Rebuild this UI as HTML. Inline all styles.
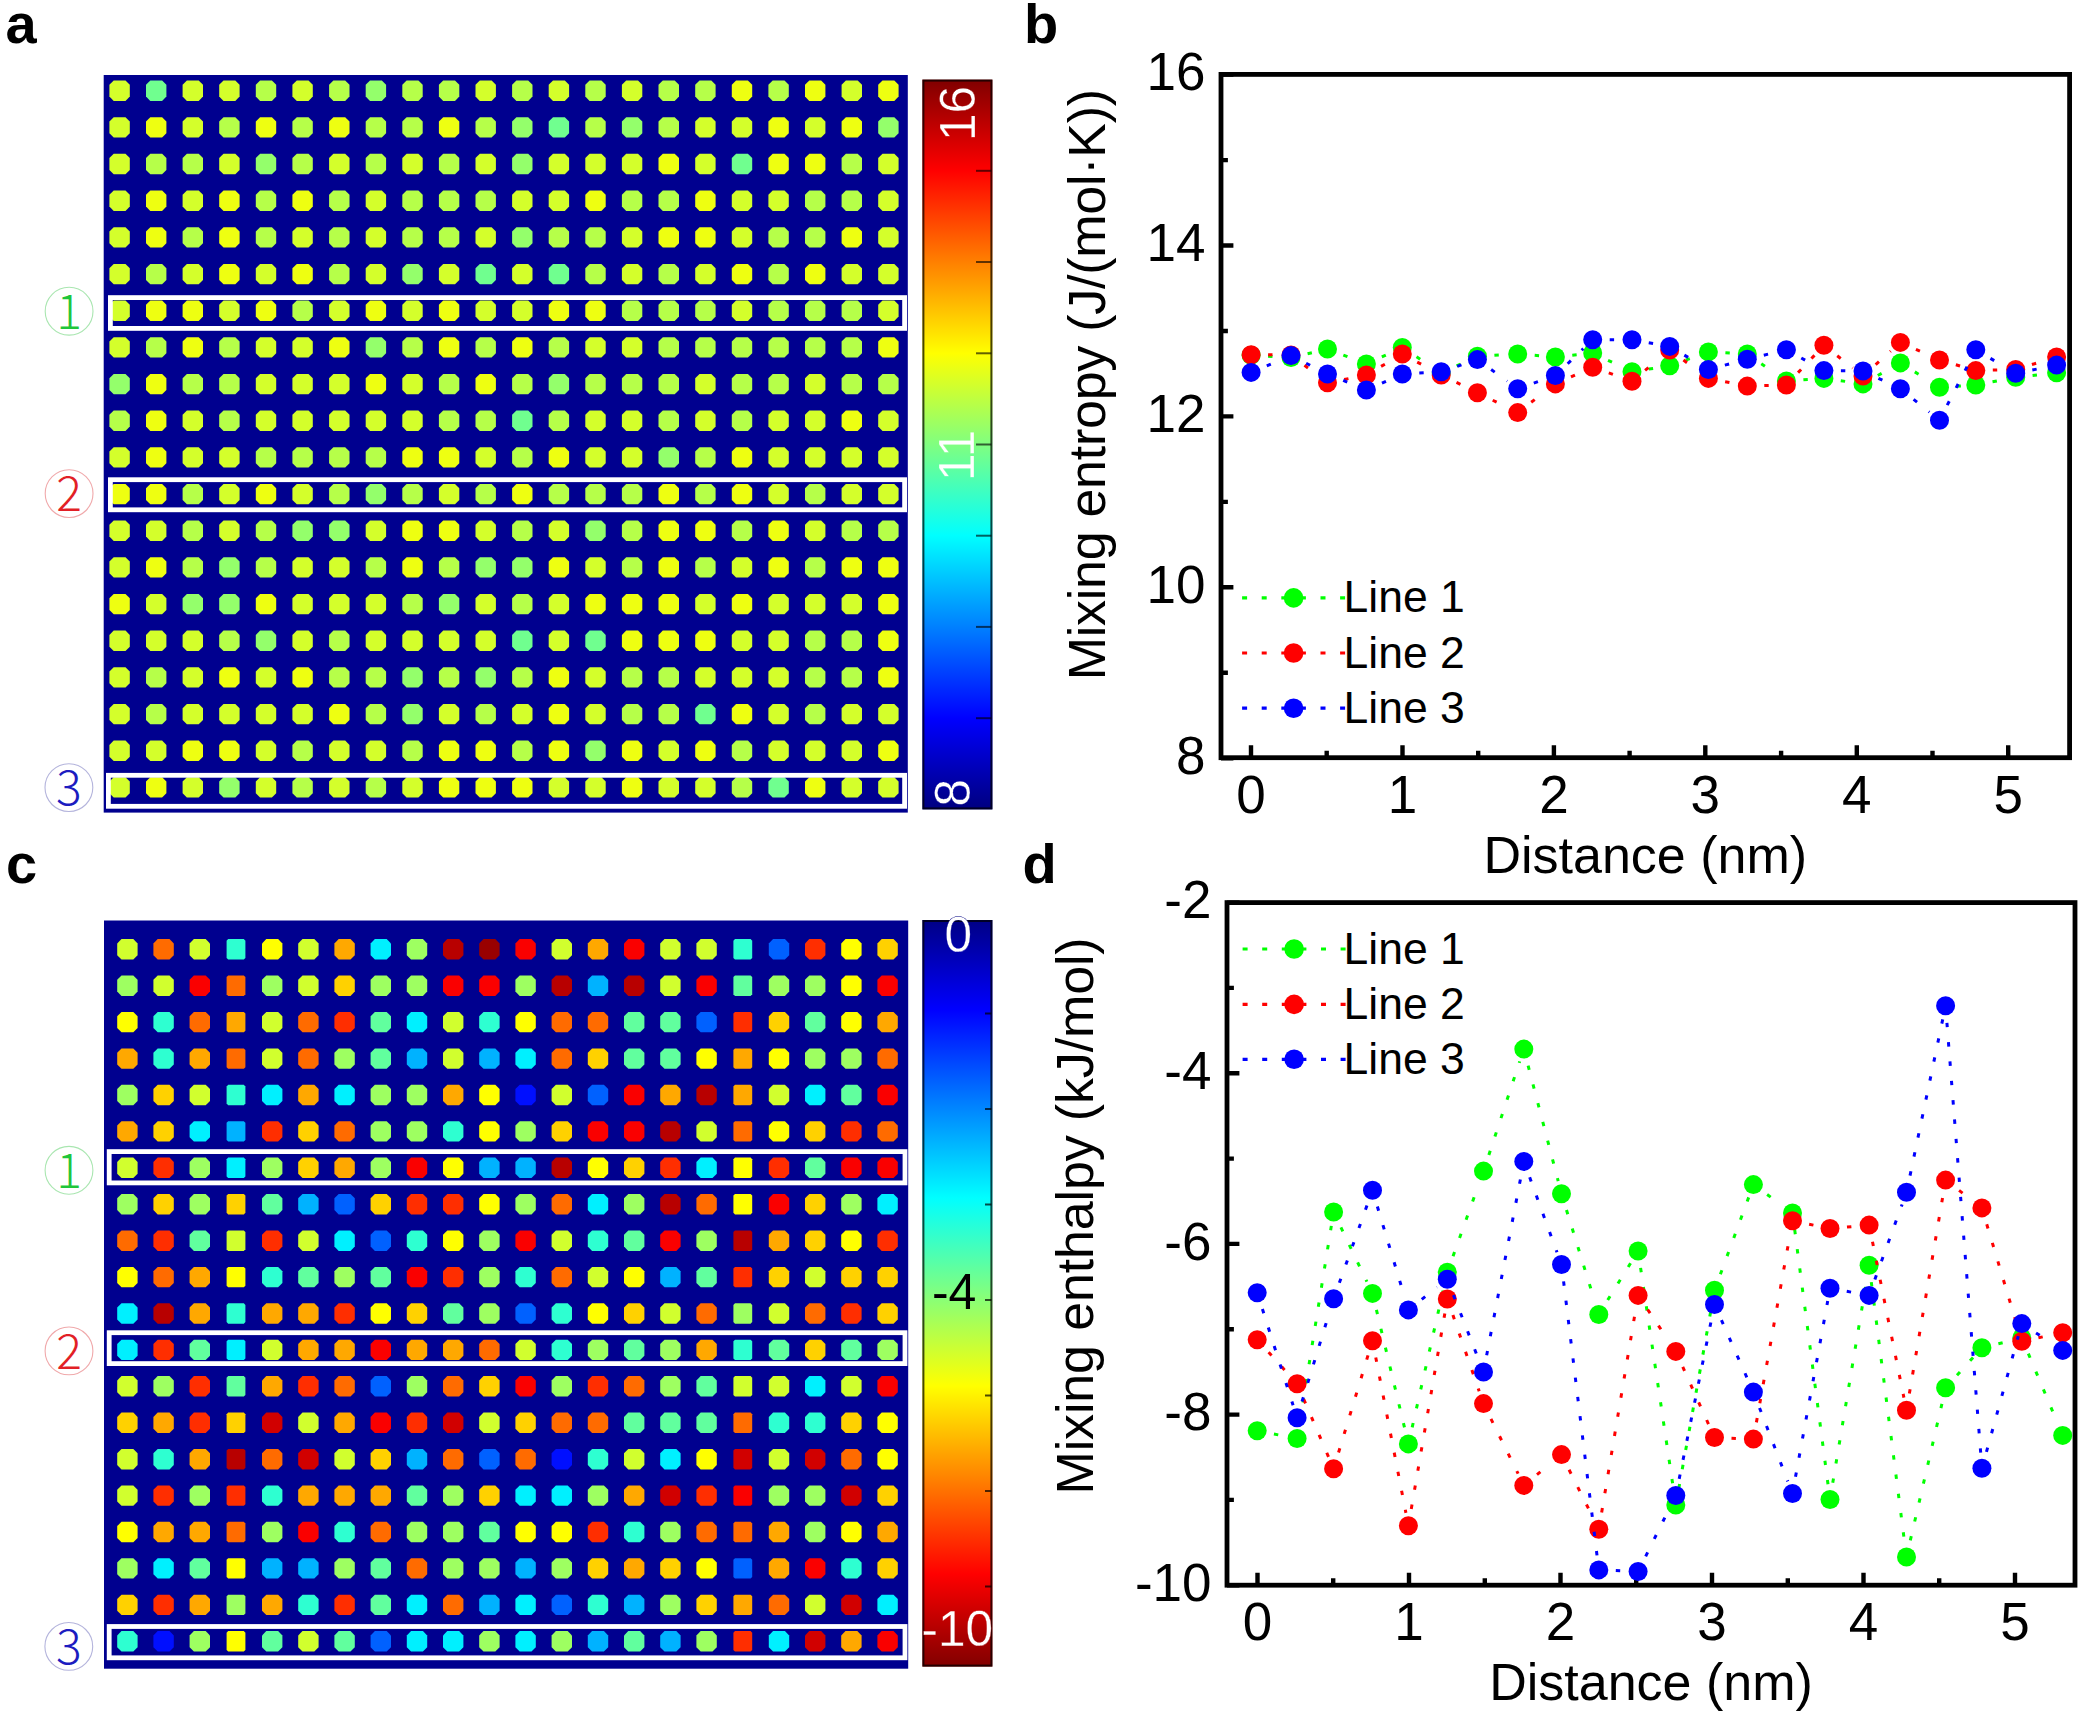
<!DOCTYPE html>
<html lang="en"><head><meta charset="utf-8"><title>Mixing entropy and enthalpy maps</title>
<style>html,body{margin:0;padding:0;background:#fff}body{width:2084px;height:1716px;overflow:hidden}svg{display:block}</style>
</head><body>
<svg width="2084" height="1716" viewBox="0 0 2084 1716">
<rect width="2084" height="1716" fill="#fff"/>
<text x="5.5" y="43.3" font-family="'Liberation Sans',sans-serif" font-size="56" font-weight="700" fill="#000">a</text>
<text x="1024.0" y="42.8" font-family="'Liberation Sans',sans-serif" font-size="56" font-weight="700" fill="#000">b</text>
<text x="6.0" y="883.2" font-family="'Liberation Sans',sans-serif" font-size="56" font-weight="700" fill="#000">c</text>
<text x="1022.5" y="882.6" font-family="'Liberation Sans',sans-serif" font-size="56" font-weight="700" fill="#000">d</text>
<rect x="103.7" y="75.0" width="804.1" height="737.6" fill="#00008f"/>
<g fill="#d4ff2b">
<polygon points="113.7,80.5 125.5,80.5 129.8,84.8 129.8,96.6 125.5,100.9 113.7,100.9 109.4,96.6 109.4,84.8"/>
<polygon points="186.9,80.5 198.7,80.5 203.0,84.8 203.0,96.6 198.7,100.9 186.9,100.9 182.6,96.6 182.6,84.8"/>
<polygon points="223.5,80.5 235.3,80.5 239.6,84.8 239.6,96.6 235.3,100.9 223.5,100.9 219.2,96.6 219.2,84.8"/>
<polygon points="296.8,80.5 308.5,80.5 312.8,84.8 312.8,96.6 308.5,100.9 296.8,100.9 292.4,96.6 292.4,84.8"/>
<polygon points="479.8,80.5 491.6,80.5 495.9,84.8 495.9,96.6 491.6,100.9 479.8,100.9 475.5,96.6 475.5,84.8"/>
<polygon points="553.0,80.5 564.8,80.5 569.1,84.8 569.1,96.6 564.8,100.9 553.0,100.9 548.7,96.6 548.7,84.8"/>
<polygon points="626.2,80.5 638.0,80.5 642.3,84.8 642.3,96.6 638.0,100.9 626.2,100.9 621.9,96.6 621.9,84.8"/>
<polygon points="845.9,80.5 857.7,80.5 862.0,84.8 862.0,96.6 857.7,100.9 845.9,100.9 841.6,96.6 841.6,84.8"/>
<polygon points="113.7,117.2 125.5,117.2 129.8,121.5 129.8,133.3 125.5,137.6 113.7,137.6 109.4,133.3 109.4,121.5"/>
<polygon points="186.9,117.2 198.7,117.2 203.0,121.5 203.0,133.3 198.7,137.6 186.9,137.6 182.6,133.3 182.6,121.5"/>
<polygon points="699.5,117.2 711.3,117.2 715.6,121.5 715.6,133.3 711.3,137.6 699.5,137.6 695.2,133.3 695.2,121.5"/>
<polygon points="736.1,117.2 747.9,117.2 752.2,121.5 752.2,133.3 747.9,137.6 736.1,137.6 731.8,133.3 731.8,121.5"/>
<polygon points="809.3,117.2 821.1,117.2 825.4,121.5 825.4,133.3 821.1,137.6 809.3,137.6 805.0,133.3 805.0,121.5"/>
<polygon points="113.7,153.8 125.5,153.8 129.8,158.1 129.8,169.9 125.5,174.2 113.7,174.2 109.4,169.9 109.4,158.1"/>
<polygon points="223.5,153.8 235.3,153.8 239.6,158.1 239.6,169.9 235.3,174.2 223.5,174.2 219.2,169.9 219.2,158.1"/>
<polygon points="333.4,153.8 345.2,153.8 349.5,158.1 349.5,169.9 345.2,174.2 333.4,174.2 329.1,169.9 329.1,158.1"/>
<polygon points="406.6,153.8 418.4,153.8 422.7,158.1 422.7,169.9 418.4,174.2 406.6,174.2 402.3,169.9 402.3,158.1"/>
<polygon points="479.8,153.8 491.6,153.8 495.9,158.1 495.9,169.9 491.6,174.2 479.8,174.2 475.5,169.9 475.5,158.1"/>
<polygon points="553.0,153.8 564.8,153.8 569.1,158.1 569.1,169.9 564.8,174.2 553.0,174.2 548.7,169.9 548.7,158.1"/>
<polygon points="589.6,153.8 601.4,153.8 605.7,158.1 605.7,169.9 601.4,174.2 589.6,174.2 585.3,169.9 585.3,158.1"/>
<polygon points="626.2,153.8 638.0,153.8 642.3,158.1 642.3,169.9 638.0,174.2 626.2,174.2 621.9,169.9 621.9,158.1"/>
<polygon points="699.5,153.8 711.3,153.8 715.6,158.1 715.6,169.9 711.3,174.2 699.5,174.2 695.2,169.9 695.2,158.1"/>
<polygon points="882.5,153.8 894.3,153.8 898.6,158.1 898.6,169.9 894.3,174.2 882.5,174.2 878.2,169.9 878.2,158.1"/>
<polygon points="113.7,190.5 125.5,190.5 129.8,194.8 129.8,206.6 125.5,210.9 113.7,210.9 109.4,206.6 109.4,194.8"/>
<polygon points="186.9,190.5 198.7,190.5 203.0,194.8 203.0,206.6 198.7,210.9 186.9,210.9 182.6,206.6 182.6,194.8"/>
<polygon points="370.0,190.5 381.8,190.5 386.1,194.8 386.1,206.6 381.8,210.9 370.0,210.9 365.7,206.6 365.7,194.8"/>
<polygon points="516.4,190.5 528.2,190.5 532.5,194.8 532.5,206.6 528.2,210.9 516.4,210.9 512.1,206.6 512.1,194.8"/>
<polygon points="553.0,190.5 564.8,190.5 569.1,194.8 569.1,206.6 564.8,210.9 553.0,210.9 548.7,206.6 548.7,194.8"/>
<polygon points="736.1,190.5 747.9,190.5 752.2,194.8 752.2,206.6 747.9,210.9 736.1,210.9 731.8,206.6 731.8,194.8"/>
<polygon points="772.7,190.5 784.5,190.5 788.8,194.8 788.8,206.6 784.5,210.9 772.7,210.9 768.4,206.6 768.4,194.8"/>
<polygon points="882.5,190.5 894.3,190.5 898.6,194.8 898.6,206.6 894.3,210.9 882.5,210.9 878.2,206.6 878.2,194.8"/>
<polygon points="113.7,227.2 125.5,227.2 129.8,231.5 129.8,243.3 125.5,247.6 113.7,247.6 109.4,243.3 109.4,231.5"/>
<polygon points="296.8,227.2 308.5,227.2 312.8,231.5 312.8,243.3 308.5,247.6 296.8,247.6 292.4,243.3 292.4,231.5"/>
<polygon points="370.0,227.2 381.8,227.2 386.1,231.5 386.1,243.3 381.8,247.6 370.0,247.6 365.7,243.3 365.7,231.5"/>
<polygon points="479.8,227.2 491.6,227.2 495.9,231.5 495.9,243.3 491.6,247.6 479.8,247.6 475.5,243.3 475.5,231.5"/>
<polygon points="626.2,227.2 638.0,227.2 642.3,231.5 642.3,243.3 638.0,247.6 626.2,247.6 621.9,243.3 621.9,231.5"/>
<polygon points="736.1,227.2 747.9,227.2 752.2,231.5 752.2,243.3 747.9,247.6 736.1,247.6 731.8,243.3 731.8,231.5"/>
<polygon points="882.5,227.2 894.3,227.2 898.6,231.5 898.6,243.3 894.3,247.6 882.5,247.6 878.2,243.3 878.2,231.5"/>
<polygon points="113.7,263.9 125.5,263.9 129.8,268.2 129.8,279.9 125.5,284.2 113.7,284.2 109.4,279.9 109.4,268.2"/>
<polygon points="186.9,263.9 198.7,263.9 203.0,268.2 203.0,279.9 198.7,284.2 186.9,284.2 182.6,279.9 182.6,268.2"/>
<polygon points="260.1,263.9 271.9,263.9 276.2,268.2 276.2,279.9 271.9,284.2 260.1,284.2 255.8,279.9 255.8,268.2"/>
<polygon points="370.0,263.9 381.8,263.9 386.1,268.2 386.1,279.9 381.8,284.2 370.0,284.2 365.7,279.9 365.7,268.2"/>
<polygon points="443.2,263.9 455.0,263.9 459.3,268.2 459.3,279.9 455.0,284.2 443.2,284.2 438.9,279.9 438.9,268.2"/>
<polygon points="516.4,263.9 528.2,263.9 532.5,268.2 532.5,279.9 528.2,284.2 516.4,284.2 512.1,279.9 512.1,268.2"/>
<polygon points="626.2,263.9 638.0,263.9 642.3,268.2 642.3,279.9 638.0,284.2 626.2,284.2 621.9,279.9 621.9,268.2"/>
<polygon points="699.5,263.9 711.3,263.9 715.6,268.2 715.6,279.9 711.3,284.2 699.5,284.2 695.2,279.9 695.2,268.2"/>
<polygon points="845.9,263.9 857.7,263.9 862.0,268.2 862.0,279.9 857.7,284.2 845.9,284.2 841.6,279.9 841.6,268.2"/>
<polygon points="882.5,263.9 894.3,263.9 898.6,268.2 898.6,279.9 894.3,284.2 882.5,284.2 878.2,279.9 878.2,268.2"/>
<polygon points="113.7,300.5 125.5,300.5 129.8,304.8 129.8,316.6 125.5,320.9 113.7,320.9 109.4,316.6 109.4,304.8"/>
<polygon points="223.5,300.5 235.3,300.5 239.6,304.8 239.6,316.6 235.3,320.9 223.5,320.9 219.2,316.6 219.2,304.8"/>
<polygon points="333.4,300.5 345.2,300.5 349.5,304.8 349.5,316.6 345.2,320.9 333.4,320.9 329.1,316.6 329.1,304.8"/>
<polygon points="406.6,300.5 418.4,300.5 422.7,304.8 422.7,316.6 418.4,320.9 406.6,320.9 402.3,316.6 402.3,304.8"/>
<polygon points="479.8,300.5 491.6,300.5 495.9,304.8 495.9,316.6 491.6,320.9 479.8,320.9 475.5,316.6 475.5,304.8"/>
<polygon points="516.4,300.5 528.2,300.5 532.5,304.8 532.5,316.6 528.2,320.9 516.4,320.9 512.1,316.6 512.1,304.8"/>
<polygon points="736.1,300.5 747.9,300.5 752.2,304.8 752.2,316.6 747.9,320.9 736.1,320.9 731.8,316.6 731.8,304.8"/>
<polygon points="882.5,300.5 894.3,300.5 898.6,304.8 898.6,316.6 894.3,320.9 882.5,320.9 878.2,316.6 878.2,304.8"/>
<polygon points="113.7,337.2 125.5,337.2 129.8,341.5 129.8,353.3 125.5,357.6 113.7,357.6 109.4,353.3 109.4,341.5"/>
<polygon points="260.1,337.2 271.9,337.2 276.2,341.5 276.2,353.3 271.9,357.6 260.1,357.6 255.8,353.3 255.8,341.5"/>
<polygon points="296.8,337.2 308.5,337.2 312.8,341.5 312.8,353.3 308.5,357.6 296.8,357.6 292.4,353.3 292.4,341.5"/>
<polygon points="589.6,337.2 601.4,337.2 605.7,341.5 605.7,353.3 601.4,357.6 589.6,357.6 585.3,353.3 585.3,341.5"/>
<polygon points="626.2,337.2 638.0,337.2 642.3,341.5 642.3,353.3 638.0,357.6 626.2,357.6 621.9,353.3 621.9,341.5"/>
<polygon points="260.1,373.9 271.9,373.9 276.2,378.2 276.2,390.0 271.9,394.3 260.1,394.3 255.8,390.0 255.8,378.2"/>
<polygon points="296.8,373.9 308.5,373.9 312.8,378.2 312.8,390.0 308.5,394.3 296.8,394.3 292.4,390.0 292.4,378.2"/>
<polygon points="333.4,373.9 345.2,373.9 349.5,378.2 349.5,390.0 345.2,394.3 333.4,394.3 329.1,390.0 329.1,378.2"/>
<polygon points="406.6,373.9 418.4,373.9 422.7,378.2 422.7,390.0 418.4,394.3 406.6,394.3 402.3,390.0 402.3,378.2"/>
<polygon points="699.5,373.9 711.3,373.9 715.6,378.2 715.6,390.0 711.3,394.3 699.5,394.3 695.2,390.0 695.2,378.2"/>
<polygon points="809.3,373.9 821.1,373.9 825.4,378.2 825.4,390.0 821.1,394.3 809.3,394.3 805.0,390.0 805.0,378.2"/>
<polygon points="186.9,410.5 198.7,410.5 203.0,414.8 203.0,426.6 198.7,430.9 186.9,430.9 182.6,426.6 182.6,414.8"/>
<polygon points="260.1,410.5 271.9,410.5 276.2,414.8 276.2,426.6 271.9,430.9 260.1,430.9 255.8,426.6 255.8,414.8"/>
<polygon points="296.8,410.5 308.5,410.5 312.8,414.8 312.8,426.6 308.5,430.9 296.8,430.9 292.4,426.6 292.4,414.8"/>
<polygon points="333.4,410.5 345.2,410.5 349.5,414.8 349.5,426.6 345.2,430.9 333.4,430.9 329.1,426.6 329.1,414.8"/>
<polygon points="370.0,410.5 381.8,410.5 386.1,414.8 386.1,426.6 381.8,430.9 370.0,430.9 365.7,426.6 365.7,414.8"/>
<polygon points="406.6,410.5 418.4,410.5 422.7,414.8 422.7,426.6 418.4,430.9 406.6,430.9 402.3,426.6 402.3,414.8"/>
<polygon points="589.6,410.5 601.4,410.5 605.7,414.8 605.7,426.6 601.4,430.9 589.6,430.9 585.3,426.6 585.3,414.8"/>
<polygon points="626.2,410.5 638.0,410.5 642.3,414.8 642.3,426.6 638.0,430.9 626.2,430.9 621.9,426.6 621.9,414.8"/>
<polygon points="699.5,410.5 711.3,410.5 715.6,414.8 715.6,426.6 711.3,430.9 699.5,430.9 695.2,426.6 695.2,414.8"/>
<polygon points="772.7,410.5 784.5,410.5 788.8,414.8 788.8,426.6 784.5,430.9 772.7,430.9 768.4,426.6 768.4,414.8"/>
<polygon points="809.3,410.5 821.1,410.5 825.4,414.8 825.4,426.6 821.1,430.9 809.3,430.9 805.0,426.6 805.0,414.8"/>
<polygon points="882.5,410.5 894.3,410.5 898.6,414.8 898.6,426.6 894.3,430.9 882.5,430.9 878.2,426.6 878.2,414.8"/>
<polygon points="113.7,447.2 125.5,447.2 129.8,451.5 129.8,463.3 125.5,467.6 113.7,467.6 109.4,463.3 109.4,451.5"/>
<polygon points="186.9,447.2 198.7,447.2 203.0,451.5 203.0,463.3 198.7,467.6 186.9,467.6 182.6,463.3 182.6,451.5"/>
<polygon points="223.5,447.2 235.3,447.2 239.6,451.5 239.6,463.3 235.3,467.6 223.5,467.6 219.2,463.3 219.2,451.5"/>
<polygon points="479.8,447.2 491.6,447.2 495.9,451.5 495.9,463.3 491.6,467.6 479.8,467.6 475.5,463.3 475.5,451.5"/>
<polygon points="589.6,447.2 601.4,447.2 605.7,451.5 605.7,463.3 601.4,467.6 589.6,467.6 585.3,463.3 585.3,451.5"/>
<polygon points="626.2,447.2 638.0,447.2 642.3,451.5 642.3,463.3 638.0,467.6 626.2,467.6 621.9,463.3 621.9,451.5"/>
<polygon points="772.7,447.2 784.5,447.2 788.8,451.5 788.8,463.3 784.5,467.6 772.7,467.6 768.4,463.3 768.4,451.5"/>
<polygon points="809.3,447.2 821.1,447.2 825.4,451.5 825.4,463.3 821.1,467.6 809.3,467.6 805.0,463.3 805.0,451.5"/>
<polygon points="845.9,447.2 857.7,447.2 862.0,451.5 862.0,463.3 857.7,467.6 845.9,467.6 841.6,463.3 841.6,451.5"/>
<polygon points="882.5,447.2 894.3,447.2 898.6,451.5 898.6,463.3 894.3,467.6 882.5,467.6 878.2,463.3 878.2,451.5"/>
<polygon points="223.5,483.9 235.3,483.9 239.6,488.2 239.6,500.0 235.3,504.3 223.5,504.3 219.2,500.0 219.2,488.2"/>
<polygon points="296.8,483.9 308.5,483.9 312.8,488.2 312.8,500.0 308.5,504.3 296.8,504.3 292.4,500.0 292.4,488.2"/>
<polygon points="443.2,483.9 455.0,483.9 459.3,488.2 459.3,500.0 455.0,504.3 443.2,504.3 438.9,500.0 438.9,488.2"/>
<polygon points="772.7,483.9 784.5,483.9 788.8,488.2 788.8,500.0 784.5,504.3 772.7,504.3 768.4,500.0 768.4,488.2"/>
<polygon points="845.9,483.9 857.7,483.9 862.0,488.2 862.0,500.0 857.7,504.3 845.9,504.3 841.6,500.0 841.6,488.2"/>
<polygon points="882.5,483.9 894.3,483.9 898.6,488.2 898.6,500.0 894.3,504.3 882.5,504.3 878.2,500.0 878.2,488.2"/>
<polygon points="113.7,520.5 125.5,520.5 129.8,524.8 129.8,536.6 125.5,540.9 113.7,540.9 109.4,536.6 109.4,524.8"/>
<polygon points="150.3,520.5 162.1,520.5 166.4,524.8 166.4,536.6 162.1,540.9 150.3,540.9 146.0,536.6 146.0,524.8"/>
<polygon points="223.5,520.5 235.3,520.5 239.6,524.8 239.6,536.6 235.3,540.9 223.5,540.9 219.2,536.6 219.2,524.8"/>
<polygon points="370.0,520.5 381.8,520.5 386.1,524.8 386.1,536.6 381.8,540.9 370.0,540.9 365.7,536.6 365.7,524.8"/>
<polygon points="479.8,520.5 491.6,520.5 495.9,524.8 495.9,536.6 491.6,540.9 479.8,540.9 475.5,536.6 475.5,524.8"/>
<polygon points="553.0,520.5 564.8,520.5 569.1,524.8 569.1,536.6 564.8,540.9 553.0,540.9 548.7,536.6 548.7,524.8"/>
<polygon points="809.3,520.5 821.1,520.5 825.4,524.8 825.4,536.6 821.1,540.9 809.3,540.9 805.0,536.6 805.0,524.8"/>
<polygon points="113.7,557.2 125.5,557.2 129.8,561.5 129.8,573.3 125.5,577.6 113.7,577.6 109.4,573.3 109.4,561.5"/>
<polygon points="296.8,557.2 308.5,557.2 312.8,561.5 312.8,573.3 308.5,577.6 296.8,577.6 292.4,573.3 292.4,561.5"/>
<polygon points="333.4,557.2 345.2,557.2 349.5,561.5 349.5,573.3 345.2,577.6 333.4,577.6 329.1,573.3 329.1,561.5"/>
<polygon points="589.6,557.2 601.4,557.2 605.7,561.5 605.7,573.3 601.4,577.6 589.6,577.6 585.3,573.3 585.3,561.5"/>
<polygon points="736.1,557.2 747.9,557.2 752.2,561.5 752.2,573.3 747.9,577.6 736.1,577.6 731.8,573.3 731.8,561.5"/>
<polygon points="150.3,593.9 162.1,593.9 166.4,598.2 166.4,610.0 162.1,614.3 150.3,614.3 146.0,610.0 146.0,598.2"/>
<polygon points="296.8,593.9 308.5,593.9 312.8,598.2 312.8,610.0 308.5,614.3 296.8,614.3 292.4,610.0 292.4,598.2"/>
<polygon points="333.4,593.9 345.2,593.9 349.5,598.2 349.5,610.0 345.2,614.3 333.4,614.3 329.1,610.0 329.1,598.2"/>
<polygon points="370.0,593.9 381.8,593.9 386.1,598.2 386.1,610.0 381.8,614.3 370.0,614.3 365.7,610.0 365.7,598.2"/>
<polygon points="479.8,593.9 491.6,593.9 495.9,598.2 495.9,610.0 491.6,614.3 479.8,614.3 475.5,610.0 475.5,598.2"/>
<polygon points="553.0,593.9 564.8,593.9 569.1,598.2 569.1,610.0 564.8,614.3 553.0,614.3 548.7,610.0 548.7,598.2"/>
<polygon points="699.5,593.9 711.3,593.9 715.6,598.2 715.6,610.0 711.3,614.3 699.5,614.3 695.2,610.0 695.2,598.2"/>
<polygon points="772.7,593.9 784.5,593.9 788.8,598.2 788.8,610.0 784.5,614.3 772.7,614.3 768.4,610.0 768.4,598.2"/>
<polygon points="809.3,593.9 821.1,593.9 825.4,598.2 825.4,610.0 821.1,614.3 809.3,614.3 805.0,610.0 805.0,598.2"/>
<polygon points="845.9,593.9 857.7,593.9 862.0,598.2 862.0,610.0 857.7,614.3 845.9,614.3 841.6,610.0 841.6,598.2"/>
<polygon points="113.7,630.6 125.5,630.6 129.8,634.9 129.8,646.7 125.5,651.0 113.7,651.0 109.4,646.7 109.4,634.9"/>
<polygon points="150.3,630.6 162.1,630.6 166.4,634.9 166.4,646.7 162.1,651.0 150.3,651.0 146.0,646.7 146.0,634.9"/>
<polygon points="186.9,630.6 198.7,630.6 203.0,634.9 203.0,646.7 198.7,651.0 186.9,651.0 182.6,646.7 182.6,634.9"/>
<polygon points="296.8,630.6 308.5,630.6 312.8,634.9 312.8,646.7 308.5,651.0 296.8,651.0 292.4,646.7 292.4,634.9"/>
<polygon points="370.0,630.6 381.8,630.6 386.1,634.9 386.1,646.7 381.8,651.0 370.0,651.0 365.7,646.7 365.7,634.9"/>
<polygon points="406.6,630.6 418.4,630.6 422.7,634.9 422.7,646.7 418.4,651.0 406.6,651.0 402.3,646.7 402.3,634.9"/>
<polygon points="443.2,630.6 455.0,630.6 459.3,634.9 459.3,646.7 455.0,651.0 443.2,651.0 438.9,646.7 438.9,634.9"/>
<polygon points="479.8,630.6 491.6,630.6 495.9,634.9 495.9,646.7 491.6,651.0 479.8,651.0 475.5,646.7 475.5,634.9"/>
<polygon points="553.0,630.6 564.8,630.6 569.1,634.9 569.1,646.7 564.8,651.0 553.0,651.0 548.7,646.7 548.7,634.9"/>
<polygon points="736.1,630.6 747.9,630.6 752.2,634.9 752.2,646.7 747.9,651.0 736.1,651.0 731.8,646.7 731.8,634.9"/>
<polygon points="772.7,630.6 784.5,630.6 788.8,634.9 788.8,646.7 784.5,651.0 772.7,651.0 768.4,646.7 768.4,634.9"/>
<polygon points="113.7,667.2 125.5,667.2 129.8,671.5 129.8,683.3 125.5,687.6 113.7,687.6 109.4,683.3 109.4,671.5"/>
<polygon points="186.9,667.2 198.7,667.2 203.0,671.5 203.0,683.3 198.7,687.6 186.9,687.6 182.6,683.3 182.6,671.5"/>
<polygon points="260.1,667.2 271.9,667.2 276.2,671.5 276.2,683.3 271.9,687.6 260.1,687.6 255.8,683.3 255.8,671.5"/>
<polygon points="589.6,667.2 601.4,667.2 605.7,671.5 605.7,683.3 601.4,687.6 589.6,687.6 585.3,683.3 585.3,671.5"/>
<polygon points="699.5,667.2 711.3,667.2 715.6,671.5 715.6,683.3 711.3,687.6 699.5,687.6 695.2,683.3 695.2,671.5"/>
<polygon points="736.1,667.2 747.9,667.2 752.2,671.5 752.2,683.3 747.9,687.6 736.1,687.6 731.8,683.3 731.8,671.5"/>
<polygon points="772.7,667.2 784.5,667.2 788.8,671.5 788.8,683.3 784.5,687.6 772.7,687.6 768.4,683.3 768.4,671.5"/>
<polygon points="113.7,703.9 125.5,703.9 129.8,708.2 129.8,720.0 125.5,724.3 113.7,724.3 109.4,720.0 109.4,708.2"/>
<polygon points="186.9,703.9 198.7,703.9 203.0,708.2 203.0,720.0 198.7,724.3 186.9,724.3 182.6,720.0 182.6,708.2"/>
<polygon points="223.5,703.9 235.3,703.9 239.6,708.2 239.6,720.0 235.3,724.3 223.5,724.3 219.2,720.0 219.2,708.2"/>
<polygon points="260.1,703.9 271.9,703.9 276.2,708.2 276.2,720.0 271.9,724.3 260.1,724.3 255.8,720.0 255.8,708.2"/>
<polygon points="296.8,703.9 308.5,703.9 312.8,708.2 312.8,720.0 308.5,724.3 296.8,724.3 292.4,720.0 292.4,708.2"/>
<polygon points="443.2,703.9 455.0,703.9 459.3,708.2 459.3,720.0 455.0,724.3 443.2,724.3 438.9,720.0 438.9,708.2"/>
<polygon points="516.4,703.9 528.2,703.9 532.5,708.2 532.5,720.0 528.2,724.3 516.4,724.3 512.1,720.0 512.1,708.2"/>
<polygon points="589.6,703.9 601.4,703.9 605.7,708.2 605.7,720.0 601.4,724.3 589.6,724.3 585.3,720.0 585.3,708.2"/>
<polygon points="772.7,703.9 784.5,703.9 788.8,708.2 788.8,720.0 784.5,724.3 772.7,724.3 768.4,720.0 768.4,708.2"/>
<polygon points="845.9,703.9 857.7,703.9 862.0,708.2 862.0,720.0 857.7,724.3 845.9,724.3 841.6,720.0 841.6,708.2"/>
<polygon points="882.5,703.9 894.3,703.9 898.6,708.2 898.6,720.0 894.3,724.3 882.5,724.3 878.2,720.0 878.2,708.2"/>
<polygon points="113.7,740.6 125.5,740.6 129.8,744.9 129.8,756.7 125.5,761.0 113.7,761.0 109.4,756.7 109.4,744.9"/>
<polygon points="150.3,740.6 162.1,740.6 166.4,744.9 166.4,756.7 162.1,761.0 150.3,761.0 146.0,756.7 146.0,744.9"/>
<polygon points="260.1,740.6 271.9,740.6 276.2,744.9 276.2,756.7 271.9,761.0 260.1,761.0 255.8,756.7 255.8,744.9"/>
<polygon points="333.4,740.6 345.2,740.6 349.5,744.9 349.5,756.7 345.2,761.0 333.4,761.0 329.1,756.7 329.1,744.9"/>
<polygon points="370.0,740.6 381.8,740.6 386.1,744.9 386.1,756.7 381.8,761.0 370.0,761.0 365.7,756.7 365.7,744.9"/>
<polygon points="662.8,740.6 674.7,740.6 679.0,744.9 679.0,756.7 674.7,761.0 662.8,761.0 658.5,756.7 658.5,744.9"/>
<polygon points="772.7,740.6 784.5,740.6 788.8,744.9 788.8,756.7 784.5,761.0 772.7,761.0 768.4,756.7 768.4,744.9"/>
<polygon points="809.3,740.6 821.1,740.6 825.4,744.9 825.4,756.7 821.1,761.0 809.3,761.0 805.0,756.7 805.0,744.9"/>
<polygon points="845.9,740.6 857.7,740.6 862.0,744.9 862.0,756.7 857.7,761.0 845.9,761.0 841.6,756.7 841.6,744.9"/>
<polygon points="113.7,777.2 125.5,777.2 129.8,781.5 129.8,793.3 125.5,797.6 113.7,797.6 109.4,793.3 109.4,781.5"/>
<polygon points="186.9,777.2 198.7,777.2 203.0,781.5 203.0,793.3 198.7,797.6 186.9,797.6 182.6,793.3 182.6,781.5"/>
<polygon points="260.1,777.2 271.9,777.2 276.2,781.5 276.2,793.3 271.9,797.6 260.1,797.6 255.8,793.3 255.8,781.5"/>
<polygon points="333.4,777.2 345.2,777.2 349.5,781.5 349.5,793.3 345.2,797.6 333.4,797.6 329.1,793.3 329.1,781.5"/>
<polygon points="406.6,777.2 418.4,777.2 422.7,781.5 422.7,793.3 418.4,797.6 406.6,797.6 402.3,793.3 402.3,781.5"/>
<polygon points="553.0,777.2 564.8,777.2 569.1,781.5 569.1,793.3 564.8,797.6 553.0,797.6 548.7,793.3 548.7,781.5"/>
<polygon points="589.6,777.2 601.4,777.2 605.7,781.5 605.7,793.3 601.4,797.6 589.6,797.6 585.3,793.3 585.3,781.5"/>
<polygon points="662.8,777.2 674.7,777.2 679.0,781.5 679.0,793.3 674.7,797.6 662.8,797.6 658.5,793.3 658.5,781.5"/>
<polygon points="699.5,777.2 711.3,777.2 715.6,781.5 715.6,793.3 711.3,797.6 699.5,797.6 695.2,793.3 695.2,781.5"/>
<polygon points="845.9,777.2 857.7,777.2 862.0,781.5 862.0,793.3 857.7,797.6 845.9,797.6 841.6,793.3 841.6,781.5"/>
<polygon points="882.5,777.2 894.3,777.2 898.6,781.5 898.6,793.3 894.3,797.6 882.5,797.6 878.2,793.3 878.2,781.5"/>
</g>
<g fill="#70ff8f">
<polygon points="150.3,80.5 162.1,80.5 166.4,84.8 166.4,96.6 162.1,100.9 150.3,100.9 146.0,96.6 146.0,84.8"/>
<polygon points="553.0,117.2 564.8,117.2 569.1,121.5 569.1,133.3 564.8,137.6 553.0,137.6 548.7,133.3 548.7,121.5"/>
<polygon points="736.1,153.8 747.9,153.8 752.2,158.1 752.2,169.9 747.9,174.2 736.1,174.2 731.8,169.9 731.8,158.1"/>
<polygon points="479.8,263.9 491.6,263.9 495.9,268.2 495.9,279.9 491.6,284.2 479.8,284.2 475.5,279.9 475.5,268.2"/>
<polygon points="553.0,263.9 564.8,263.9 569.1,268.2 569.1,279.9 564.8,284.2 553.0,284.2 548.7,279.9 548.7,268.2"/>
<polygon points="516.4,410.5 528.2,410.5 532.5,414.8 532.5,426.6 528.2,430.9 516.4,430.9 512.1,426.6 512.1,414.8"/>
<polygon points="516.4,630.6 528.2,630.6 532.5,634.9 532.5,646.7 528.2,651.0 516.4,651.0 512.1,646.7 512.1,634.9"/>
<polygon points="589.6,630.6 601.4,630.6 605.7,634.9 605.7,646.7 601.4,651.0 589.6,651.0 585.3,646.7 585.3,634.9"/>
<polygon points="699.5,703.9 711.3,703.9 715.6,708.2 715.6,720.0 711.3,724.3 699.5,724.3 695.2,720.0 695.2,708.2"/>
<polygon points="772.7,777.2 784.5,777.2 788.8,781.5 788.8,793.3 784.5,797.6 772.7,797.6 768.4,793.3 768.4,781.5"/>
</g>
<g fill="#b6ff49">
<polygon points="260.1,80.5 271.9,80.5 276.2,84.8 276.2,96.6 271.9,100.9 260.1,100.9 255.8,96.6 255.8,84.8"/>
<polygon points="333.4,80.5 345.2,80.5 349.5,84.8 349.5,96.6 345.2,100.9 333.4,100.9 329.1,96.6 329.1,84.8"/>
<polygon points="406.6,80.5 418.4,80.5 422.7,84.8 422.7,96.6 418.4,100.9 406.6,100.9 402.3,96.6 402.3,84.8"/>
<polygon points="443.2,80.5 455.0,80.5 459.3,84.8 459.3,96.6 455.0,100.9 443.2,100.9 438.9,96.6 438.9,84.8"/>
<polygon points="516.4,80.5 528.2,80.5 532.5,84.8 532.5,96.6 528.2,100.9 516.4,100.9 512.1,96.6 512.1,84.8"/>
<polygon points="589.6,80.5 601.4,80.5 605.7,84.8 605.7,96.6 601.4,100.9 589.6,100.9 585.3,96.6 585.3,84.8"/>
<polygon points="662.8,80.5 674.7,80.5 679.0,84.8 679.0,96.6 674.7,100.9 662.8,100.9 658.5,96.6 658.5,84.8"/>
<polygon points="699.5,80.5 711.3,80.5 715.6,84.8 715.6,96.6 711.3,100.9 699.5,100.9 695.2,96.6 695.2,84.8"/>
<polygon points="772.7,80.5 784.5,80.5 788.8,84.8 788.8,96.6 784.5,100.9 772.7,100.9 768.4,96.6 768.4,84.8"/>
<polygon points="223.5,117.2 235.3,117.2 239.6,121.5 239.6,133.3 235.3,137.6 223.5,137.6 219.2,133.3 219.2,121.5"/>
<polygon points="296.8,117.2 308.5,117.2 312.8,121.5 312.8,133.3 308.5,137.6 296.8,137.6 292.4,133.3 292.4,121.5"/>
<polygon points="370.0,117.2 381.8,117.2 386.1,121.5 386.1,133.3 381.8,137.6 370.0,137.6 365.7,133.3 365.7,121.5"/>
<polygon points="406.6,117.2 418.4,117.2 422.7,121.5 422.7,133.3 418.4,137.6 406.6,137.6 402.3,133.3 402.3,121.5"/>
<polygon points="479.8,117.2 491.6,117.2 495.9,121.5 495.9,133.3 491.6,137.6 479.8,137.6 475.5,133.3 475.5,121.5"/>
<polygon points="589.6,117.2 601.4,117.2 605.7,121.5 605.7,133.3 601.4,137.6 589.6,137.6 585.3,133.3 585.3,121.5"/>
<polygon points="662.8,117.2 674.7,117.2 679.0,121.5 679.0,133.3 674.7,137.6 662.8,137.6 658.5,133.3 658.5,121.5"/>
<polygon points="150.3,153.8 162.1,153.8 166.4,158.1 166.4,169.9 162.1,174.2 150.3,174.2 146.0,169.9 146.0,158.1"/>
<polygon points="186.9,153.8 198.7,153.8 203.0,158.1 203.0,169.9 198.7,174.2 186.9,174.2 182.6,169.9 182.6,158.1"/>
<polygon points="296.8,153.8 308.5,153.8 312.8,158.1 312.8,169.9 308.5,174.2 296.8,174.2 292.4,169.9 292.4,158.1"/>
<polygon points="370.0,153.8 381.8,153.8 386.1,158.1 386.1,169.9 381.8,174.2 370.0,174.2 365.7,169.9 365.7,158.1"/>
<polygon points="443.2,153.8 455.0,153.8 459.3,158.1 459.3,169.9 455.0,174.2 443.2,174.2 438.9,169.9 438.9,158.1"/>
<polygon points="845.9,153.8 857.7,153.8 862.0,158.1 862.0,169.9 857.7,174.2 845.9,174.2 841.6,169.9 841.6,158.1"/>
<polygon points="260.1,190.5 271.9,190.5 276.2,194.8 276.2,206.6 271.9,210.9 260.1,210.9 255.8,206.6 255.8,194.8"/>
<polygon points="333.4,190.5 345.2,190.5 349.5,194.8 349.5,206.6 345.2,210.9 333.4,210.9 329.1,206.6 329.1,194.8"/>
<polygon points="406.6,190.5 418.4,190.5 422.7,194.8 422.7,206.6 418.4,210.9 406.6,210.9 402.3,206.6 402.3,194.8"/>
<polygon points="443.2,190.5 455.0,190.5 459.3,194.8 459.3,206.6 455.0,210.9 443.2,210.9 438.9,206.6 438.9,194.8"/>
<polygon points="479.8,190.5 491.6,190.5 495.9,194.8 495.9,206.6 491.6,210.9 479.8,210.9 475.5,206.6 475.5,194.8"/>
<polygon points="626.2,190.5 638.0,190.5 642.3,194.8 642.3,206.6 638.0,210.9 626.2,210.9 621.9,206.6 621.9,194.8"/>
<polygon points="662.8,190.5 674.7,190.5 679.0,194.8 679.0,206.6 674.7,210.9 662.8,210.9 658.5,206.6 658.5,194.8"/>
<polygon points="809.3,190.5 821.1,190.5 825.4,194.8 825.4,206.6 821.1,210.9 809.3,210.9 805.0,206.6 805.0,194.8"/>
<polygon points="845.9,190.5 857.7,190.5 862.0,194.8 862.0,206.6 857.7,210.9 845.9,210.9 841.6,206.6 841.6,194.8"/>
<polygon points="186.9,227.2 198.7,227.2 203.0,231.5 203.0,243.3 198.7,247.6 186.9,247.6 182.6,243.3 182.6,231.5"/>
<polygon points="260.1,227.2 271.9,227.2 276.2,231.5 276.2,243.3 271.9,247.6 260.1,247.6 255.8,243.3 255.8,231.5"/>
<polygon points="333.4,227.2 345.2,227.2 349.5,231.5 349.5,243.3 345.2,247.6 333.4,247.6 329.1,243.3 329.1,231.5"/>
<polygon points="406.6,227.2 418.4,227.2 422.7,231.5 422.7,243.3 418.4,247.6 406.6,247.6 402.3,243.3 402.3,231.5"/>
<polygon points="443.2,227.2 455.0,227.2 459.3,231.5 459.3,243.3 455.0,247.6 443.2,247.6 438.9,243.3 438.9,231.5"/>
<polygon points="553.0,227.2 564.8,227.2 569.1,231.5 569.1,243.3 564.8,247.6 553.0,247.6 548.7,243.3 548.7,231.5"/>
<polygon points="589.6,227.2 601.4,227.2 605.7,231.5 605.7,243.3 601.4,247.6 589.6,247.6 585.3,243.3 585.3,231.5"/>
<polygon points="772.7,227.2 784.5,227.2 788.8,231.5 788.8,243.3 784.5,247.6 772.7,247.6 768.4,243.3 768.4,231.5"/>
<polygon points="809.3,227.2 821.1,227.2 825.4,231.5 825.4,243.3 821.1,247.6 809.3,247.6 805.0,243.3 805.0,231.5"/>
<polygon points="150.3,263.9 162.1,263.9 166.4,268.2 166.4,279.9 162.1,284.2 150.3,284.2 146.0,279.9 146.0,268.2"/>
<polygon points="333.4,263.9 345.2,263.9 349.5,268.2 349.5,279.9 345.2,284.2 333.4,284.2 329.1,279.9 329.1,268.2"/>
<polygon points="589.6,263.9 601.4,263.9 605.7,268.2 605.7,279.9 601.4,284.2 589.6,284.2 585.3,279.9 585.3,268.2"/>
<polygon points="662.8,263.9 674.7,263.9 679.0,268.2 679.0,279.9 674.7,284.2 662.8,284.2 658.5,279.9 658.5,268.2"/>
<polygon points="772.7,263.9 784.5,263.9 788.8,268.2 788.8,279.9 784.5,284.2 772.7,284.2 768.4,279.9 768.4,268.2"/>
<polygon points="296.8,300.5 308.5,300.5 312.8,304.8 312.8,316.6 308.5,320.9 296.8,320.9 292.4,316.6 292.4,304.8"/>
<polygon points="626.2,300.5 638.0,300.5 642.3,304.8 642.3,316.6 638.0,320.9 626.2,320.9 621.9,316.6 621.9,304.8"/>
<polygon points="662.8,300.5 674.7,300.5 679.0,304.8 679.0,316.6 674.7,320.9 662.8,320.9 658.5,316.6 658.5,304.8"/>
<polygon points="699.5,300.5 711.3,300.5 715.6,304.8 715.6,316.6 711.3,320.9 699.5,320.9 695.2,316.6 695.2,304.8"/>
<polygon points="772.7,300.5 784.5,300.5 788.8,304.8 788.8,316.6 784.5,320.9 772.7,320.9 768.4,316.6 768.4,304.8"/>
<polygon points="809.3,300.5 821.1,300.5 825.4,304.8 825.4,316.6 821.1,320.9 809.3,320.9 805.0,316.6 805.0,304.8"/>
<polygon points="845.9,300.5 857.7,300.5 862.0,304.8 862.0,316.6 857.7,320.9 845.9,320.9 841.6,316.6 841.6,304.8"/>
<polygon points="150.3,337.2 162.1,337.2 166.4,341.5 166.4,353.3 162.1,357.6 150.3,357.6 146.0,353.3 146.0,341.5"/>
<polygon points="223.5,337.2 235.3,337.2 239.6,341.5 239.6,353.3 235.3,357.6 223.5,357.6 219.2,353.3 219.2,341.5"/>
<polygon points="406.6,337.2 418.4,337.2 422.7,341.5 422.7,353.3 418.4,357.6 406.6,357.6 402.3,353.3 402.3,341.5"/>
<polygon points="479.8,337.2 491.6,337.2 495.9,341.5 495.9,353.3 491.6,357.6 479.8,357.6 475.5,353.3 475.5,341.5"/>
<polygon points="553.0,337.2 564.8,337.2 569.1,341.5 569.1,353.3 564.8,357.6 553.0,357.6 548.7,353.3 548.7,341.5"/>
<polygon points="662.8,337.2 674.7,337.2 679.0,341.5 679.0,353.3 674.7,357.6 662.8,357.6 658.5,353.3 658.5,341.5"/>
<polygon points="699.5,337.2 711.3,337.2 715.6,341.5 715.6,353.3 711.3,357.6 699.5,357.6 695.2,353.3 695.2,341.5"/>
<polygon points="736.1,337.2 747.9,337.2 752.2,341.5 752.2,353.3 747.9,357.6 736.1,357.6 731.8,353.3 731.8,341.5"/>
<polygon points="772.7,337.2 784.5,337.2 788.8,341.5 788.8,353.3 784.5,357.6 772.7,357.6 768.4,353.3 768.4,341.5"/>
<polygon points="809.3,337.2 821.1,337.2 825.4,341.5 825.4,353.3 821.1,357.6 809.3,357.6 805.0,353.3 805.0,341.5"/>
<polygon points="845.9,337.2 857.7,337.2 862.0,341.5 862.0,353.3 857.7,357.6 845.9,357.6 841.6,353.3 841.6,341.5"/>
<polygon points="186.9,373.9 198.7,373.9 203.0,378.2 203.0,390.0 198.7,394.3 186.9,394.3 182.6,390.0 182.6,378.2"/>
<polygon points="223.5,373.9 235.3,373.9 239.6,378.2 239.6,390.0 235.3,394.3 223.5,394.3 219.2,390.0 219.2,378.2"/>
<polygon points="443.2,373.9 455.0,373.9 459.3,378.2 459.3,390.0 455.0,394.3 443.2,394.3 438.9,390.0 438.9,378.2"/>
<polygon points="516.4,373.9 528.2,373.9 532.5,378.2 532.5,390.0 528.2,394.3 516.4,394.3 512.1,390.0 512.1,378.2"/>
<polygon points="589.6,373.9 601.4,373.9 605.7,378.2 605.7,390.0 601.4,394.3 589.6,394.3 585.3,390.0 585.3,378.2"/>
<polygon points="626.2,373.9 638.0,373.9 642.3,378.2 642.3,390.0 638.0,394.3 626.2,394.3 621.9,390.0 621.9,378.2"/>
<polygon points="662.8,373.9 674.7,373.9 679.0,378.2 679.0,390.0 674.7,394.3 662.8,394.3 658.5,390.0 658.5,378.2"/>
<polygon points="736.1,373.9 747.9,373.9 752.2,378.2 752.2,390.0 747.9,394.3 736.1,394.3 731.8,390.0 731.8,378.2"/>
<polygon points="772.7,373.9 784.5,373.9 788.8,378.2 788.8,390.0 784.5,394.3 772.7,394.3 768.4,390.0 768.4,378.2"/>
<polygon points="845.9,373.9 857.7,373.9 862.0,378.2 862.0,390.0 857.7,394.3 845.9,394.3 841.6,390.0 841.6,378.2"/>
<polygon points="882.5,373.9 894.3,373.9 898.6,378.2 898.6,390.0 894.3,394.3 882.5,394.3 878.2,390.0 878.2,378.2"/>
<polygon points="113.7,410.5 125.5,410.5 129.8,414.8 129.8,426.6 125.5,430.9 113.7,430.9 109.4,426.6 109.4,414.8"/>
<polygon points="223.5,410.5 235.3,410.5 239.6,414.8 239.6,426.6 235.3,430.9 223.5,430.9 219.2,426.6 219.2,414.8"/>
<polygon points="443.2,410.5 455.0,410.5 459.3,414.8 459.3,426.6 455.0,430.9 443.2,430.9 438.9,426.6 438.9,414.8"/>
<polygon points="479.8,410.5 491.6,410.5 495.9,414.8 495.9,426.6 491.6,430.9 479.8,430.9 475.5,426.6 475.5,414.8"/>
<polygon points="553.0,410.5 564.8,410.5 569.1,414.8 569.1,426.6 564.8,430.9 553.0,430.9 548.7,426.6 548.7,414.8"/>
<polygon points="662.8,410.5 674.7,410.5 679.0,414.8 679.0,426.6 674.7,430.9 662.8,430.9 658.5,426.6 658.5,414.8"/>
<polygon points="736.1,410.5 747.9,410.5 752.2,414.8 752.2,426.6 747.9,430.9 736.1,430.9 731.8,426.6 731.8,414.8"/>
<polygon points="260.1,447.2 271.9,447.2 276.2,451.5 276.2,463.3 271.9,467.6 260.1,467.6 255.8,463.3 255.8,451.5"/>
<polygon points="296.8,447.2 308.5,447.2 312.8,451.5 312.8,463.3 308.5,467.6 296.8,467.6 292.4,463.3 292.4,451.5"/>
<polygon points="333.4,447.2 345.2,447.2 349.5,451.5 349.5,463.3 345.2,467.6 333.4,467.6 329.1,463.3 329.1,451.5"/>
<polygon points="370.0,447.2 381.8,447.2 386.1,451.5 386.1,463.3 381.8,467.6 370.0,467.6 365.7,463.3 365.7,451.5"/>
<polygon points="516.4,447.2 528.2,447.2 532.5,451.5 532.5,463.3 528.2,467.6 516.4,467.6 512.1,463.3 512.1,451.5"/>
<polygon points="699.5,447.2 711.3,447.2 715.6,451.5 715.6,463.3 711.3,467.6 699.5,467.6 695.2,463.3 695.2,451.5"/>
<polygon points="186.9,483.9 198.7,483.9 203.0,488.2 203.0,500.0 198.7,504.3 186.9,504.3 182.6,500.0 182.6,488.2"/>
<polygon points="333.4,483.9 345.2,483.9 349.5,488.2 349.5,500.0 345.2,504.3 333.4,504.3 329.1,500.0 329.1,488.2"/>
<polygon points="406.6,483.9 418.4,483.9 422.7,488.2 422.7,500.0 418.4,504.3 406.6,504.3 402.3,500.0 402.3,488.2"/>
<polygon points="479.8,483.9 491.6,483.9 495.9,488.2 495.9,500.0 491.6,504.3 479.8,504.3 475.5,500.0 475.5,488.2"/>
<polygon points="553.0,483.9 564.8,483.9 569.1,488.2 569.1,500.0 564.8,504.3 553.0,504.3 548.7,500.0 548.7,488.2"/>
<polygon points="589.6,483.9 601.4,483.9 605.7,488.2 605.7,500.0 601.4,504.3 589.6,504.3 585.3,500.0 585.3,488.2"/>
<polygon points="626.2,483.9 638.0,483.9 642.3,488.2 642.3,500.0 638.0,504.3 626.2,504.3 621.9,500.0 621.9,488.2"/>
<polygon points="699.5,483.9 711.3,483.9 715.6,488.2 715.6,500.0 711.3,504.3 699.5,504.3 695.2,500.0 695.2,488.2"/>
<polygon points="809.3,483.9 821.1,483.9 825.4,488.2 825.4,500.0 821.1,504.3 809.3,504.3 805.0,500.0 805.0,488.2"/>
<polygon points="186.9,520.5 198.7,520.5 203.0,524.8 203.0,536.6 198.7,540.9 186.9,540.9 182.6,536.6 182.6,524.8"/>
<polygon points="260.1,520.5 271.9,520.5 276.2,524.8 276.2,536.6 271.9,540.9 260.1,540.9 255.8,536.6 255.8,524.8"/>
<polygon points="516.4,520.5 528.2,520.5 532.5,524.8 532.5,536.6 528.2,540.9 516.4,540.9 512.1,536.6 512.1,524.8"/>
<polygon points="626.2,520.5 638.0,520.5 642.3,524.8 642.3,536.6 638.0,540.9 626.2,540.9 621.9,536.6 621.9,524.8"/>
<polygon points="736.1,520.5 747.9,520.5 752.2,524.8 752.2,536.6 747.9,540.9 736.1,540.9 731.8,536.6 731.8,524.8"/>
<polygon points="845.9,520.5 857.7,520.5 862.0,524.8 862.0,536.6 857.7,540.9 845.9,540.9 841.6,536.6 841.6,524.8"/>
<polygon points="882.5,520.5 894.3,520.5 898.6,524.8 898.6,536.6 894.3,540.9 882.5,540.9 878.2,536.6 878.2,524.8"/>
<polygon points="186.9,557.2 198.7,557.2 203.0,561.5 203.0,573.3 198.7,577.6 186.9,577.6 182.6,573.3 182.6,561.5"/>
<polygon points="260.1,557.2 271.9,557.2 276.2,561.5 276.2,573.3 271.9,577.6 260.1,577.6 255.8,573.3 255.8,561.5"/>
<polygon points="370.0,557.2 381.8,557.2 386.1,561.5 386.1,573.3 381.8,577.6 370.0,577.6 365.7,573.3 365.7,561.5"/>
<polygon points="443.2,557.2 455.0,557.2 459.3,561.5 459.3,573.3 455.0,577.6 443.2,577.6 438.9,573.3 438.9,561.5"/>
<polygon points="626.2,557.2 638.0,557.2 642.3,561.5 642.3,573.3 638.0,577.6 626.2,577.6 621.9,573.3 621.9,561.5"/>
<polygon points="699.5,557.2 711.3,557.2 715.6,561.5 715.6,573.3 711.3,577.6 699.5,577.6 695.2,573.3 695.2,561.5"/>
<polygon points="809.3,557.2 821.1,557.2 825.4,561.5 825.4,573.3 821.1,577.6 809.3,577.6 805.0,573.3 805.0,561.5"/>
<polygon points="406.6,593.9 418.4,593.9 422.7,598.2 422.7,610.0 418.4,614.3 406.6,614.3 402.3,610.0 402.3,598.2"/>
<polygon points="516.4,593.9 528.2,593.9 532.5,598.2 532.5,610.0 528.2,614.3 516.4,614.3 512.1,610.0 512.1,598.2"/>
<polygon points="223.5,630.6 235.3,630.6 239.6,634.9 239.6,646.7 235.3,651.0 223.5,651.0 219.2,646.7 219.2,634.9"/>
<polygon points="333.4,630.6 345.2,630.6 349.5,634.9 349.5,646.7 345.2,651.0 333.4,651.0 329.1,646.7 329.1,634.9"/>
<polygon points="809.3,630.6 821.1,630.6 825.4,634.9 825.4,646.7 821.1,651.0 809.3,651.0 805.0,646.7 805.0,634.9"/>
<polygon points="845.9,630.6 857.7,630.6 862.0,634.9 862.0,646.7 857.7,651.0 845.9,651.0 841.6,646.7 841.6,634.9"/>
<polygon points="150.3,667.2 162.1,667.2 166.4,671.5 166.4,683.3 162.1,687.6 150.3,687.6 146.0,683.3 146.0,671.5"/>
<polygon points="333.4,667.2 345.2,667.2 349.5,671.5 349.5,683.3 345.2,687.6 333.4,687.6 329.1,683.3 329.1,671.5"/>
<polygon points="370.0,667.2 381.8,667.2 386.1,671.5 386.1,683.3 381.8,687.6 370.0,687.6 365.7,683.3 365.7,671.5"/>
<polygon points="443.2,667.2 455.0,667.2 459.3,671.5 459.3,683.3 455.0,687.6 443.2,687.6 438.9,683.3 438.9,671.5"/>
<polygon points="516.4,667.2 528.2,667.2 532.5,671.5 532.5,683.3 528.2,687.6 516.4,687.6 512.1,683.3 512.1,671.5"/>
<polygon points="626.2,667.2 638.0,667.2 642.3,671.5 642.3,683.3 638.0,687.6 626.2,687.6 621.9,683.3 621.9,671.5"/>
<polygon points="662.8,667.2 674.7,667.2 679.0,671.5 679.0,683.3 674.7,687.6 662.8,687.6 658.5,683.3 658.5,671.5"/>
<polygon points="809.3,667.2 821.1,667.2 825.4,671.5 825.4,683.3 821.1,687.6 809.3,687.6 805.0,683.3 805.0,671.5"/>
<polygon points="845.9,667.2 857.7,667.2 862.0,671.5 862.0,683.3 857.7,687.6 845.9,687.6 841.6,683.3 841.6,671.5"/>
<polygon points="150.3,703.9 162.1,703.9 166.4,708.2 166.4,720.0 162.1,724.3 150.3,724.3 146.0,720.0 146.0,708.2"/>
<polygon points="370.0,703.9 381.8,703.9 386.1,708.2 386.1,720.0 381.8,724.3 370.0,724.3 365.7,720.0 365.7,708.2"/>
<polygon points="479.8,703.9 491.6,703.9 495.9,708.2 495.9,720.0 491.6,724.3 479.8,724.3 475.5,720.0 475.5,708.2"/>
<polygon points="626.2,703.9 638.0,703.9 642.3,708.2 642.3,720.0 638.0,724.3 626.2,724.3 621.9,720.0 621.9,708.2"/>
<polygon points="662.8,703.9 674.7,703.9 679.0,708.2 679.0,720.0 674.7,724.3 662.8,724.3 658.5,720.0 658.5,708.2"/>
<polygon points="809.3,703.9 821.1,703.9 825.4,708.2 825.4,720.0 821.1,724.3 809.3,724.3 805.0,720.0 805.0,708.2"/>
<polygon points="296.8,740.6 308.5,740.6 312.8,744.9 312.8,756.7 308.5,761.0 296.8,761.0 292.4,756.7 292.4,744.9"/>
<polygon points="406.6,740.6 418.4,740.6 422.7,744.9 422.7,756.7 418.4,761.0 406.6,761.0 402.3,756.7 402.3,744.9"/>
<polygon points="516.4,740.6 528.2,740.6 532.5,744.9 532.5,756.7 528.2,761.0 516.4,761.0 512.1,756.7 512.1,744.9"/>
<polygon points="736.1,740.6 747.9,740.6 752.2,744.9 752.2,756.7 747.9,761.0 736.1,761.0 731.8,756.7 731.8,744.9"/>
<polygon points="296.8,777.2 308.5,777.2 312.8,781.5 312.8,793.3 308.5,797.6 296.8,797.6 292.4,793.3 292.4,781.5"/>
<polygon points="370.0,777.2 381.8,777.2 386.1,781.5 386.1,793.3 381.8,797.6 370.0,797.6 365.7,793.3 365.7,781.5"/>
<polygon points="736.1,777.2 747.9,777.2 752.2,781.5 752.2,793.3 747.9,797.6 736.1,797.6 731.8,793.3 731.8,781.5"/>
</g>
<g fill="#94ff6b">
<polygon points="370.0,80.5 381.8,80.5 386.1,84.8 386.1,96.6 381.8,100.9 370.0,100.9 365.7,96.6 365.7,84.8"/>
<polygon points="516.4,117.2 528.2,117.2 532.5,121.5 532.5,133.3 528.2,137.6 516.4,137.6 512.1,133.3 512.1,121.5"/>
<polygon points="626.2,117.2 638.0,117.2 642.3,121.5 642.3,133.3 638.0,137.6 626.2,137.6 621.9,133.3 621.9,121.5"/>
<polygon points="882.5,117.2 894.3,117.2 898.6,121.5 898.6,133.3 894.3,137.6 882.5,137.6 878.2,133.3 878.2,121.5"/>
<polygon points="260.1,153.8 271.9,153.8 276.2,158.1 276.2,169.9 271.9,174.2 260.1,174.2 255.8,169.9 255.8,158.1"/>
<polygon points="516.4,153.8 528.2,153.8 532.5,158.1 532.5,169.9 528.2,174.2 516.4,174.2 512.1,169.9 512.1,158.1"/>
<polygon points="516.4,227.2 528.2,227.2 532.5,231.5 532.5,243.3 528.2,247.6 516.4,247.6 512.1,243.3 512.1,231.5"/>
<polygon points="406.6,263.9 418.4,263.9 422.7,268.2 422.7,279.9 418.4,284.2 406.6,284.2 402.3,279.9 402.3,268.2"/>
<polygon points="370.0,337.2 381.8,337.2 386.1,341.5 386.1,353.3 381.8,357.6 370.0,357.6 365.7,353.3 365.7,341.5"/>
<polygon points="113.7,373.9 125.5,373.9 129.8,378.2 129.8,390.0 125.5,394.3 113.7,394.3 109.4,390.0 109.4,378.2"/>
<polygon points="553.0,373.9 564.8,373.9 569.1,378.2 569.1,390.0 564.8,394.3 553.0,394.3 548.7,390.0 548.7,378.2"/>
<polygon points="662.8,447.2 674.7,447.2 679.0,451.5 679.0,463.3 674.7,467.6 662.8,467.6 658.5,463.3 658.5,451.5"/>
<polygon points="370.0,483.9 381.8,483.9 386.1,488.2 386.1,500.0 381.8,504.3 370.0,504.3 365.7,500.0 365.7,488.2"/>
<polygon points="296.8,520.5 308.5,520.5 312.8,524.8 312.8,536.6 308.5,540.9 296.8,540.9 292.4,536.6 292.4,524.8"/>
<polygon points="333.4,520.5 345.2,520.5 349.5,524.8 349.5,536.6 345.2,540.9 333.4,540.9 329.1,536.6 329.1,524.8"/>
<polygon points="589.6,520.5 601.4,520.5 605.7,524.8 605.7,536.6 601.4,540.9 589.6,540.9 585.3,536.6 585.3,524.8"/>
<polygon points="223.5,557.2 235.3,557.2 239.6,561.5 239.6,573.3 235.3,577.6 223.5,577.6 219.2,573.3 219.2,561.5"/>
<polygon points="479.8,557.2 491.6,557.2 495.9,561.5 495.9,573.3 491.6,577.6 479.8,577.6 475.5,573.3 475.5,561.5"/>
<polygon points="516.4,557.2 528.2,557.2 532.5,561.5 532.5,573.3 528.2,577.6 516.4,577.6 512.1,573.3 512.1,561.5"/>
<polygon points="186.9,593.9 198.7,593.9 203.0,598.2 203.0,610.0 198.7,614.3 186.9,614.3 182.6,610.0 182.6,598.2"/>
<polygon points="223.5,593.9 235.3,593.9 239.6,598.2 239.6,610.0 235.3,614.3 223.5,614.3 219.2,610.0 219.2,598.2"/>
<polygon points="443.2,593.9 455.0,593.9 459.3,598.2 459.3,610.0 455.0,614.3 443.2,614.3 438.9,610.0 438.9,598.2"/>
<polygon points="260.1,630.6 271.9,630.6 276.2,634.9 276.2,646.7 271.9,651.0 260.1,651.0 255.8,646.7 255.8,634.9"/>
<polygon points="406.6,667.2 418.4,667.2 422.7,671.5 422.7,683.3 418.4,687.6 406.6,687.6 402.3,683.3 402.3,671.5"/>
<polygon points="479.8,667.2 491.6,667.2 495.9,671.5 495.9,683.3 491.6,687.6 479.8,687.6 475.5,683.3 475.5,671.5"/>
<polygon points="406.6,703.9 418.4,703.9 422.7,708.2 422.7,720.0 418.4,724.3 406.6,724.3 402.3,720.0 402.3,708.2"/>
<polygon points="589.6,740.6 601.4,740.6 605.7,744.9 605.7,756.7 601.4,761.0 589.6,761.0 585.3,756.7 585.3,744.9"/>
<polygon points="223.5,777.2 235.3,777.2 239.6,781.5 239.6,793.3 235.3,797.6 223.5,797.6 219.2,793.3 219.2,781.5"/>
</g>
<g fill="#eeff11">
<polygon points="736.1,80.5 747.9,80.5 752.2,84.8 752.2,96.6 747.9,100.9 736.1,100.9 731.8,96.6 731.8,84.8"/>
<polygon points="809.3,80.5 821.1,80.5 825.4,84.8 825.4,96.6 821.1,100.9 809.3,100.9 805.0,96.6 805.0,84.8"/>
<polygon points="882.5,80.5 894.3,80.5 898.6,84.8 898.6,96.6 894.3,100.9 882.5,100.9 878.2,96.6 878.2,84.8"/>
<polygon points="150.3,117.2 162.1,117.2 166.4,121.5 166.4,133.3 162.1,137.6 150.3,137.6 146.0,133.3 146.0,121.5"/>
<polygon points="260.1,117.2 271.9,117.2 276.2,121.5 276.2,133.3 271.9,137.6 260.1,137.6 255.8,133.3 255.8,121.5"/>
<polygon points="333.4,117.2 345.2,117.2 349.5,121.5 349.5,133.3 345.2,137.6 333.4,137.6 329.1,133.3 329.1,121.5"/>
<polygon points="443.2,117.2 455.0,117.2 459.3,121.5 459.3,133.3 455.0,137.6 443.2,137.6 438.9,133.3 438.9,121.5"/>
<polygon points="772.7,117.2 784.5,117.2 788.8,121.5 788.8,133.3 784.5,137.6 772.7,137.6 768.4,133.3 768.4,121.5"/>
<polygon points="845.9,117.2 857.7,117.2 862.0,121.5 862.0,133.3 857.7,137.6 845.9,137.6 841.6,133.3 841.6,121.5"/>
<polygon points="662.8,153.8 674.7,153.8 679.0,158.1 679.0,169.9 674.7,174.2 662.8,174.2 658.5,169.9 658.5,158.1"/>
<polygon points="772.7,153.8 784.5,153.8 788.8,158.1 788.8,169.9 784.5,174.2 772.7,174.2 768.4,169.9 768.4,158.1"/>
<polygon points="809.3,153.8 821.1,153.8 825.4,158.1 825.4,169.9 821.1,174.2 809.3,174.2 805.0,169.9 805.0,158.1"/>
<polygon points="150.3,190.5 162.1,190.5 166.4,194.8 166.4,206.6 162.1,210.9 150.3,210.9 146.0,206.6 146.0,194.8"/>
<polygon points="223.5,190.5 235.3,190.5 239.6,194.8 239.6,206.6 235.3,210.9 223.5,210.9 219.2,206.6 219.2,194.8"/>
<polygon points="296.8,190.5 308.5,190.5 312.8,194.8 312.8,206.6 308.5,210.9 296.8,210.9 292.4,206.6 292.4,194.8"/>
<polygon points="589.6,190.5 601.4,190.5 605.7,194.8 605.7,206.6 601.4,210.9 589.6,210.9 585.3,206.6 585.3,194.8"/>
<polygon points="699.5,190.5 711.3,190.5 715.6,194.8 715.6,206.6 711.3,210.9 699.5,210.9 695.2,206.6 695.2,194.8"/>
<polygon points="150.3,227.2 162.1,227.2 166.4,231.5 166.4,243.3 162.1,247.6 150.3,247.6 146.0,243.3 146.0,231.5"/>
<polygon points="223.5,227.2 235.3,227.2 239.6,231.5 239.6,243.3 235.3,247.6 223.5,247.6 219.2,243.3 219.2,231.5"/>
<polygon points="662.8,227.2 674.7,227.2 679.0,231.5 679.0,243.3 674.7,247.6 662.8,247.6 658.5,243.3 658.5,231.5"/>
<polygon points="699.5,227.2 711.3,227.2 715.6,231.5 715.6,243.3 711.3,247.6 699.5,247.6 695.2,243.3 695.2,231.5"/>
<polygon points="845.9,227.2 857.7,227.2 862.0,231.5 862.0,243.3 857.7,247.6 845.9,247.6 841.6,243.3 841.6,231.5"/>
<polygon points="223.5,263.9 235.3,263.9 239.6,268.2 239.6,279.9 235.3,284.2 223.5,284.2 219.2,279.9 219.2,268.2"/>
<polygon points="296.8,263.9 308.5,263.9 312.8,268.2 312.8,279.9 308.5,284.2 296.8,284.2 292.4,279.9 292.4,268.2"/>
<polygon points="736.1,263.9 747.9,263.9 752.2,268.2 752.2,279.9 747.9,284.2 736.1,284.2 731.8,279.9 731.8,268.2"/>
<polygon points="809.3,263.9 821.1,263.9 825.4,268.2 825.4,279.9 821.1,284.2 809.3,284.2 805.0,279.9 805.0,268.2"/>
<polygon points="150.3,300.5 162.1,300.5 166.4,304.8 166.4,316.6 162.1,320.9 150.3,320.9 146.0,316.6 146.0,304.8"/>
<polygon points="186.9,300.5 198.7,300.5 203.0,304.8 203.0,316.6 198.7,320.9 186.9,320.9 182.6,316.6 182.6,304.8"/>
<polygon points="260.1,300.5 271.9,300.5 276.2,304.8 276.2,316.6 271.9,320.9 260.1,320.9 255.8,316.6 255.8,304.8"/>
<polygon points="370.0,300.5 381.8,300.5 386.1,304.8 386.1,316.6 381.8,320.9 370.0,320.9 365.7,316.6 365.7,304.8"/>
<polygon points="443.2,300.5 455.0,300.5 459.3,304.8 459.3,316.6 455.0,320.9 443.2,320.9 438.9,316.6 438.9,304.8"/>
<polygon points="553.0,300.5 564.8,300.5 569.1,304.8 569.1,316.6 564.8,320.9 553.0,320.9 548.7,316.6 548.7,304.8"/>
<polygon points="589.6,300.5 601.4,300.5 605.7,304.8 605.7,316.6 601.4,320.9 589.6,320.9 585.3,316.6 585.3,304.8"/>
<polygon points="186.9,337.2 198.7,337.2 203.0,341.5 203.0,353.3 198.7,357.6 186.9,357.6 182.6,353.3 182.6,341.5"/>
<polygon points="333.4,337.2 345.2,337.2 349.5,341.5 349.5,353.3 345.2,357.6 333.4,357.6 329.1,353.3 329.1,341.5"/>
<polygon points="443.2,337.2 455.0,337.2 459.3,341.5 459.3,353.3 455.0,357.6 443.2,357.6 438.9,353.3 438.9,341.5"/>
<polygon points="516.4,337.2 528.2,337.2 532.5,341.5 532.5,353.3 528.2,357.6 516.4,357.6 512.1,353.3 512.1,341.5"/>
<polygon points="882.5,337.2 894.3,337.2 898.6,341.5 898.6,353.3 894.3,357.6 882.5,357.6 878.2,353.3 878.2,341.5"/>
<polygon points="150.3,373.9 162.1,373.9 166.4,378.2 166.4,390.0 162.1,394.3 150.3,394.3 146.0,390.0 146.0,378.2"/>
<polygon points="370.0,373.9 381.8,373.9 386.1,378.2 386.1,390.0 381.8,394.3 370.0,394.3 365.7,390.0 365.7,378.2"/>
<polygon points="479.8,373.9 491.6,373.9 495.9,378.2 495.9,390.0 491.6,394.3 479.8,394.3 475.5,390.0 475.5,378.2"/>
<polygon points="150.3,410.5 162.1,410.5 166.4,414.8 166.4,426.6 162.1,430.9 150.3,430.9 146.0,426.6 146.0,414.8"/>
<polygon points="845.9,410.5 857.7,410.5 862.0,414.8 862.0,426.6 857.7,430.9 845.9,430.9 841.6,426.6 841.6,414.8"/>
<polygon points="150.3,447.2 162.1,447.2 166.4,451.5 166.4,463.3 162.1,467.6 150.3,467.6 146.0,463.3 146.0,451.5"/>
<polygon points="406.6,447.2 418.4,447.2 422.7,451.5 422.7,463.3 418.4,467.6 406.6,467.6 402.3,463.3 402.3,451.5"/>
<polygon points="443.2,447.2 455.0,447.2 459.3,451.5 459.3,463.3 455.0,467.6 443.2,467.6 438.9,463.3 438.9,451.5"/>
<polygon points="553.0,447.2 564.8,447.2 569.1,451.5 569.1,463.3 564.8,467.6 553.0,467.6 548.7,463.3 548.7,451.5"/>
<polygon points="736.1,447.2 747.9,447.2 752.2,451.5 752.2,463.3 747.9,467.6 736.1,467.6 731.8,463.3 731.8,451.5"/>
<polygon points="113.7,483.9 125.5,483.9 129.8,488.2 129.8,500.0 125.5,504.3 113.7,504.3 109.4,500.0 109.4,488.2"/>
<polygon points="150.3,483.9 162.1,483.9 166.4,488.2 166.4,500.0 162.1,504.3 150.3,504.3 146.0,500.0 146.0,488.2"/>
<polygon points="260.1,483.9 271.9,483.9 276.2,488.2 276.2,500.0 271.9,504.3 260.1,504.3 255.8,500.0 255.8,488.2"/>
<polygon points="516.4,483.9 528.2,483.9 532.5,488.2 532.5,500.0 528.2,504.3 516.4,504.3 512.1,500.0 512.1,488.2"/>
<polygon points="662.8,483.9 674.7,483.9 679.0,488.2 679.0,500.0 674.7,504.3 662.8,504.3 658.5,500.0 658.5,488.2"/>
<polygon points="736.1,483.9 747.9,483.9 752.2,488.2 752.2,500.0 747.9,504.3 736.1,504.3 731.8,500.0 731.8,488.2"/>
<polygon points="406.6,520.5 418.4,520.5 422.7,524.8 422.7,536.6 418.4,540.9 406.6,540.9 402.3,536.6 402.3,524.8"/>
<polygon points="443.2,520.5 455.0,520.5 459.3,524.8 459.3,536.6 455.0,540.9 443.2,540.9 438.9,536.6 438.9,524.8"/>
<polygon points="662.8,520.5 674.7,520.5 679.0,524.8 679.0,536.6 674.7,540.9 662.8,540.9 658.5,536.6 658.5,524.8"/>
<polygon points="699.5,520.5 711.3,520.5 715.6,524.8 715.6,536.6 711.3,540.9 699.5,540.9 695.2,536.6 695.2,524.8"/>
<polygon points="772.7,520.5 784.5,520.5 788.8,524.8 788.8,536.6 784.5,540.9 772.7,540.9 768.4,536.6 768.4,524.8"/>
<polygon points="150.3,557.2 162.1,557.2 166.4,561.5 166.4,573.3 162.1,577.6 150.3,577.6 146.0,573.3 146.0,561.5"/>
<polygon points="406.6,557.2 418.4,557.2 422.7,561.5 422.7,573.3 418.4,577.6 406.6,577.6 402.3,573.3 402.3,561.5"/>
<polygon points="553.0,557.2 564.8,557.2 569.1,561.5 569.1,573.3 564.8,577.6 553.0,577.6 548.7,573.3 548.7,561.5"/>
<polygon points="662.8,557.2 674.7,557.2 679.0,561.5 679.0,573.3 674.7,577.6 662.8,577.6 658.5,573.3 658.5,561.5"/>
<polygon points="772.7,557.2 784.5,557.2 788.8,561.5 788.8,573.3 784.5,577.6 772.7,577.6 768.4,573.3 768.4,561.5"/>
<polygon points="845.9,557.2 857.7,557.2 862.0,561.5 862.0,573.3 857.7,577.6 845.9,577.6 841.6,573.3 841.6,561.5"/>
<polygon points="882.5,557.2 894.3,557.2 898.6,561.5 898.6,573.3 894.3,577.6 882.5,577.6 878.2,573.3 878.2,561.5"/>
<polygon points="113.7,593.9 125.5,593.9 129.8,598.2 129.8,610.0 125.5,614.3 113.7,614.3 109.4,610.0 109.4,598.2"/>
<polygon points="260.1,593.9 271.9,593.9 276.2,598.2 276.2,610.0 271.9,614.3 260.1,614.3 255.8,610.0 255.8,598.2"/>
<polygon points="589.6,593.9 601.4,593.9 605.7,598.2 605.7,610.0 601.4,614.3 589.6,614.3 585.3,610.0 585.3,598.2"/>
<polygon points="626.2,593.9 638.0,593.9 642.3,598.2 642.3,610.0 638.0,614.3 626.2,614.3 621.9,610.0 621.9,598.2"/>
<polygon points="662.8,593.9 674.7,593.9 679.0,598.2 679.0,610.0 674.7,614.3 662.8,614.3 658.5,610.0 658.5,598.2"/>
<polygon points="736.1,593.9 747.9,593.9 752.2,598.2 752.2,610.0 747.9,614.3 736.1,614.3 731.8,610.0 731.8,598.2"/>
<polygon points="882.5,593.9 894.3,593.9 898.6,598.2 898.6,610.0 894.3,614.3 882.5,614.3 878.2,610.0 878.2,598.2"/>
<polygon points="626.2,630.6 638.0,630.6 642.3,634.9 642.3,646.7 638.0,651.0 626.2,651.0 621.9,646.7 621.9,634.9"/>
<polygon points="662.8,630.6 674.7,630.6 679.0,634.9 679.0,646.7 674.7,651.0 662.8,651.0 658.5,646.7 658.5,634.9"/>
<polygon points="699.5,630.6 711.3,630.6 715.6,634.9 715.6,646.7 711.3,651.0 699.5,651.0 695.2,646.7 695.2,634.9"/>
<polygon points="882.5,630.6 894.3,630.6 898.6,634.9 898.6,646.7 894.3,651.0 882.5,651.0 878.2,646.7 878.2,634.9"/>
<polygon points="223.5,667.2 235.3,667.2 239.6,671.5 239.6,683.3 235.3,687.6 223.5,687.6 219.2,683.3 219.2,671.5"/>
<polygon points="296.8,667.2 308.5,667.2 312.8,671.5 312.8,683.3 308.5,687.6 296.8,687.6 292.4,683.3 292.4,671.5"/>
<polygon points="553.0,667.2 564.8,667.2 569.1,671.5 569.1,683.3 564.8,687.6 553.0,687.6 548.7,683.3 548.7,671.5"/>
<polygon points="882.5,667.2 894.3,667.2 898.6,671.5 898.6,683.3 894.3,687.6 882.5,687.6 878.2,683.3 878.2,671.5"/>
<polygon points="333.4,703.9 345.2,703.9 349.5,708.2 349.5,720.0 345.2,724.3 333.4,724.3 329.1,720.0 329.1,708.2"/>
<polygon points="553.0,703.9 564.8,703.9 569.1,708.2 569.1,720.0 564.8,724.3 553.0,724.3 548.7,720.0 548.7,708.2"/>
<polygon points="736.1,703.9 747.9,703.9 752.2,708.2 752.2,720.0 747.9,724.3 736.1,724.3 731.8,720.0 731.8,708.2"/>
<polygon points="186.9,740.6 198.7,740.6 203.0,744.9 203.0,756.7 198.7,761.0 186.9,761.0 182.6,756.7 182.6,744.9"/>
<polygon points="223.5,740.6 235.3,740.6 239.6,744.9 239.6,756.7 235.3,761.0 223.5,761.0 219.2,756.7 219.2,744.9"/>
<polygon points="443.2,740.6 455.0,740.6 459.3,744.9 459.3,756.7 455.0,761.0 443.2,761.0 438.9,756.7 438.9,744.9"/>
<polygon points="479.8,740.6 491.6,740.6 495.9,744.9 495.9,756.7 491.6,761.0 479.8,761.0 475.5,756.7 475.5,744.9"/>
<polygon points="553.0,740.6 564.8,740.6 569.1,744.9 569.1,756.7 564.8,761.0 553.0,761.0 548.7,756.7 548.7,744.9"/>
<polygon points="626.2,740.6 638.0,740.6 642.3,744.9 642.3,756.7 638.0,761.0 626.2,761.0 621.9,756.7 621.9,744.9"/>
<polygon points="699.5,740.6 711.3,740.6 715.6,744.9 715.6,756.7 711.3,761.0 699.5,761.0 695.2,756.7 695.2,744.9"/>
<polygon points="882.5,740.6 894.3,740.6 898.6,744.9 898.6,756.7 894.3,761.0 882.5,761.0 878.2,756.7 878.2,744.9"/>
<polygon points="150.3,777.2 162.1,777.2 166.4,781.5 166.4,793.3 162.1,797.6 150.3,797.6 146.0,793.3 146.0,781.5"/>
<polygon points="443.2,777.2 455.0,777.2 459.3,781.5 459.3,793.3 455.0,797.6 443.2,797.6 438.9,793.3 438.9,781.5"/>
<polygon points="479.8,777.2 491.6,777.2 495.9,781.5 495.9,793.3 491.6,797.6 479.8,797.6 475.5,793.3 475.5,781.5"/>
<polygon points="516.4,777.2 528.2,777.2 532.5,781.5 532.5,793.3 528.2,797.6 516.4,797.6 512.1,793.3 512.1,781.5"/>
<polygon points="626.2,777.2 638.0,777.2 642.3,781.5 642.3,793.3 638.0,797.6 626.2,797.6 621.9,793.3 621.9,781.5"/>
<polygon points="809.3,777.2 821.1,777.2 825.4,781.5 825.4,793.3 821.1,797.6 809.3,797.6 805.0,793.3 805.0,781.5"/>
</g>
<rect x="110.4" y="297.6" width="794.2" height="30.8" fill="none" stroke="#fff" stroke-width="4.8"/>
<rect x="110.4" y="479.7" width="794.2" height="30.1" fill="none" stroke="#fff" stroke-width="4.8"/>
<rect x="108.4" y="775.3" width="796.2" height="31.0" fill="none" stroke="#fff" stroke-width="4.8"/>
<circle cx="69.1" cy="311.2" r="23.9" fill="none" stroke="#a9e6b0" stroke-width="1.1"/>
<text x="69.1" y="328.8" font-family="'Noto Sans CJK KR','Noto Sans CJK SC','Liberation Sans',sans-serif" font-size="48" font-weight="300" text-anchor="middle" fill="#1fc63a">1</text>
<circle cx="69.1" cy="493.6" r="23.9" fill="none" stroke="#f0a9ab" stroke-width="1.1"/>
<text x="69.1" y="511.2" font-family="'Noto Sans CJK KR','Noto Sans CJK SC','Liberation Sans',sans-serif" font-size="48" font-weight="300" text-anchor="middle" fill="#e21f26">2</text>
<circle cx="68.9" cy="787.6" r="23.9" fill="none" stroke="#b4b4dc" stroke-width="1.1"/>
<text x="68.9" y="805.2" font-family="'Noto Sans CJK KR','Noto Sans CJK SC','Liberation Sans',sans-serif" font-size="48" font-weight="300" text-anchor="middle" fill="#1c1cc0">3</text>
<linearGradient id="ga" gradientUnits="userSpaceOnUse" x1="0" y1="79.6" x2="0" y2="809.4"><stop offset="0.0000" stop-color="#800000"/><stop offset="0.0312" stop-color="#9f0000"/><stop offset="0.0625" stop-color="#bf0000"/><stop offset="0.0938" stop-color="#df0000"/><stop offset="0.1250" stop-color="#ff0000"/><stop offset="0.1562" stop-color="#ff2000"/><stop offset="0.1875" stop-color="#ff4000"/><stop offset="0.2188" stop-color="#ff6000"/><stop offset="0.2500" stop-color="#ff8000"/><stop offset="0.2812" stop-color="#ff9f00"/><stop offset="0.3125" stop-color="#ffbf00"/><stop offset="0.3438" stop-color="#ffdf00"/><stop offset="0.3750" stop-color="#ffff00"/><stop offset="0.4062" stop-color="#dfff20"/><stop offset="0.4375" stop-color="#bfff40"/><stop offset="0.4688" stop-color="#9fff60"/><stop offset="0.5000" stop-color="#80ff80"/><stop offset="0.5312" stop-color="#60ff9f"/><stop offset="0.5625" stop-color="#40ffbf"/><stop offset="0.5938" stop-color="#20ffdf"/><stop offset="0.6250" stop-color="#00ffff"/><stop offset="0.6562" stop-color="#00dfff"/><stop offset="0.6875" stop-color="#00bfff"/><stop offset="0.7188" stop-color="#009fff"/><stop offset="0.7500" stop-color="#0080ff"/><stop offset="0.7812" stop-color="#0060ff"/><stop offset="0.8125" stop-color="#0040ff"/><stop offset="0.8438" stop-color="#0020ff"/><stop offset="0.8750" stop-color="#0000ff"/><stop offset="0.9062" stop-color="#0000df"/><stop offset="0.9375" stop-color="#0000bf"/><stop offset="0.9688" stop-color="#00009f"/><stop offset="1.0000" stop-color="#000080"/></linearGradient>
<rect x="922.4" y="79.6" width="70.0" height="729.8" fill="url(#ga)"/>
<line x1="976" y1="170.8" x2="991.4" y2="170.8" stroke="#000" stroke-opacity="0.62" stroke-width="2"/>
<line x1="976" y1="262.0" x2="991.4" y2="262.0" stroke="#000" stroke-opacity="0.62" stroke-width="2"/>
<line x1="976" y1="353.3" x2="991.4" y2="353.3" stroke="#000" stroke-opacity="0.62" stroke-width="2"/>
<line x1="976" y1="444.5" x2="991.4" y2="444.5" stroke="#000" stroke-opacity="0.62" stroke-width="2"/>
<line x1="976" y1="535.7" x2="991.4" y2="535.7" stroke="#000" stroke-opacity="0.62" stroke-width="2"/>
<line x1="976" y1="626.9" x2="991.4" y2="626.9" stroke="#000" stroke-opacity="0.62" stroke-width="2"/>
<line x1="976" y1="718.2" x2="991.4" y2="718.2" stroke="#000" stroke-opacity="0.62" stroke-width="2"/>
<rect x="923.4" y="80.6" width="68" height="727.8" fill="none" stroke="#000" stroke-opacity="0.72" stroke-width="2"/>
<linearGradient id="ga16" href="#ga" gradientUnits="userSpaceOnUse" x1="61.4" y1="0" x2="-668.4" y2="0"/>
<text transform="translate(974.8,141.0) rotate(-90)" font-family="'Liberation Sans',sans-serif" font-size="49.5" fill="#fff" stroke="url(#ga16)" stroke-width="0.3">16</text>
<linearGradient id="ga11" href="#ga" gradientUnits="userSpaceOnUse" x1="401.4" y1="0" x2="-328.4" y2="0"/>
<text transform="translate(973.7,481.0) rotate(-90)" font-family="'Liberation Sans',sans-serif" font-size="49.5" fill="#fff" stroke="url(#ga11)" stroke-width="0.3">11</text>
<linearGradient id="ga8" href="#ga" gradientUnits="userSpaceOnUse" x1="726.9" y1="0" x2="-2.9" y2="0"/>
<text transform="translate(970.2,806.5) rotate(-90)" font-family="'Liberation Sans',sans-serif" font-size="49.5" fill="#fff" stroke="url(#ga8)" stroke-width="0.3">8</text>
<rect x="104.0" y="920.5" width="804.2" height="748.2" fill="#00008f"/>
<g fill="#d1ff2e">
<polygon points="121.5,939.1 133.3,939.1 137.6,943.4 137.6,955.2 133.3,959.5 121.5,959.5 117.2,955.2 117.2,943.4"/>
<polygon points="193.9,939.1 205.7,939.1 210.0,943.4 210.0,955.2 205.7,959.5 193.9,959.5 189.6,955.2 189.6,943.4"/>
<polygon points="302.5,939.1 314.3,939.1 318.6,943.4 318.6,955.2 314.3,959.5 302.5,959.5 298.2,955.2 298.2,943.4"/>
<polygon points="555.9,939.1 567.7,939.1 572.0,943.4 572.0,955.2 567.7,959.5 555.9,959.5 551.6,955.2 551.6,943.4"/>
<polygon points="664.5,939.1 676.3,939.1 680.6,943.4 680.6,955.2 676.3,959.5 664.5,959.5 660.2,955.2 660.2,943.4"/>
<polygon points="700.7,939.1 712.5,939.1 716.8,943.4 716.8,955.2 712.5,959.5 700.7,959.5 696.4,955.2 696.4,943.4"/>
<polygon points="157.7,975.5 169.5,975.5 173.8,979.8 173.8,991.6 169.5,995.9 157.7,995.9 153.4,991.6 153.4,979.8"/>
<polygon points="302.5,975.5 314.3,975.5 318.6,979.8 318.6,991.6 314.3,995.9 302.5,995.9 298.2,991.6 298.2,979.8"/>
<polygon points="664.5,975.5 676.3,975.5 680.6,979.8 680.6,991.6 676.3,995.9 664.5,995.9 660.2,991.6 660.2,979.8"/>
<polygon points="266.3,1011.9 278.1,1011.9 282.4,1016.2 282.4,1028.0 278.1,1032.3 266.3,1032.3 262.0,1028.0 262.0,1016.2"/>
<polygon points="447.3,1011.9 459.1,1011.9 463.4,1016.2 463.4,1028.0 459.1,1032.3 447.3,1032.3 443.0,1028.0 443.0,1016.2"/>
<polygon points="266.3,1048.4 278.1,1048.4 282.4,1052.7 282.4,1064.5 278.1,1068.8 266.3,1068.8 262.0,1064.5 262.0,1052.7"/>
<polygon points="447.3,1048.4 459.1,1048.4 463.4,1052.7 463.4,1064.5 459.1,1068.8 447.3,1068.8 443.0,1064.5 443.0,1052.7"/>
<polygon points="193.9,1084.8 205.7,1084.8 210.0,1089.1 210.0,1100.9 205.7,1105.2 193.9,1105.2 189.6,1100.9 189.6,1089.1"/>
<polygon points="555.9,1084.8 567.7,1084.8 572.0,1089.1 572.0,1100.9 567.7,1105.2 555.9,1105.2 551.6,1100.9 551.6,1089.1"/>
<polygon points="773.1,1084.8 784.9,1084.8 789.2,1089.1 789.2,1100.9 784.9,1105.2 773.1,1105.2 768.8,1100.9 768.8,1089.1"/>
<polygon points="700.7,1121.2 712.5,1121.2 716.8,1125.5 716.8,1137.3 712.5,1141.6 700.7,1141.6 696.4,1137.3 696.4,1125.5"/>
<polygon points="121.5,1157.6 133.3,1157.6 137.6,1161.9 137.6,1173.7 133.3,1178.0 121.5,1178.0 117.2,1173.7 117.2,1161.9"/>
<polygon points="228.2,1230.5 243.8,1230.5 245.4,1232.1 245.4,1249.3 243.8,1250.9 228.2,1250.9 226.6,1249.3 226.6,1232.1"/>
<polygon points="302.5,1230.5 314.3,1230.5 318.6,1234.8 318.6,1246.6 314.3,1250.9 302.5,1250.9 298.2,1246.6 298.2,1234.8"/>
<polygon points="555.9,1230.5 567.7,1230.5 572.0,1234.8 572.0,1246.6 567.7,1250.9 555.9,1250.9 551.6,1246.6 551.6,1234.8"/>
<polygon points="592.1,1266.9 603.9,1266.9 608.2,1271.2 608.2,1283.0 603.9,1287.3 592.1,1287.3 587.8,1283.0 587.8,1271.2"/>
<polygon points="809.3,1266.9 821.1,1266.9 825.4,1271.2 825.4,1283.0 821.1,1287.3 809.3,1287.3 805.0,1283.0 805.0,1271.2"/>
<polygon points="664.5,1303.3 676.3,1303.3 680.6,1307.6 680.6,1319.4 676.3,1323.7 664.5,1323.7 660.2,1319.4 660.2,1307.6"/>
<polygon points="773.1,1303.3 784.9,1303.3 789.2,1307.6 789.2,1319.4 784.9,1323.7 773.1,1323.7 768.8,1319.4 768.8,1307.6"/>
<polygon points="266.3,1339.7 278.1,1339.7 282.4,1344.0 282.4,1355.8 278.1,1360.1 266.3,1360.1 262.0,1355.8 262.0,1344.0"/>
<polygon points="519.7,1339.7 531.5,1339.7 535.8,1344.0 535.8,1355.8 531.5,1360.1 519.7,1360.1 515.4,1355.8 515.4,1344.0"/>
<polygon points="121.5,1376.1 133.3,1376.1 137.6,1380.4 137.6,1392.2 133.3,1396.5 121.5,1396.5 117.2,1392.2 117.2,1380.4"/>
<polygon points="735.0,1376.1 750.6,1376.1 752.2,1377.7 752.2,1394.9 750.6,1396.5 735.0,1396.5 733.4,1394.9 733.4,1377.7"/>
<polygon points="773.1,1376.1 784.9,1376.1 789.2,1380.4 789.2,1392.2 784.9,1396.5 773.1,1396.5 768.8,1392.2 768.8,1380.4"/>
<polygon points="845.5,1376.1 857.3,1376.1 861.6,1380.4 861.6,1392.2 857.3,1396.5 845.5,1396.5 841.2,1392.2 841.2,1380.4"/>
<polygon points="302.5,1412.6 314.3,1412.6 318.6,1416.9 318.6,1428.7 314.3,1433.0 302.5,1433.0 298.2,1428.7 298.2,1416.9"/>
<polygon points="483.5,1412.6 495.3,1412.6 499.6,1416.9 499.6,1428.7 495.3,1433.0 483.5,1433.0 479.2,1428.7 479.2,1416.9"/>
<polygon points="121.5,1449.0 133.3,1449.0 137.6,1453.3 137.6,1465.1 133.3,1469.4 121.5,1469.4 117.2,1465.1 117.2,1453.3"/>
<polygon points="338.7,1449.0 350.5,1449.0 354.8,1453.3 354.8,1465.1 350.5,1469.4 338.7,1469.4 334.4,1465.1 334.4,1453.3"/>
<polygon points="628.3,1449.0 640.1,1449.0 644.4,1453.3 644.4,1465.1 640.1,1469.4 628.3,1469.4 624.0,1465.1 624.0,1453.3"/>
<polygon points="773.1,1449.0 784.9,1449.0 789.2,1453.3 789.2,1465.1 784.9,1469.4 773.1,1469.4 768.8,1465.1 768.8,1453.3"/>
<polygon points="121.5,1485.4 133.3,1485.4 137.6,1489.7 137.6,1501.5 133.3,1505.8 121.5,1505.8 117.2,1501.5 117.2,1489.7"/>
<polygon points="809.3,1594.7 821.1,1594.7 825.4,1599.0 825.4,1610.8 821.1,1615.1 809.3,1615.1 805.0,1610.8 805.0,1599.0"/>
<polygon points="302.5,1631.1 314.3,1631.1 318.6,1635.4 318.6,1647.2 314.3,1651.5 302.5,1651.5 298.2,1647.2 298.2,1635.4"/>
</g>
<g fill="#ff6b00">
<polygon points="157.7,939.1 169.5,939.1 173.8,943.4 173.8,955.2 169.5,959.5 157.7,959.5 153.4,955.2 153.4,943.4"/>
<polygon points="228.2,975.5 243.8,975.5 245.4,977.1 245.4,994.3 243.8,995.9 228.2,995.9 226.6,994.3 226.6,977.1"/>
<polygon points="193.9,1011.9 205.7,1011.9 210.0,1016.2 210.0,1028.0 205.7,1032.3 193.9,1032.3 189.6,1028.0 189.6,1016.2"/>
<polygon points="302.5,1011.9 314.3,1011.9 318.6,1016.2 318.6,1028.0 314.3,1032.3 302.5,1032.3 298.2,1028.0 298.2,1016.2"/>
<polygon points="555.9,1011.9 567.7,1011.9 572.0,1016.2 572.0,1028.0 567.7,1032.3 555.9,1032.3 551.6,1028.0 551.6,1016.2"/>
<polygon points="592.1,1011.9 603.9,1011.9 608.2,1016.2 608.2,1028.0 603.9,1032.3 592.1,1032.3 587.8,1028.0 587.8,1016.2"/>
<polygon points="228.2,1048.4 243.8,1048.4 245.4,1050.0 245.4,1067.2 243.8,1068.8 228.2,1068.8 226.6,1067.2 226.6,1050.0"/>
<polygon points="302.5,1048.4 314.3,1048.4 318.6,1052.7 318.6,1064.5 314.3,1068.8 302.5,1068.8 298.2,1064.5 298.2,1052.7"/>
<polygon points="555.9,1048.4 567.7,1048.4 572.0,1052.7 572.0,1064.5 567.7,1068.8 555.9,1068.8 551.6,1064.5 551.6,1052.7"/>
<polygon points="881.7,1048.4 893.5,1048.4 897.8,1052.7 897.8,1064.5 893.5,1068.8 881.7,1068.8 877.4,1064.5 877.4,1052.7"/>
<polygon points="338.7,1121.2 350.5,1121.2 354.8,1125.5 354.8,1137.3 350.5,1141.6 338.7,1141.6 334.4,1137.3 334.4,1125.5"/>
<polygon points="735.0,1121.2 750.6,1121.2 752.2,1122.8 752.2,1140.0 750.6,1141.6 735.0,1141.6 733.4,1140.0 733.4,1122.8"/>
<polygon points="881.7,1121.2 893.5,1121.2 897.8,1125.5 897.8,1137.3 893.5,1141.6 881.7,1141.6 877.4,1137.3 877.4,1125.5"/>
<polygon points="555.9,1194.0 567.7,1194.0 572.0,1198.3 572.0,1210.1 567.7,1214.4 555.9,1214.4 551.6,1210.1 551.6,1198.3"/>
<polygon points="700.7,1194.0 712.5,1194.0 716.8,1198.3 716.8,1210.1 712.5,1214.4 700.7,1214.4 696.4,1210.1 696.4,1198.3"/>
<polygon points="121.5,1230.5 133.3,1230.5 137.6,1234.8 137.6,1246.6 133.3,1250.9 121.5,1250.9 117.2,1246.6 117.2,1234.8"/>
<polygon points="157.7,1266.9 169.5,1266.9 173.8,1271.2 173.8,1283.0 169.5,1287.3 157.7,1287.3 153.4,1283.0 153.4,1271.2"/>
<polygon points="555.9,1266.9 567.7,1266.9 572.0,1271.2 572.0,1283.0 567.7,1287.3 555.9,1287.3 551.6,1283.0 551.6,1271.2"/>
<polygon points="700.7,1303.3 712.5,1303.3 716.8,1307.6 716.8,1319.4 712.5,1323.7 700.7,1323.7 696.4,1319.4 696.4,1307.6"/>
<polygon points="809.3,1303.3 821.1,1303.3 825.4,1307.6 825.4,1319.4 821.1,1323.7 809.3,1323.7 805.0,1319.4 805.0,1307.6"/>
<polygon points="483.5,1339.7 495.3,1339.7 499.6,1344.0 499.6,1355.8 495.3,1360.1 483.5,1360.1 479.2,1355.8 479.2,1344.0"/>
<polygon points="338.7,1376.1 350.5,1376.1 354.8,1380.4 354.8,1392.2 350.5,1396.5 338.7,1396.5 334.4,1392.2 334.4,1380.4"/>
<polygon points="447.3,1376.1 459.1,1376.1 463.4,1380.4 463.4,1392.2 459.1,1396.5 447.3,1396.5 443.0,1392.2 443.0,1380.4"/>
<polygon points="628.3,1376.1 640.1,1376.1 644.4,1380.4 644.4,1392.2 640.1,1396.5 628.3,1396.5 624.0,1392.2 624.0,1380.4"/>
<polygon points="555.9,1412.6 567.7,1412.6 572.0,1416.9 572.0,1428.7 567.7,1433.0 555.9,1433.0 551.6,1428.7 551.6,1416.9"/>
<polygon points="592.1,1412.6 603.9,1412.6 608.2,1416.9 608.2,1428.7 603.9,1433.0 592.1,1433.0 587.8,1428.7 587.8,1416.9"/>
<polygon points="735.0,1412.6 750.6,1412.6 752.2,1414.2 752.2,1431.4 750.6,1433.0 735.0,1433.0 733.4,1431.4 733.4,1414.2"/>
<polygon points="266.3,1449.0 278.1,1449.0 282.4,1453.3 282.4,1465.1 278.1,1469.4 266.3,1469.4 262.0,1465.1 262.0,1453.3"/>
<polygon points="447.3,1449.0 459.1,1449.0 463.4,1453.3 463.4,1465.1 459.1,1469.4 447.3,1469.4 443.0,1465.1 443.0,1453.3"/>
<polygon points="519.7,1449.0 531.5,1449.0 535.8,1453.3 535.8,1465.1 531.5,1469.4 519.7,1469.4 515.4,1465.1 515.4,1453.3"/>
<polygon points="845.5,1449.0 857.3,1449.0 861.6,1453.3 861.6,1465.1 857.3,1469.4 845.5,1469.4 841.2,1465.1 841.2,1453.3"/>
<polygon points="228.2,1521.8 243.8,1521.8 245.4,1523.4 245.4,1540.6 243.8,1542.2 228.2,1542.2 226.6,1540.6 226.6,1523.4"/>
<polygon points="374.9,1521.8 386.7,1521.8 391.0,1526.1 391.0,1537.9 386.7,1542.2 374.9,1542.2 370.6,1537.9 370.6,1526.1"/>
<polygon points="700.7,1521.8 712.5,1521.8 716.8,1526.1 716.8,1537.9 712.5,1542.2 700.7,1542.2 696.4,1537.9 696.4,1526.1"/>
<polygon points="735.0,1521.8 750.6,1521.8 752.2,1523.4 752.2,1540.6 750.6,1542.2 735.0,1542.2 733.4,1540.6 733.4,1523.4"/>
<polygon points="411.1,1558.2 422.9,1558.2 427.2,1562.5 427.2,1574.3 422.9,1578.6 411.1,1578.6 406.8,1574.3 406.8,1562.5"/>
<polygon points="447.3,1594.7 459.1,1594.7 463.4,1599.0 463.4,1610.8 459.1,1615.1 447.3,1615.1 443.0,1610.8 443.0,1599.0"/>
<polygon points="773.1,1594.7 784.9,1594.7 789.2,1599.0 789.2,1610.8 784.9,1615.1 773.1,1615.1 768.8,1610.8 768.8,1599.0"/>
</g>
<g fill="#2effd1">
<polygon points="228.2,939.1 243.8,939.1 245.4,940.7 245.4,957.9 243.8,959.5 228.2,959.5 226.6,957.9 226.6,940.7"/>
<polygon points="735.0,939.1 750.6,939.1 752.2,940.7 752.2,957.9 750.6,959.5 735.0,959.5 733.4,957.9 733.4,940.7"/>
<polygon points="157.7,1011.9 169.5,1011.9 173.8,1016.2 173.8,1028.0 169.5,1032.3 157.7,1032.3 153.4,1028.0 153.4,1016.2"/>
<polygon points="483.5,1011.9 495.3,1011.9 499.6,1016.2 499.6,1028.0 495.3,1032.3 483.5,1032.3 479.2,1028.0 479.2,1016.2"/>
<polygon points="157.7,1048.4 169.5,1048.4 173.8,1052.7 173.8,1064.5 169.5,1068.8 157.7,1068.8 153.4,1064.5 153.4,1052.7"/>
<polygon points="228.2,1084.8 243.8,1084.8 245.4,1086.4 245.4,1103.6 243.8,1105.2 228.2,1105.2 226.6,1103.6 226.6,1086.4"/>
<polygon points="447.3,1121.2 459.1,1121.2 463.4,1125.5 463.4,1137.3 459.1,1141.6 447.3,1141.6 443.0,1137.3 443.0,1125.5"/>
<polygon points="411.1,1230.5 422.9,1230.5 427.2,1234.8 427.2,1246.6 422.9,1250.9 411.1,1250.9 406.8,1246.6 406.8,1234.8"/>
<polygon points="592.1,1230.5 603.9,1230.5 608.2,1234.8 608.2,1246.6 603.9,1250.9 592.1,1250.9 587.8,1246.6 587.8,1234.8"/>
<polygon points="266.3,1266.9 278.1,1266.9 282.4,1271.2 282.4,1283.0 278.1,1287.3 266.3,1287.3 262.0,1283.0 262.0,1271.2"/>
<polygon points="519.7,1266.9 531.5,1266.9 535.8,1271.2 535.8,1283.0 531.5,1287.3 519.7,1287.3 515.4,1283.0 515.4,1271.2"/>
<polygon points="228.2,1303.3 243.8,1303.3 245.4,1304.9 245.4,1322.1 243.8,1323.7 228.2,1323.7 226.6,1322.1 226.6,1304.9"/>
<polygon points="555.9,1303.3 567.7,1303.3 572.0,1307.6 572.0,1319.4 567.7,1323.7 555.9,1323.7 551.6,1319.4 551.6,1307.6"/>
<polygon points="555.9,1339.7 567.7,1339.7 572.0,1344.0 572.0,1355.8 567.7,1360.1 555.9,1360.1 551.6,1355.8 551.6,1344.0"/>
<polygon points="735.0,1339.7 750.6,1339.7 752.2,1341.3 752.2,1358.5 750.6,1360.1 735.0,1360.1 733.4,1358.5 733.4,1341.3"/>
<polygon points="773.1,1412.6 784.9,1412.6 789.2,1416.9 789.2,1428.7 784.9,1433.0 773.1,1433.0 768.8,1428.7 768.8,1416.9"/>
<polygon points="809.3,1412.6 821.1,1412.6 825.4,1416.9 825.4,1428.7 821.1,1433.0 809.3,1433.0 805.0,1428.7 805.0,1416.9"/>
<polygon points="157.7,1449.0 169.5,1449.0 173.8,1453.3 173.8,1465.1 169.5,1469.4 157.7,1469.4 153.4,1465.1 153.4,1453.3"/>
<polygon points="592.1,1449.0 603.9,1449.0 608.2,1453.3 608.2,1465.1 603.9,1469.4 592.1,1469.4 587.8,1465.1 587.8,1453.3"/>
<polygon points="266.3,1485.4 278.1,1485.4 282.4,1489.7 282.4,1501.5 278.1,1505.8 266.3,1505.8 262.0,1501.5 262.0,1489.7"/>
<polygon points="338.7,1521.8 350.5,1521.8 354.8,1526.1 354.8,1537.9 350.5,1542.2 338.7,1542.2 334.4,1537.9 334.4,1526.1"/>
<polygon points="628.3,1521.8 640.1,1521.8 644.4,1526.1 644.4,1537.9 640.1,1542.2 628.3,1542.2 624.0,1537.9 624.0,1526.1"/>
<polygon points="845.5,1558.2 857.3,1558.2 861.6,1562.5 861.6,1574.3 857.3,1578.6 845.5,1578.6 841.2,1574.3 841.2,1562.5"/>
<polygon points="302.5,1594.7 314.3,1594.7 318.6,1599.0 318.6,1610.8 314.3,1615.1 302.5,1615.1 298.2,1610.8 298.2,1599.0"/>
<polygon points="592.1,1594.7 603.9,1594.7 608.2,1599.0 608.2,1610.8 603.9,1615.1 592.1,1615.1 587.8,1610.8 587.8,1599.0"/>
<polygon points="121.5,1631.1 133.3,1631.1 137.6,1635.4 137.6,1647.2 133.3,1651.5 121.5,1651.5 117.2,1647.2 117.2,1635.4"/>
</g>
<g fill="#ffff00">
<polygon points="266.3,939.1 278.1,939.1 282.4,943.4 282.4,955.2 278.1,959.5 266.3,959.5 262.0,955.2 262.0,943.4"/>
<polygon points="845.5,939.1 857.3,939.1 861.6,943.4 861.6,955.2 857.3,959.5 845.5,959.5 841.2,955.2 841.2,943.4"/>
<polygon points="845.5,975.5 857.3,975.5 861.6,979.8 861.6,991.6 857.3,995.9 845.5,995.9 841.2,991.6 841.2,979.8"/>
<polygon points="121.5,1011.9 133.3,1011.9 137.6,1016.2 137.6,1028.0 133.3,1032.3 121.5,1032.3 117.2,1028.0 117.2,1016.2"/>
<polygon points="519.7,1011.9 531.5,1011.9 535.8,1016.2 535.8,1028.0 531.5,1032.3 519.7,1032.3 515.4,1028.0 515.4,1016.2"/>
<polygon points="845.5,1011.9 857.3,1011.9 861.6,1016.2 861.6,1028.0 857.3,1032.3 845.5,1032.3 841.2,1028.0 841.2,1016.2"/>
<polygon points="700.7,1048.4 712.5,1048.4 716.8,1052.7 716.8,1064.5 712.5,1068.8 700.7,1068.8 696.4,1064.5 696.4,1052.7"/>
<polygon points="773.1,1048.4 784.9,1048.4 789.2,1052.7 789.2,1064.5 784.9,1068.8 773.1,1068.8 768.8,1064.5 768.8,1052.7"/>
<polygon points="483.5,1084.8 495.3,1084.8 499.6,1089.1 499.6,1100.9 495.3,1105.2 483.5,1105.2 479.2,1100.9 479.2,1089.1"/>
<polygon points="483.5,1121.2 495.3,1121.2 499.6,1125.5 499.6,1137.3 495.3,1141.6 483.5,1141.6 479.2,1137.3 479.2,1125.5"/>
<polygon points="773.1,1121.2 784.9,1121.2 789.2,1125.5 789.2,1137.3 784.9,1141.6 773.1,1141.6 768.8,1137.3 768.8,1125.5"/>
<polygon points="447.3,1157.6 459.1,1157.6 463.4,1161.9 463.4,1173.7 459.1,1178.0 447.3,1178.0 443.0,1173.7 443.0,1161.9"/>
<polygon points="592.1,1157.6 603.9,1157.6 608.2,1161.9 608.2,1173.7 603.9,1178.0 592.1,1178.0 587.8,1173.7 587.8,1161.9"/>
<polygon points="735.0,1157.6 750.6,1157.6 752.2,1159.2 752.2,1176.4 750.6,1178.0 735.0,1178.0 733.4,1176.4 733.4,1159.2"/>
<polygon points="483.5,1194.0 495.3,1194.0 499.6,1198.3 499.6,1210.1 495.3,1214.4 483.5,1214.4 479.2,1210.1 479.2,1198.3"/>
<polygon points="735.0,1194.0 750.6,1194.0 752.2,1195.6 752.2,1212.8 750.6,1214.4 735.0,1214.4 733.4,1212.8 733.4,1195.6"/>
<polygon points="447.3,1230.5 459.1,1230.5 463.4,1234.8 463.4,1246.6 459.1,1250.9 447.3,1250.9 443.0,1246.6 443.0,1234.8"/>
<polygon points="845.5,1230.5 857.3,1230.5 861.6,1234.8 861.6,1246.6 857.3,1250.9 845.5,1250.9 841.2,1246.6 841.2,1234.8"/>
<polygon points="121.5,1266.9 133.3,1266.9 137.6,1271.2 137.6,1283.0 133.3,1287.3 121.5,1287.3 117.2,1283.0 117.2,1271.2"/>
<polygon points="228.2,1266.9 243.8,1266.9 245.4,1268.5 245.4,1285.7 243.8,1287.3 228.2,1287.3 226.6,1285.7 226.6,1268.5"/>
<polygon points="628.3,1266.9 640.1,1266.9 644.4,1271.2 644.4,1283.0 640.1,1287.3 628.3,1287.3 624.0,1283.0 624.0,1271.2"/>
<polygon points="374.9,1303.3 386.7,1303.3 391.0,1307.6 391.0,1319.4 386.7,1323.7 374.9,1323.7 370.6,1319.4 370.6,1307.6"/>
<polygon points="592.1,1303.3 603.9,1303.3 608.2,1307.6 608.2,1319.4 603.9,1323.7 592.1,1323.7 587.8,1319.4 587.8,1307.6"/>
<polygon points="881.7,1412.6 893.5,1412.6 897.8,1416.9 897.8,1428.7 893.5,1433.0 881.7,1433.0 877.4,1428.7 877.4,1416.9"/>
<polygon points="700.7,1449.0 712.5,1449.0 716.8,1453.3 716.8,1465.1 712.5,1469.4 700.7,1469.4 696.4,1465.1 696.4,1453.3"/>
<polygon points="881.7,1449.0 893.5,1449.0 897.8,1453.3 897.8,1465.1 893.5,1469.4 881.7,1469.4 877.4,1465.1 877.4,1453.3"/>
<polygon points="121.5,1521.8 133.3,1521.8 137.6,1526.1 137.6,1537.9 133.3,1542.2 121.5,1542.2 117.2,1537.9 117.2,1526.1"/>
<polygon points="519.7,1521.8 531.5,1521.8 535.8,1526.1 535.8,1537.9 531.5,1542.2 519.7,1542.2 515.4,1537.9 515.4,1526.1"/>
<polygon points="555.9,1521.8 567.7,1521.8 572.0,1526.1 572.0,1537.9 567.7,1542.2 555.9,1542.2 551.6,1537.9 551.6,1526.1"/>
<polygon points="845.5,1521.8 857.3,1521.8 861.6,1526.1 861.6,1537.9 857.3,1542.2 845.5,1542.2 841.2,1537.9 841.2,1526.1"/>
<polygon points="228.2,1558.2 243.8,1558.2 245.4,1559.8 245.4,1577.0 243.8,1578.6 228.2,1578.6 226.6,1577.0 226.6,1559.8"/>
<polygon points="700.7,1558.2 712.5,1558.2 716.8,1562.5 716.8,1574.3 712.5,1578.6 700.7,1578.6 696.4,1574.3 696.4,1562.5"/>
<polygon points="228.2,1631.1 243.8,1631.1 245.4,1632.7 245.4,1649.9 243.8,1651.5 228.2,1651.5 226.6,1649.9 226.6,1632.7"/>
</g>
<g fill="#ffa800">
<polygon points="338.7,939.1 350.5,939.1 354.8,943.4 354.8,955.2 350.5,959.5 338.7,959.5 334.4,955.2 334.4,943.4"/>
<polygon points="592.1,939.1 603.9,939.1 608.2,943.4 608.2,955.2 603.9,959.5 592.1,959.5 587.8,955.2 587.8,943.4"/>
<polygon points="228.2,1011.9 243.8,1011.9 245.4,1013.5 245.4,1030.7 243.8,1032.3 228.2,1032.3 226.6,1030.7 226.6,1013.5"/>
<polygon points="881.7,1011.9 893.5,1011.9 897.8,1016.2 897.8,1028.0 893.5,1032.3 881.7,1032.3 877.4,1028.0 877.4,1016.2"/>
<polygon points="121.5,1048.4 133.3,1048.4 137.6,1052.7 137.6,1064.5 133.3,1068.8 121.5,1068.8 117.2,1064.5 117.2,1052.7"/>
<polygon points="193.9,1048.4 205.7,1048.4 210.0,1052.7 210.0,1064.5 205.7,1068.8 193.9,1068.8 189.6,1064.5 189.6,1052.7"/>
<polygon points="735.0,1048.4 750.6,1048.4 752.2,1050.0 752.2,1067.2 750.6,1068.8 735.0,1068.8 733.4,1067.2 733.4,1050.0"/>
<polygon points="302.5,1084.8 314.3,1084.8 318.6,1089.1 318.6,1100.9 314.3,1105.2 302.5,1105.2 298.2,1100.9 298.2,1089.1"/>
<polygon points="447.3,1084.8 459.1,1084.8 463.4,1089.1 463.4,1100.9 459.1,1105.2 447.3,1105.2 443.0,1100.9 443.0,1089.1"/>
<polygon points="664.5,1084.8 676.3,1084.8 680.6,1089.1 680.6,1100.9 676.3,1105.2 664.5,1105.2 660.2,1100.9 660.2,1089.1"/>
<polygon points="735.0,1084.8 750.6,1084.8 752.2,1086.4 752.2,1103.6 750.6,1105.2 735.0,1105.2 733.4,1103.6 733.4,1086.4"/>
<polygon points="121.5,1121.2 133.3,1121.2 137.6,1125.5 137.6,1137.3 133.3,1141.6 121.5,1141.6 117.2,1137.3 117.2,1125.5"/>
<polygon points="338.7,1157.6 350.5,1157.6 354.8,1161.9 354.8,1173.7 350.5,1178.0 338.7,1178.0 334.4,1173.7 334.4,1161.9"/>
<polygon points="773.1,1230.5 784.9,1230.5 789.2,1234.8 789.2,1246.6 784.9,1250.9 773.1,1250.9 768.8,1246.6 768.8,1234.8"/>
<polygon points="193.9,1266.9 205.7,1266.9 210.0,1271.2 210.0,1283.0 205.7,1287.3 193.9,1287.3 189.6,1283.0 189.6,1271.2"/>
<polygon points="193.9,1303.3 205.7,1303.3 210.0,1307.6 210.0,1319.4 205.7,1323.7 193.9,1323.7 189.6,1319.4 189.6,1307.6"/>
<polygon points="266.3,1303.3 278.1,1303.3 282.4,1307.6 282.4,1319.4 278.1,1323.7 266.3,1323.7 262.0,1319.4 262.0,1307.6"/>
<polygon points="302.5,1303.3 314.3,1303.3 318.6,1307.6 318.6,1319.4 314.3,1323.7 302.5,1323.7 298.2,1319.4 298.2,1307.6"/>
<polygon points="302.5,1339.7 314.3,1339.7 318.6,1344.0 318.6,1355.8 314.3,1360.1 302.5,1360.1 298.2,1355.8 298.2,1344.0"/>
<polygon points="338.7,1339.7 350.5,1339.7 354.8,1344.0 354.8,1355.8 350.5,1360.1 338.7,1360.1 334.4,1355.8 334.4,1344.0"/>
<polygon points="411.1,1339.7 422.9,1339.7 427.2,1344.0 427.2,1355.8 422.9,1360.1 411.1,1360.1 406.8,1355.8 406.8,1344.0"/>
<polygon points="447.3,1339.7 459.1,1339.7 463.4,1344.0 463.4,1355.8 459.1,1360.1 447.3,1360.1 443.0,1355.8 443.0,1344.0"/>
<polygon points="700.7,1339.7 712.5,1339.7 716.8,1344.0 716.8,1355.8 712.5,1360.1 700.7,1360.1 696.4,1355.8 696.4,1344.0"/>
<polygon points="266.3,1376.1 278.1,1376.1 282.4,1380.4 282.4,1392.2 278.1,1396.5 266.3,1396.5 262.0,1392.2 262.0,1380.4"/>
<polygon points="157.7,1412.6 169.5,1412.6 173.8,1416.9 173.8,1428.7 169.5,1433.0 157.7,1433.0 153.4,1428.7 153.4,1416.9"/>
<polygon points="338.7,1412.6 350.5,1412.6 354.8,1416.9 354.8,1428.7 350.5,1433.0 338.7,1433.0 334.4,1428.7 334.4,1416.9"/>
<polygon points="193.9,1449.0 205.7,1449.0 210.0,1453.3 210.0,1465.1 205.7,1469.4 193.9,1469.4 189.6,1465.1 189.6,1453.3"/>
<polygon points="302.5,1485.4 314.3,1485.4 318.6,1489.7 318.6,1501.5 314.3,1505.8 302.5,1505.8 298.2,1501.5 298.2,1489.7"/>
<polygon points="338.7,1485.4 350.5,1485.4 354.8,1489.7 354.8,1501.5 350.5,1505.8 338.7,1505.8 334.4,1501.5 334.4,1489.7"/>
<polygon points="374.9,1485.4 386.7,1485.4 391.0,1489.7 391.0,1501.5 386.7,1505.8 374.9,1505.8 370.6,1501.5 370.6,1489.7"/>
<polygon points="628.3,1485.4 640.1,1485.4 644.4,1489.7 644.4,1501.5 640.1,1505.8 628.3,1505.8 624.0,1501.5 624.0,1489.7"/>
<polygon points="157.7,1521.8 169.5,1521.8 173.8,1526.1 173.8,1537.9 169.5,1542.2 157.7,1542.2 153.4,1537.9 153.4,1526.1"/>
<polygon points="193.9,1521.8 205.7,1521.8 210.0,1526.1 210.0,1537.9 205.7,1542.2 193.9,1542.2 189.6,1537.9 189.6,1526.1"/>
<polygon points="773.1,1521.8 784.9,1521.8 789.2,1526.1 789.2,1537.9 784.9,1542.2 773.1,1542.2 768.8,1537.9 768.8,1526.1"/>
<polygon points="881.7,1521.8 893.5,1521.8 897.8,1526.1 897.8,1537.9 893.5,1542.2 881.7,1542.2 877.4,1537.9 877.4,1526.1"/>
<polygon points="628.3,1558.2 640.1,1558.2 644.4,1562.5 644.4,1574.3 640.1,1578.6 628.3,1578.6 624.0,1574.3 624.0,1562.5"/>
<polygon points="773.1,1558.2 784.9,1558.2 789.2,1562.5 789.2,1574.3 784.9,1578.6 773.1,1578.6 768.8,1574.3 768.8,1562.5"/>
<polygon points="193.9,1594.7 205.7,1594.7 210.0,1599.0 210.0,1610.8 205.7,1615.1 193.9,1615.1 189.6,1610.8 189.6,1599.0"/>
<polygon points="266.3,1594.7 278.1,1594.7 282.4,1599.0 282.4,1610.8 278.1,1615.1 266.3,1615.1 262.0,1610.8 262.0,1599.0"/>
<polygon points="735.0,1594.7 750.6,1594.7 752.2,1596.3 752.2,1613.5 750.6,1615.1 735.0,1615.1 733.4,1613.5 733.4,1596.3"/>
<polygon points="845.5,1631.1 857.3,1631.1 861.6,1635.4 861.6,1647.2 857.3,1651.5 845.5,1651.5 841.2,1647.2 841.2,1635.4"/>
</g>
<g fill="#00f0ff">
<polygon points="374.9,939.1 386.7,939.1 391.0,943.4 391.0,955.2 386.7,959.5 374.9,959.5 370.6,955.2 370.6,943.4"/>
<polygon points="411.1,1011.9 422.9,1011.9 427.2,1016.2 427.2,1028.0 422.9,1032.3 411.1,1032.3 406.8,1028.0 406.8,1016.2"/>
<polygon points="519.7,1048.4 531.5,1048.4 535.8,1052.7 535.8,1064.5 531.5,1068.8 519.7,1068.8 515.4,1064.5 515.4,1052.7"/>
<polygon points="266.3,1084.8 278.1,1084.8 282.4,1089.1 282.4,1100.9 278.1,1105.2 266.3,1105.2 262.0,1100.9 262.0,1089.1"/>
<polygon points="338.7,1084.8 350.5,1084.8 354.8,1089.1 354.8,1100.9 350.5,1105.2 338.7,1105.2 334.4,1100.9 334.4,1089.1"/>
<polygon points="809.3,1084.8 821.1,1084.8 825.4,1089.1 825.4,1100.9 821.1,1105.2 809.3,1105.2 805.0,1100.9 805.0,1089.1"/>
<polygon points="193.9,1121.2 205.7,1121.2 210.0,1125.5 210.0,1137.3 205.7,1141.6 193.9,1141.6 189.6,1137.3 189.6,1125.5"/>
<polygon points="228.2,1157.6 243.8,1157.6 245.4,1159.2 245.4,1176.4 243.8,1178.0 228.2,1178.0 226.6,1176.4 226.6,1159.2"/>
<polygon points="700.7,1157.6 712.5,1157.6 716.8,1161.9 716.8,1173.7 712.5,1178.0 700.7,1178.0 696.4,1173.7 696.4,1161.9"/>
<polygon points="592.1,1194.0 603.9,1194.0 608.2,1198.3 608.2,1210.1 603.9,1214.4 592.1,1214.4 587.8,1210.1 587.8,1198.3"/>
<polygon points="881.7,1194.0 893.5,1194.0 897.8,1198.3 897.8,1210.1 893.5,1214.4 881.7,1214.4 877.4,1210.1 877.4,1198.3"/>
<polygon points="338.7,1230.5 350.5,1230.5 354.8,1234.8 354.8,1246.6 350.5,1250.9 338.7,1250.9 334.4,1246.6 334.4,1234.8"/>
<polygon points="121.5,1303.3 133.3,1303.3 137.6,1307.6 137.6,1319.4 133.3,1323.7 121.5,1323.7 117.2,1319.4 117.2,1307.6"/>
<polygon points="121.5,1339.7 133.3,1339.7 137.6,1344.0 137.6,1355.8 133.3,1360.1 121.5,1360.1 117.2,1355.8 117.2,1344.0"/>
<polygon points="228.2,1339.7 243.8,1339.7 245.4,1341.3 245.4,1358.5 243.8,1360.1 228.2,1360.1 226.6,1358.5 226.6,1341.3"/>
<polygon points="809.3,1376.1 821.1,1376.1 825.4,1380.4 825.4,1392.2 821.1,1396.5 809.3,1396.5 805.0,1392.2 805.0,1380.4"/>
<polygon points="664.5,1449.0 676.3,1449.0 680.6,1453.3 680.6,1465.1 676.3,1469.4 664.5,1469.4 660.2,1465.1 660.2,1453.3"/>
<polygon points="519.7,1485.4 531.5,1485.4 535.8,1489.7 535.8,1501.5 531.5,1505.8 519.7,1505.8 515.4,1501.5 515.4,1489.7"/>
<polygon points="555.9,1485.4 567.7,1485.4 572.0,1489.7 572.0,1501.5 567.7,1505.8 555.9,1505.8 551.6,1501.5 551.6,1489.7"/>
<polygon points="157.7,1558.2 169.5,1558.2 173.8,1562.5 173.8,1574.3 169.5,1578.6 157.7,1578.6 153.4,1574.3 153.4,1562.5"/>
<polygon points="411.1,1594.7 422.9,1594.7 427.2,1599.0 427.2,1610.8 422.9,1615.1 411.1,1615.1 406.8,1610.8 406.8,1599.0"/>
<polygon points="519.7,1594.7 531.5,1594.7 535.8,1599.0 535.8,1610.8 531.5,1615.1 519.7,1615.1 515.4,1610.8 515.4,1599.0"/>
<polygon points="881.7,1594.7 893.5,1594.7 897.8,1599.0 897.8,1610.8 893.5,1615.1 881.7,1615.1 877.4,1610.8 877.4,1599.0"/>
<polygon points="411.1,1631.1 422.9,1631.1 427.2,1635.4 427.2,1647.2 422.9,1651.5 411.1,1651.5 406.8,1647.2 406.8,1635.4"/>
<polygon points="447.3,1631.1 459.1,1631.1 463.4,1635.4 463.4,1647.2 459.1,1651.5 447.3,1651.5 443.0,1647.2 443.0,1635.4"/>
<polygon points="519.7,1631.1 531.5,1631.1 535.8,1635.4 535.8,1647.2 531.5,1651.5 519.7,1651.5 515.4,1647.2 515.4,1635.4"/>
<polygon points="773.1,1631.1 784.9,1631.1 789.2,1635.4 789.2,1647.2 784.9,1651.5 773.1,1651.5 768.8,1647.2 768.8,1635.4"/>
</g>
<g fill="#9eff61">
<polygon points="411.1,939.1 422.9,939.1 427.2,943.4 427.2,955.2 422.9,959.5 411.1,959.5 406.8,955.2 406.8,943.4"/>
<polygon points="121.5,975.5 133.3,975.5 137.6,979.8 137.6,991.6 133.3,995.9 121.5,995.9 117.2,991.6 117.2,979.8"/>
<polygon points="266.3,975.5 278.1,975.5 282.4,979.8 282.4,991.6 278.1,995.9 266.3,995.9 262.0,991.6 262.0,979.8"/>
<polygon points="374.9,975.5 386.7,975.5 391.0,979.8 391.0,991.6 386.7,995.9 374.9,995.9 370.6,991.6 370.6,979.8"/>
<polygon points="411.1,975.5 422.9,975.5 427.2,979.8 427.2,991.6 422.9,995.9 411.1,995.9 406.8,991.6 406.8,979.8"/>
<polygon points="519.7,975.5 531.5,975.5 535.8,979.8 535.8,991.6 531.5,995.9 519.7,995.9 515.4,991.6 515.4,979.8"/>
<polygon points="773.1,975.5 784.9,975.5 789.2,979.8 789.2,991.6 784.9,995.9 773.1,995.9 768.8,991.6 768.8,979.8"/>
<polygon points="809.3,975.5 821.1,975.5 825.4,979.8 825.4,991.6 821.1,995.9 809.3,995.9 805.0,991.6 805.0,979.8"/>
<polygon points="338.7,1048.4 350.5,1048.4 354.8,1052.7 354.8,1064.5 350.5,1068.8 338.7,1068.8 334.4,1064.5 334.4,1052.7"/>
<polygon points="809.3,1048.4 821.1,1048.4 825.4,1052.7 825.4,1064.5 821.1,1068.8 809.3,1068.8 805.0,1064.5 805.0,1052.7"/>
<polygon points="845.5,1048.4 857.3,1048.4 861.6,1052.7 861.6,1064.5 857.3,1068.8 845.5,1068.8 841.2,1064.5 841.2,1052.7"/>
<polygon points="121.5,1084.8 133.3,1084.8 137.6,1089.1 137.6,1100.9 133.3,1105.2 121.5,1105.2 117.2,1100.9 117.2,1089.1"/>
<polygon points="374.9,1084.8 386.7,1084.8 391.0,1089.1 391.0,1100.9 386.7,1105.2 374.9,1105.2 370.6,1100.9 370.6,1089.1"/>
<polygon points="411.1,1084.8 422.9,1084.8 427.2,1089.1 427.2,1100.9 422.9,1105.2 411.1,1105.2 406.8,1100.9 406.8,1089.1"/>
<polygon points="374.9,1121.2 386.7,1121.2 391.0,1125.5 391.0,1137.3 386.7,1141.6 374.9,1141.6 370.6,1137.3 370.6,1125.5"/>
<polygon points="411.1,1121.2 422.9,1121.2 427.2,1125.5 427.2,1137.3 422.9,1141.6 411.1,1141.6 406.8,1137.3 406.8,1125.5"/>
<polygon points="519.7,1121.2 531.5,1121.2 535.8,1125.5 535.8,1137.3 531.5,1141.6 519.7,1141.6 515.4,1137.3 515.4,1125.5"/>
<polygon points="193.9,1157.6 205.7,1157.6 210.0,1161.9 210.0,1173.7 205.7,1178.0 193.9,1178.0 189.6,1173.7 189.6,1161.9"/>
<polygon points="266.3,1157.6 278.1,1157.6 282.4,1161.9 282.4,1173.7 278.1,1178.0 266.3,1178.0 262.0,1173.7 262.0,1161.9"/>
<polygon points="374.9,1157.6 386.7,1157.6 391.0,1161.9 391.0,1173.7 386.7,1178.0 374.9,1178.0 370.6,1173.7 370.6,1161.9"/>
<polygon points="121.5,1194.0 133.3,1194.0 137.6,1198.3 137.6,1210.1 133.3,1214.4 121.5,1214.4 117.2,1210.1 117.2,1198.3"/>
<polygon points="193.9,1194.0 205.7,1194.0 210.0,1198.3 210.0,1210.1 205.7,1214.4 193.9,1214.4 189.6,1210.1 189.6,1198.3"/>
<polygon points="519.7,1194.0 531.5,1194.0 535.8,1198.3 535.8,1210.1 531.5,1214.4 519.7,1214.4 515.4,1210.1 515.4,1198.3"/>
<polygon points="628.3,1194.0 640.1,1194.0 644.4,1198.3 644.4,1210.1 640.1,1214.4 628.3,1214.4 624.0,1210.1 624.0,1198.3"/>
<polygon points="845.5,1194.0 857.3,1194.0 861.6,1198.3 861.6,1210.1 857.3,1214.4 845.5,1214.4 841.2,1210.1 841.2,1198.3"/>
<polygon points="483.5,1230.5 495.3,1230.5 499.6,1234.8 499.6,1246.6 495.3,1250.9 483.5,1250.9 479.2,1246.6 479.2,1234.8"/>
<polygon points="700.7,1230.5 712.5,1230.5 716.8,1234.8 716.8,1246.6 712.5,1250.9 700.7,1250.9 696.4,1246.6 696.4,1234.8"/>
<polygon points="338.7,1266.9 350.5,1266.9 354.8,1271.2 354.8,1283.0 350.5,1287.3 338.7,1287.3 334.4,1283.0 334.4,1271.2"/>
<polygon points="483.5,1266.9 495.3,1266.9 499.6,1271.2 499.6,1283.0 495.3,1287.3 483.5,1287.3 479.2,1283.0 479.2,1271.2"/>
<polygon points="483.5,1303.3 495.3,1303.3 499.6,1307.6 499.6,1319.4 495.3,1323.7 483.5,1323.7 479.2,1319.4 479.2,1307.6"/>
<polygon points="735.0,1303.3 750.6,1303.3 752.2,1304.9 752.2,1322.1 750.6,1323.7 735.0,1323.7 733.4,1322.1 733.4,1304.9"/>
<polygon points="592.1,1339.7 603.9,1339.7 608.2,1344.0 608.2,1355.8 603.9,1360.1 592.1,1360.1 587.8,1355.8 587.8,1344.0"/>
<polygon points="664.5,1339.7 676.3,1339.7 680.6,1344.0 680.6,1355.8 676.3,1360.1 664.5,1360.1 660.2,1355.8 660.2,1344.0"/>
<polygon points="881.7,1339.7 893.5,1339.7 897.8,1344.0 897.8,1355.8 893.5,1360.1 881.7,1360.1 877.4,1355.8 877.4,1344.0"/>
<polygon points="157.7,1376.1 169.5,1376.1 173.8,1380.4 173.8,1392.2 169.5,1396.5 157.7,1396.5 153.4,1392.2 153.4,1380.4"/>
<polygon points="411.1,1376.1 422.9,1376.1 427.2,1380.4 427.2,1392.2 422.9,1396.5 411.1,1396.5 406.8,1392.2 406.8,1380.4"/>
<polygon points="555.9,1376.1 567.7,1376.1 572.0,1380.4 572.0,1392.2 567.7,1396.5 555.9,1396.5 551.6,1392.2 551.6,1380.4"/>
<polygon points="664.5,1376.1 676.3,1376.1 680.6,1380.4 680.6,1392.2 676.3,1396.5 664.5,1396.5 660.2,1392.2 660.2,1380.4"/>
<polygon points="193.9,1485.4 205.7,1485.4 210.0,1489.7 210.0,1501.5 205.7,1505.8 193.9,1505.8 189.6,1501.5 189.6,1489.7"/>
<polygon points="447.3,1485.4 459.1,1485.4 463.4,1489.7 463.4,1501.5 459.1,1505.8 447.3,1505.8 443.0,1501.5 443.0,1489.7"/>
<polygon points="592.1,1485.4 603.9,1485.4 608.2,1489.7 608.2,1501.5 603.9,1505.8 592.1,1505.8 587.8,1501.5 587.8,1489.7"/>
<polygon points="773.1,1485.4 784.9,1485.4 789.2,1489.7 789.2,1501.5 784.9,1505.8 773.1,1505.8 768.8,1501.5 768.8,1489.7"/>
<polygon points="809.3,1485.4 821.1,1485.4 825.4,1489.7 825.4,1501.5 821.1,1505.8 809.3,1505.8 805.0,1501.5 805.0,1489.7"/>
<polygon points="266.3,1521.8 278.1,1521.8 282.4,1526.1 282.4,1537.9 278.1,1542.2 266.3,1542.2 262.0,1537.9 262.0,1526.1"/>
<polygon points="411.1,1521.8 422.9,1521.8 427.2,1526.1 427.2,1537.9 422.9,1542.2 411.1,1542.2 406.8,1537.9 406.8,1526.1"/>
<polygon points="447.3,1521.8 459.1,1521.8 463.4,1526.1 463.4,1537.9 459.1,1542.2 447.3,1542.2 443.0,1537.9 443.0,1526.1"/>
<polygon points="664.5,1521.8 676.3,1521.8 680.6,1526.1 680.6,1537.9 676.3,1542.2 664.5,1542.2 660.2,1537.9 660.2,1526.1"/>
<polygon points="809.3,1521.8 821.1,1521.8 825.4,1526.1 825.4,1537.9 821.1,1542.2 809.3,1542.2 805.0,1537.9 805.0,1526.1"/>
<polygon points="121.5,1558.2 133.3,1558.2 137.6,1562.5 137.6,1574.3 133.3,1578.6 121.5,1578.6 117.2,1574.3 117.2,1562.5"/>
<polygon points="338.7,1558.2 350.5,1558.2 354.8,1562.5 354.8,1574.3 350.5,1578.6 338.7,1578.6 334.4,1574.3 334.4,1562.5"/>
<polygon points="447.3,1558.2 459.1,1558.2 463.4,1562.5 463.4,1574.3 459.1,1578.6 447.3,1578.6 443.0,1574.3 443.0,1562.5"/>
<polygon points="483.5,1558.2 495.3,1558.2 499.6,1562.5 499.6,1574.3 495.3,1578.6 483.5,1578.6 479.2,1574.3 479.2,1562.5"/>
<polygon points="555.9,1558.2 567.7,1558.2 572.0,1562.5 572.0,1574.3 567.7,1578.6 555.9,1578.6 551.6,1574.3 551.6,1562.5"/>
<polygon points="228.2,1594.7 243.8,1594.7 245.4,1596.3 245.4,1613.5 243.8,1615.1 228.2,1615.1 226.6,1613.5 226.6,1596.3"/>
<polygon points="664.5,1594.7 676.3,1594.7 680.6,1599.0 680.6,1610.8 676.3,1615.1 664.5,1615.1 660.2,1610.8 660.2,1599.0"/>
<polygon points="193.9,1631.1 205.7,1631.1 210.0,1635.4 210.0,1647.2 205.7,1651.5 193.9,1651.5 189.6,1647.2 189.6,1635.4"/>
<polygon points="483.5,1631.1 495.3,1631.1 499.6,1635.4 499.6,1647.2 495.3,1651.5 483.5,1651.5 479.2,1647.2 479.2,1635.4"/>
<polygon points="555.9,1631.1 567.7,1631.1 572.0,1635.4 572.0,1647.2 567.7,1651.5 555.9,1651.5 551.6,1647.2 551.6,1635.4"/>
<polygon points="700.7,1631.1 712.5,1631.1 716.8,1635.4 716.8,1647.2 712.5,1651.5 700.7,1651.5 696.4,1647.2 696.4,1635.4"/>
</g>
<g fill="#b80000">
<polygon points="447.3,939.1 459.1,939.1 463.4,943.4 463.4,955.2 459.1,959.5 447.3,959.5 443.0,955.2 443.0,943.4"/>
<polygon points="555.9,975.5 567.7,975.5 572.0,979.8 572.0,991.6 567.7,995.9 555.9,995.9 551.6,991.6 551.6,979.8"/>
<polygon points="628.3,975.5 640.1,975.5 644.4,979.8 644.4,991.6 640.1,995.9 628.3,995.9 624.0,991.6 624.0,979.8"/>
<polygon points="700.7,1084.8 712.5,1084.8 716.8,1089.1 716.8,1100.9 712.5,1105.2 700.7,1105.2 696.4,1100.9 696.4,1089.1"/>
<polygon points="664.5,1121.2 676.3,1121.2 680.6,1125.5 680.6,1137.3 676.3,1141.6 664.5,1141.6 660.2,1137.3 660.2,1125.5"/>
<polygon points="555.9,1157.6 567.7,1157.6 572.0,1161.9 572.0,1173.7 567.7,1178.0 555.9,1178.0 551.6,1173.7 551.6,1161.9"/>
<polygon points="664.5,1194.0 676.3,1194.0 680.6,1198.3 680.6,1210.1 676.3,1214.4 664.5,1214.4 660.2,1210.1 660.2,1198.3"/>
<polygon points="735.0,1230.5 750.6,1230.5 752.2,1232.1 752.2,1249.3 750.6,1250.9 735.0,1250.9 733.4,1249.3 733.4,1232.1"/>
<polygon points="157.7,1303.3 169.5,1303.3 173.8,1307.6 173.8,1319.4 169.5,1323.7 157.7,1323.7 153.4,1319.4 153.4,1307.6"/>
<polygon points="228.2,1449.0 243.8,1449.0 245.4,1450.6 245.4,1467.8 243.8,1469.4 228.2,1469.4 226.6,1467.8 226.6,1450.6"/>
</g>
<g fill="#990000">
<polygon points="483.5,939.1 495.3,939.1 499.6,943.4 499.6,955.2 495.3,959.5 483.5,959.5 479.2,955.2 479.2,943.4"/>
</g>
<g fill="#fa0000">
<polygon points="519.7,939.1 531.5,939.1 535.8,943.4 535.8,955.2 531.5,959.5 519.7,959.5 515.4,955.2 515.4,943.4"/>
<polygon points="628.3,939.1 640.1,939.1 644.4,943.4 644.4,955.2 640.1,959.5 628.3,959.5 624.0,955.2 624.0,943.4"/>
<polygon points="193.9,975.5 205.7,975.5 210.0,979.8 210.0,991.6 205.7,995.9 193.9,995.9 189.6,991.6 189.6,979.8"/>
<polygon points="447.3,975.5 459.1,975.5 463.4,979.8 463.4,991.6 459.1,995.9 447.3,995.9 443.0,991.6 443.0,979.8"/>
<polygon points="483.5,975.5 495.3,975.5 499.6,979.8 499.6,991.6 495.3,995.9 483.5,995.9 479.2,991.6 479.2,979.8"/>
<polygon points="700.7,975.5 712.5,975.5 716.8,979.8 716.8,991.6 712.5,995.9 700.7,995.9 696.4,991.6 696.4,979.8"/>
<polygon points="881.7,975.5 893.5,975.5 897.8,979.8 897.8,991.6 893.5,995.9 881.7,995.9 877.4,991.6 877.4,979.8"/>
<polygon points="628.3,1084.8 640.1,1084.8 644.4,1089.1 644.4,1100.9 640.1,1105.2 628.3,1105.2 624.0,1100.9 624.0,1089.1"/>
<polygon points="881.7,1084.8 893.5,1084.8 897.8,1089.1 897.8,1100.9 893.5,1105.2 881.7,1105.2 877.4,1100.9 877.4,1089.1"/>
<polygon points="592.1,1121.2 603.9,1121.2 608.2,1125.5 608.2,1137.3 603.9,1141.6 592.1,1141.6 587.8,1137.3 587.8,1125.5"/>
<polygon points="628.3,1121.2 640.1,1121.2 644.4,1125.5 644.4,1137.3 640.1,1141.6 628.3,1141.6 624.0,1137.3 624.0,1125.5"/>
<polygon points="411.1,1157.6 422.9,1157.6 427.2,1161.9 427.2,1173.7 422.9,1178.0 411.1,1178.0 406.8,1173.7 406.8,1161.9"/>
<polygon points="845.5,1157.6 857.3,1157.6 861.6,1161.9 861.6,1173.7 857.3,1178.0 845.5,1178.0 841.2,1173.7 841.2,1161.9"/>
<polygon points="881.7,1157.6 893.5,1157.6 897.8,1161.9 897.8,1173.7 893.5,1178.0 881.7,1178.0 877.4,1173.7 877.4,1161.9"/>
<polygon points="773.1,1194.0 784.9,1194.0 789.2,1198.3 789.2,1210.1 784.9,1214.4 773.1,1214.4 768.8,1210.1 768.8,1198.3"/>
<polygon points="519.7,1230.5 531.5,1230.5 535.8,1234.8 535.8,1246.6 531.5,1250.9 519.7,1250.9 515.4,1246.6 515.4,1234.8"/>
<polygon points="664.5,1230.5 676.3,1230.5 680.6,1234.8 680.6,1246.6 676.3,1250.9 664.5,1250.9 660.2,1246.6 660.2,1234.8"/>
<polygon points="411.1,1266.9 422.9,1266.9 427.2,1271.2 427.2,1283.0 422.9,1287.3 411.1,1287.3 406.8,1283.0 406.8,1271.2"/>
<polygon points="374.9,1339.7 386.7,1339.7 391.0,1344.0 391.0,1355.8 386.7,1360.1 374.9,1360.1 370.6,1355.8 370.6,1344.0"/>
<polygon points="519.7,1376.1 531.5,1376.1 535.8,1380.4 535.8,1392.2 531.5,1396.5 519.7,1396.5 515.4,1392.2 515.4,1380.4"/>
<polygon points="881.7,1376.1 893.5,1376.1 897.8,1380.4 897.8,1392.2 893.5,1396.5 881.7,1396.5 877.4,1392.2 877.4,1380.4"/>
<polygon points="374.9,1412.6 386.7,1412.6 391.0,1416.9 391.0,1428.7 386.7,1433.0 374.9,1433.0 370.6,1428.7 370.6,1416.9"/>
<polygon points="735.0,1485.4 750.6,1485.4 752.2,1487.0 752.2,1504.2 750.6,1505.8 735.0,1505.8 733.4,1504.2 733.4,1487.0"/>
<polygon points="302.5,1521.8 314.3,1521.8 318.6,1526.1 318.6,1537.9 314.3,1542.2 302.5,1542.2 298.2,1537.9 298.2,1526.1"/>
<polygon points="809.3,1558.2 821.1,1558.2 825.4,1562.5 825.4,1574.3 821.1,1578.6 809.3,1578.6 805.0,1574.3 805.0,1562.5"/>
<polygon points="881.7,1631.1 893.5,1631.1 897.8,1635.4 897.8,1647.2 893.5,1651.5 881.7,1651.5 877.4,1647.2 877.4,1635.4"/>
</g>
<g fill="#0061ff">
<polygon points="773.1,939.1 784.9,939.1 789.2,943.4 789.2,955.2 784.9,959.5 773.1,959.5 768.8,955.2 768.8,943.4"/>
<polygon points="700.7,1011.9 712.5,1011.9 716.8,1016.2 716.8,1028.0 712.5,1032.3 700.7,1032.3 696.4,1028.0 696.4,1016.2"/>
<polygon points="592.1,1084.8 603.9,1084.8 608.2,1089.1 608.2,1100.9 603.9,1105.2 592.1,1105.2 587.8,1100.9 587.8,1089.1"/>
<polygon points="338.7,1194.0 350.5,1194.0 354.8,1198.3 354.8,1210.1 350.5,1214.4 338.7,1214.4 334.4,1210.1 334.4,1198.3"/>
<polygon points="374.9,1230.5 386.7,1230.5 391.0,1234.8 391.0,1246.6 386.7,1250.9 374.9,1250.9 370.6,1246.6 370.6,1234.8"/>
<polygon points="519.7,1303.3 531.5,1303.3 535.8,1307.6 535.8,1319.4 531.5,1323.7 519.7,1323.7 515.4,1319.4 515.4,1307.6"/>
<polygon points="374.9,1376.1 386.7,1376.1 391.0,1380.4 391.0,1392.2 386.7,1396.5 374.9,1396.5 370.6,1392.2 370.6,1380.4"/>
<polygon points="483.5,1449.0 495.3,1449.0 499.6,1453.3 499.6,1465.1 495.3,1469.4 483.5,1469.4 479.2,1465.1 479.2,1453.3"/>
<polygon points="735.0,1558.2 750.6,1558.2 752.2,1559.8 752.2,1577.0 750.6,1578.6 735.0,1578.6 733.4,1577.0 733.4,1559.8"/>
<polygon points="555.9,1594.7 567.7,1594.7 572.0,1599.0 572.0,1610.8 567.7,1615.1 555.9,1615.1 551.6,1610.8 551.6,1599.0"/>
<polygon points="374.9,1631.1 386.7,1631.1 391.0,1635.4 391.0,1647.2 386.7,1651.5 374.9,1651.5 370.6,1647.2 370.6,1635.4"/>
</g>
<g fill="#ff2e00">
<polygon points="809.3,939.1 821.1,939.1 825.4,943.4 825.4,955.2 821.1,959.5 809.3,959.5 805.0,955.2 805.0,943.4"/>
<polygon points="338.7,1011.9 350.5,1011.9 354.8,1016.2 354.8,1028.0 350.5,1032.3 338.7,1032.3 334.4,1028.0 334.4,1016.2"/>
<polygon points="735.0,1011.9 750.6,1011.9 752.2,1013.5 752.2,1030.7 750.6,1032.3 735.0,1032.3 733.4,1030.7 733.4,1013.5"/>
<polygon points="266.3,1121.2 278.1,1121.2 282.4,1125.5 282.4,1137.3 278.1,1141.6 266.3,1141.6 262.0,1137.3 262.0,1125.5"/>
<polygon points="845.5,1121.2 857.3,1121.2 861.6,1125.5 861.6,1137.3 857.3,1141.6 845.5,1141.6 841.2,1137.3 841.2,1125.5"/>
<polygon points="157.7,1157.6 169.5,1157.6 173.8,1161.9 173.8,1173.7 169.5,1178.0 157.7,1178.0 153.4,1173.7 153.4,1161.9"/>
<polygon points="664.5,1157.6 676.3,1157.6 680.6,1161.9 680.6,1173.7 676.3,1178.0 664.5,1178.0 660.2,1173.7 660.2,1161.9"/>
<polygon points="773.1,1157.6 784.9,1157.6 789.2,1161.9 789.2,1173.7 784.9,1178.0 773.1,1178.0 768.8,1173.7 768.8,1161.9"/>
<polygon points="411.1,1194.0 422.9,1194.0 427.2,1198.3 427.2,1210.1 422.9,1214.4 411.1,1214.4 406.8,1210.1 406.8,1198.3"/>
<polygon points="447.3,1194.0 459.1,1194.0 463.4,1198.3 463.4,1210.1 459.1,1214.4 447.3,1214.4 443.0,1210.1 443.0,1198.3"/>
<polygon points="157.7,1230.5 169.5,1230.5 173.8,1234.8 173.8,1246.6 169.5,1250.9 157.7,1250.9 153.4,1246.6 153.4,1234.8"/>
<polygon points="266.3,1230.5 278.1,1230.5 282.4,1234.8 282.4,1246.6 278.1,1250.9 266.3,1250.9 262.0,1246.6 262.0,1234.8"/>
<polygon points="881.7,1230.5 893.5,1230.5 897.8,1234.8 897.8,1246.6 893.5,1250.9 881.7,1250.9 877.4,1246.6 877.4,1234.8"/>
<polygon points="447.3,1266.9 459.1,1266.9 463.4,1271.2 463.4,1283.0 459.1,1287.3 447.3,1287.3 443.0,1283.0 443.0,1271.2"/>
<polygon points="735.0,1266.9 750.6,1266.9 752.2,1268.5 752.2,1285.7 750.6,1287.3 735.0,1287.3 733.4,1285.7 733.4,1268.5"/>
<polygon points="338.7,1303.3 350.5,1303.3 354.8,1307.6 354.8,1319.4 350.5,1323.7 338.7,1323.7 334.4,1319.4 334.4,1307.6"/>
<polygon points="845.5,1303.3 857.3,1303.3 861.6,1307.6 861.6,1319.4 857.3,1323.7 845.5,1323.7 841.2,1319.4 841.2,1307.6"/>
<polygon points="157.7,1339.7 169.5,1339.7 173.8,1344.0 173.8,1355.8 169.5,1360.1 157.7,1360.1 153.4,1355.8 153.4,1344.0"/>
<polygon points="193.9,1376.1 205.7,1376.1 210.0,1380.4 210.0,1392.2 205.7,1396.5 193.9,1396.5 189.6,1392.2 189.6,1380.4"/>
<polygon points="302.5,1376.1 314.3,1376.1 318.6,1380.4 318.6,1392.2 314.3,1396.5 302.5,1396.5 298.2,1392.2 298.2,1380.4"/>
<polygon points="592.1,1376.1 603.9,1376.1 608.2,1380.4 608.2,1392.2 603.9,1396.5 592.1,1396.5 587.8,1392.2 587.8,1380.4"/>
<polygon points="193.9,1412.6 205.7,1412.6 210.0,1416.9 210.0,1428.7 205.7,1433.0 193.9,1433.0 189.6,1428.7 189.6,1416.9"/>
<polygon points="411.1,1412.6 422.9,1412.6 427.2,1416.9 427.2,1428.7 422.9,1433.0 411.1,1433.0 406.8,1428.7 406.8,1416.9"/>
<polygon points="157.7,1485.4 169.5,1485.4 173.8,1489.7 173.8,1501.5 169.5,1505.8 157.7,1505.8 153.4,1501.5 153.4,1489.7"/>
<polygon points="228.2,1485.4 243.8,1485.4 245.4,1487.0 245.4,1504.2 243.8,1505.8 228.2,1505.8 226.6,1504.2 226.6,1487.0"/>
<polygon points="700.7,1485.4 712.5,1485.4 716.8,1489.7 716.8,1501.5 712.5,1505.8 700.7,1505.8 696.4,1501.5 696.4,1489.7"/>
<polygon points="592.1,1521.8 603.9,1521.8 608.2,1526.1 608.2,1537.9 603.9,1542.2 592.1,1542.2 587.8,1537.9 587.8,1526.1"/>
<polygon points="157.7,1594.7 169.5,1594.7 173.8,1599.0 173.8,1610.8 169.5,1615.1 157.7,1615.1 153.4,1610.8 153.4,1599.0"/>
<polygon points="338.7,1594.7 350.5,1594.7 354.8,1599.0 354.8,1610.8 350.5,1615.1 338.7,1615.1 334.4,1610.8 334.4,1599.0"/>
<polygon points="735.0,1631.1 750.6,1631.1 752.2,1632.7 752.2,1649.9 750.6,1651.5 735.0,1651.5 733.4,1649.9 733.4,1632.7"/>
</g>
<g fill="#ffd100">
<polygon points="881.7,939.1 893.5,939.1 897.8,943.4 897.8,955.2 893.5,959.5 881.7,959.5 877.4,955.2 877.4,943.4"/>
<polygon points="338.7,975.5 350.5,975.5 354.8,979.8 354.8,991.6 350.5,995.9 338.7,995.9 334.4,991.6 334.4,979.8"/>
<polygon points="773.1,1011.9 784.9,1011.9 789.2,1016.2 789.2,1028.0 784.9,1032.3 773.1,1032.3 768.8,1028.0 768.8,1016.2"/>
<polygon points="592.1,1048.4 603.9,1048.4 608.2,1052.7 608.2,1064.5 603.9,1068.8 592.1,1068.8 587.8,1064.5 587.8,1052.7"/>
<polygon points="157.7,1084.8 169.5,1084.8 173.8,1089.1 173.8,1100.9 169.5,1105.2 157.7,1105.2 153.4,1100.9 153.4,1089.1"/>
<polygon points="157.7,1121.2 169.5,1121.2 173.8,1125.5 173.8,1137.3 169.5,1141.6 157.7,1141.6 153.4,1137.3 153.4,1125.5"/>
<polygon points="302.5,1121.2 314.3,1121.2 318.6,1125.5 318.6,1137.3 314.3,1141.6 302.5,1141.6 298.2,1137.3 298.2,1125.5"/>
<polygon points="555.9,1121.2 567.7,1121.2 572.0,1125.5 572.0,1137.3 567.7,1141.6 555.9,1141.6 551.6,1137.3 551.6,1125.5"/>
<polygon points="809.3,1121.2 821.1,1121.2 825.4,1125.5 825.4,1137.3 821.1,1141.6 809.3,1141.6 805.0,1137.3 805.0,1125.5"/>
<polygon points="302.5,1157.6 314.3,1157.6 318.6,1161.9 318.6,1173.7 314.3,1178.0 302.5,1178.0 298.2,1173.7 298.2,1161.9"/>
<polygon points="628.3,1157.6 640.1,1157.6 644.4,1161.9 644.4,1173.7 640.1,1178.0 628.3,1178.0 624.0,1173.7 624.0,1161.9"/>
<polygon points="157.7,1194.0 169.5,1194.0 173.8,1198.3 173.8,1210.1 169.5,1214.4 157.7,1214.4 153.4,1210.1 153.4,1198.3"/>
<polygon points="228.2,1194.0 243.8,1194.0 245.4,1195.6 245.4,1212.8 243.8,1214.4 228.2,1214.4 226.6,1212.8 226.6,1195.6"/>
<polygon points="374.9,1194.0 386.7,1194.0 391.0,1198.3 391.0,1210.1 386.7,1214.4 374.9,1214.4 370.6,1210.1 370.6,1198.3"/>
<polygon points="809.3,1194.0 821.1,1194.0 825.4,1198.3 825.4,1210.1 821.1,1214.4 809.3,1214.4 805.0,1210.1 805.0,1198.3"/>
<polygon points="809.3,1230.5 821.1,1230.5 825.4,1234.8 825.4,1246.6 821.1,1250.9 809.3,1250.9 805.0,1246.6 805.0,1234.8"/>
<polygon points="773.1,1266.9 784.9,1266.9 789.2,1271.2 789.2,1283.0 784.9,1287.3 773.1,1287.3 768.8,1283.0 768.8,1271.2"/>
<polygon points="845.5,1266.9 857.3,1266.9 861.6,1271.2 861.6,1283.0 857.3,1287.3 845.5,1287.3 841.2,1283.0 841.2,1271.2"/>
<polygon points="881.7,1266.9 893.5,1266.9 897.8,1271.2 897.8,1283.0 893.5,1287.3 881.7,1287.3 877.4,1283.0 877.4,1271.2"/>
<polygon points="411.1,1303.3 422.9,1303.3 427.2,1307.6 427.2,1319.4 422.9,1323.7 411.1,1323.7 406.8,1319.4 406.8,1307.6"/>
<polygon points="628.3,1303.3 640.1,1303.3 644.4,1307.6 644.4,1319.4 640.1,1323.7 628.3,1323.7 624.0,1319.4 624.0,1307.6"/>
<polygon points="881.7,1303.3 893.5,1303.3 897.8,1307.6 897.8,1319.4 893.5,1323.7 881.7,1323.7 877.4,1319.4 877.4,1307.6"/>
<polygon points="809.3,1339.7 821.1,1339.7 825.4,1344.0 825.4,1355.8 821.1,1360.1 809.3,1360.1 805.0,1355.8 805.0,1344.0"/>
<polygon points="483.5,1376.1 495.3,1376.1 499.6,1380.4 499.6,1392.2 495.3,1396.5 483.5,1396.5 479.2,1392.2 479.2,1380.4"/>
<polygon points="121.5,1412.6 133.3,1412.6 137.6,1416.9 137.6,1428.7 133.3,1433.0 121.5,1433.0 117.2,1428.7 117.2,1416.9"/>
<polygon points="228.2,1412.6 243.8,1412.6 245.4,1414.2 245.4,1431.4 243.8,1433.0 228.2,1433.0 226.6,1431.4 226.6,1414.2"/>
<polygon points="519.7,1412.6 531.5,1412.6 535.8,1416.9 535.8,1428.7 531.5,1433.0 519.7,1433.0 515.4,1428.7 515.4,1416.9"/>
<polygon points="845.5,1412.6 857.3,1412.6 861.6,1416.9 861.6,1428.7 857.3,1433.0 845.5,1433.0 841.2,1428.7 841.2,1416.9"/>
<polygon points="374.9,1449.0 386.7,1449.0 391.0,1453.3 391.0,1465.1 386.7,1469.4 374.9,1469.4 370.6,1465.1 370.6,1453.3"/>
<polygon points="483.5,1485.4 495.3,1485.4 499.6,1489.7 499.6,1501.5 495.3,1505.8 483.5,1505.8 479.2,1501.5 479.2,1489.7"/>
<polygon points="881.7,1485.4 893.5,1485.4 897.8,1489.7 897.8,1501.5 893.5,1505.8 881.7,1505.8 877.4,1501.5 877.4,1489.7"/>
<polygon points="592.1,1558.2 603.9,1558.2 608.2,1562.5 608.2,1574.3 603.9,1578.6 592.1,1578.6 587.8,1574.3 587.8,1562.5"/>
<polygon points="664.5,1558.2 676.3,1558.2 680.6,1562.5 680.6,1574.3 676.3,1578.6 664.5,1578.6 660.2,1574.3 660.2,1562.5"/>
<polygon points="881.7,1558.2 893.5,1558.2 897.8,1562.5 897.8,1574.3 893.5,1578.6 881.7,1578.6 877.4,1574.3 877.4,1562.5"/>
<polygon points="121.5,1594.7 133.3,1594.7 137.6,1599.0 137.6,1610.8 133.3,1615.1 121.5,1615.1 117.2,1610.8 117.2,1599.0"/>
<polygon points="700.7,1594.7 712.5,1594.7 716.8,1599.0 716.8,1610.8 712.5,1615.1 700.7,1615.1 696.4,1610.8 696.4,1599.0"/>
</g>
<g fill="#00b2ff">
<polygon points="592.1,975.5 603.9,975.5 608.2,979.8 608.2,991.6 603.9,995.9 592.1,995.9 587.8,991.6 587.8,979.8"/>
<polygon points="411.1,1048.4 422.9,1048.4 427.2,1052.7 427.2,1064.5 422.9,1068.8 411.1,1068.8 406.8,1064.5 406.8,1052.7"/>
<polygon points="483.5,1048.4 495.3,1048.4 499.6,1052.7 499.6,1064.5 495.3,1068.8 483.5,1068.8 479.2,1064.5 479.2,1052.7"/>
<polygon points="228.2,1121.2 243.8,1121.2 245.4,1122.8 245.4,1140.0 243.8,1141.6 228.2,1141.6 226.6,1140.0 226.6,1122.8"/>
<polygon points="483.5,1157.6 495.3,1157.6 499.6,1161.9 499.6,1173.7 495.3,1178.0 483.5,1178.0 479.2,1173.7 479.2,1161.9"/>
<polygon points="519.7,1157.6 531.5,1157.6 535.8,1161.9 535.8,1173.7 531.5,1178.0 519.7,1178.0 515.4,1173.7 515.4,1161.9"/>
<polygon points="302.5,1194.0 314.3,1194.0 318.6,1198.3 318.6,1210.1 314.3,1214.4 302.5,1214.4 298.2,1210.1 298.2,1198.3"/>
<polygon points="664.5,1266.9 676.3,1266.9 680.6,1271.2 680.6,1283.0 676.3,1287.3 664.5,1287.3 660.2,1283.0 660.2,1271.2"/>
<polygon points="411.1,1449.0 422.9,1449.0 427.2,1453.3 427.2,1465.1 422.9,1469.4 411.1,1469.4 406.8,1465.1 406.8,1453.3"/>
<polygon points="266.3,1558.2 278.1,1558.2 282.4,1562.5 282.4,1574.3 278.1,1578.6 266.3,1578.6 262.0,1574.3 262.0,1562.5"/>
<polygon points="302.5,1558.2 314.3,1558.2 318.6,1562.5 318.6,1574.3 314.3,1578.6 302.5,1578.6 298.2,1574.3 298.2,1562.5"/>
<polygon points="519.7,1558.2 531.5,1558.2 535.8,1562.5 535.8,1574.3 531.5,1578.6 519.7,1578.6 515.4,1574.3 515.4,1562.5"/>
<polygon points="483.5,1594.7 495.3,1594.7 499.6,1599.0 499.6,1610.8 495.3,1615.1 483.5,1615.1 479.2,1610.8 479.2,1599.0"/>
<polygon points="628.3,1594.7 640.1,1594.7 644.4,1599.0 644.4,1610.8 640.1,1615.1 628.3,1615.1 624.0,1610.8 624.0,1599.0"/>
<polygon points="592.1,1631.1 603.9,1631.1 608.2,1635.4 608.2,1647.2 603.9,1651.5 592.1,1651.5 587.8,1647.2 587.8,1635.4"/>
<polygon points="664.5,1631.1 676.3,1631.1 680.6,1635.4 680.6,1647.2 676.3,1651.5 664.5,1651.5 660.2,1647.2 660.2,1635.4"/>
</g>
<g fill="#61ff9e">
<polygon points="735.0,975.5 750.6,975.5 752.2,977.1 752.2,994.3 750.6,995.9 735.0,995.9 733.4,994.3 733.4,977.1"/>
<polygon points="374.9,1011.9 386.7,1011.9 391.0,1016.2 391.0,1028.0 386.7,1032.3 374.9,1032.3 370.6,1028.0 370.6,1016.2"/>
<polygon points="628.3,1011.9 640.1,1011.9 644.4,1016.2 644.4,1028.0 640.1,1032.3 628.3,1032.3 624.0,1028.0 624.0,1016.2"/>
<polygon points="664.5,1011.9 676.3,1011.9 680.6,1016.2 680.6,1028.0 676.3,1032.3 664.5,1032.3 660.2,1028.0 660.2,1016.2"/>
<polygon points="809.3,1011.9 821.1,1011.9 825.4,1016.2 825.4,1028.0 821.1,1032.3 809.3,1032.3 805.0,1028.0 805.0,1016.2"/>
<polygon points="374.9,1048.4 386.7,1048.4 391.0,1052.7 391.0,1064.5 386.7,1068.8 374.9,1068.8 370.6,1064.5 370.6,1052.7"/>
<polygon points="628.3,1048.4 640.1,1048.4 644.4,1052.7 644.4,1064.5 640.1,1068.8 628.3,1068.8 624.0,1064.5 624.0,1052.7"/>
<polygon points="664.5,1048.4 676.3,1048.4 680.6,1052.7 680.6,1064.5 676.3,1068.8 664.5,1068.8 660.2,1064.5 660.2,1052.7"/>
<polygon points="845.5,1084.8 857.3,1084.8 861.6,1089.1 861.6,1100.9 857.3,1105.2 845.5,1105.2 841.2,1100.9 841.2,1089.1"/>
<polygon points="809.3,1157.6 821.1,1157.6 825.4,1161.9 825.4,1173.7 821.1,1178.0 809.3,1178.0 805.0,1173.7 805.0,1161.9"/>
<polygon points="266.3,1194.0 278.1,1194.0 282.4,1198.3 282.4,1210.1 278.1,1214.4 266.3,1214.4 262.0,1210.1 262.0,1198.3"/>
<polygon points="193.9,1230.5 205.7,1230.5 210.0,1234.8 210.0,1246.6 205.7,1250.9 193.9,1250.9 189.6,1246.6 189.6,1234.8"/>
<polygon points="628.3,1230.5 640.1,1230.5 644.4,1234.8 644.4,1246.6 640.1,1250.9 628.3,1250.9 624.0,1246.6 624.0,1234.8"/>
<polygon points="302.5,1266.9 314.3,1266.9 318.6,1271.2 318.6,1283.0 314.3,1287.3 302.5,1287.3 298.2,1283.0 298.2,1271.2"/>
<polygon points="374.9,1266.9 386.7,1266.9 391.0,1271.2 391.0,1283.0 386.7,1287.3 374.9,1287.3 370.6,1283.0 370.6,1271.2"/>
<polygon points="700.7,1266.9 712.5,1266.9 716.8,1271.2 716.8,1283.0 712.5,1287.3 700.7,1287.3 696.4,1283.0 696.4,1271.2"/>
<polygon points="447.3,1303.3 459.1,1303.3 463.4,1307.6 463.4,1319.4 459.1,1323.7 447.3,1323.7 443.0,1319.4 443.0,1307.6"/>
<polygon points="193.9,1339.7 205.7,1339.7 210.0,1344.0 210.0,1355.8 205.7,1360.1 193.9,1360.1 189.6,1355.8 189.6,1344.0"/>
<polygon points="628.3,1339.7 640.1,1339.7 644.4,1344.0 644.4,1355.8 640.1,1360.1 628.3,1360.1 624.0,1355.8 624.0,1344.0"/>
<polygon points="773.1,1339.7 784.9,1339.7 789.2,1344.0 789.2,1355.8 784.9,1360.1 773.1,1360.1 768.8,1355.8 768.8,1344.0"/>
<polygon points="845.5,1339.7 857.3,1339.7 861.6,1344.0 861.6,1355.8 857.3,1360.1 845.5,1360.1 841.2,1355.8 841.2,1344.0"/>
<polygon points="228.2,1376.1 243.8,1376.1 245.4,1377.7 245.4,1394.9 243.8,1396.5 228.2,1396.5 226.6,1394.9 226.6,1377.7"/>
<polygon points="700.7,1376.1 712.5,1376.1 716.8,1380.4 716.8,1392.2 712.5,1396.5 700.7,1396.5 696.4,1392.2 696.4,1380.4"/>
<polygon points="628.3,1412.6 640.1,1412.6 644.4,1416.9 644.4,1428.7 640.1,1433.0 628.3,1433.0 624.0,1428.7 624.0,1416.9"/>
<polygon points="664.5,1412.6 676.3,1412.6 680.6,1416.9 680.6,1428.7 676.3,1433.0 664.5,1433.0 660.2,1428.7 660.2,1416.9"/>
<polygon points="700.7,1412.6 712.5,1412.6 716.8,1416.9 716.8,1428.7 712.5,1433.0 700.7,1433.0 696.4,1428.7 696.4,1416.9"/>
<polygon points="411.1,1485.4 422.9,1485.4 427.2,1489.7 427.2,1501.5 422.9,1505.8 411.1,1505.8 406.8,1501.5 406.8,1489.7"/>
<polygon points="483.5,1521.8 495.3,1521.8 499.6,1526.1 499.6,1537.9 495.3,1542.2 483.5,1542.2 479.2,1537.9 479.2,1526.1"/>
<polygon points="193.9,1558.2 205.7,1558.2 210.0,1562.5 210.0,1574.3 205.7,1578.6 193.9,1578.6 189.6,1574.3 189.6,1562.5"/>
<polygon points="374.9,1558.2 386.7,1558.2 391.0,1562.5 391.0,1574.3 386.7,1578.6 374.9,1578.6 370.6,1574.3 370.6,1562.5"/>
<polygon points="374.9,1594.7 386.7,1594.7 391.0,1599.0 391.0,1610.8 386.7,1615.1 374.9,1615.1 370.6,1610.8 370.6,1599.0"/>
<polygon points="266.3,1631.1 278.1,1631.1 282.4,1635.4 282.4,1647.2 278.1,1651.5 266.3,1651.5 262.0,1647.2 262.0,1635.4"/>
<polygon points="338.7,1631.1 350.5,1631.1 354.8,1635.4 354.8,1647.2 350.5,1651.5 338.7,1651.5 334.4,1647.2 334.4,1635.4"/>
<polygon points="628.3,1631.1 640.1,1631.1 644.4,1635.4 644.4,1647.2 640.1,1651.5 628.3,1651.5 624.0,1647.2 624.0,1635.4"/>
</g>
<g fill="#000fff">
<polygon points="519.7,1084.8 531.5,1084.8 535.8,1089.1 535.8,1100.9 531.5,1105.2 519.7,1105.2 515.4,1100.9 515.4,1089.1"/>
<polygon points="555.9,1449.0 567.7,1449.0 572.0,1453.3 572.0,1465.1 567.7,1469.4 555.9,1469.4 551.6,1465.1 551.6,1453.3"/>
<polygon points="157.7,1631.1 169.5,1631.1 173.8,1635.4 173.8,1647.2 169.5,1651.5 157.7,1651.5 153.4,1647.2 153.4,1635.4"/>
</g>
<g fill="#d10000">
<polygon points="266.3,1412.6 278.1,1412.6 282.4,1416.9 282.4,1428.7 278.1,1433.0 266.3,1433.0 262.0,1428.7 262.0,1416.9"/>
<polygon points="447.3,1412.6 459.1,1412.6 463.4,1416.9 463.4,1428.7 459.1,1433.0 447.3,1433.0 443.0,1428.7 443.0,1416.9"/>
<polygon points="302.5,1449.0 314.3,1449.0 318.6,1453.3 318.6,1465.1 314.3,1469.4 302.5,1469.4 298.2,1465.1 298.2,1453.3"/>
<polygon points="735.0,1449.0 750.6,1449.0 752.2,1450.6 752.2,1467.8 750.6,1469.4 735.0,1469.4 733.4,1467.8 733.4,1450.6"/>
<polygon points="809.3,1449.0 821.1,1449.0 825.4,1453.3 825.4,1465.1 821.1,1469.4 809.3,1469.4 805.0,1465.1 805.0,1453.3"/>
<polygon points="664.5,1485.4 676.3,1485.4 680.6,1489.7 680.6,1501.5 676.3,1505.8 664.5,1505.8 660.2,1501.5 660.2,1489.7"/>
<polygon points="845.5,1485.4 857.3,1485.4 861.6,1489.7 861.6,1501.5 857.3,1505.8 845.5,1505.8 841.2,1501.5 841.2,1489.7"/>
<polygon points="845.5,1594.7 857.3,1594.7 861.6,1599.0 861.6,1610.8 857.3,1615.1 845.5,1615.1 841.2,1610.8 841.2,1599.0"/>
<polygon points="809.3,1631.1 821.1,1631.1 825.4,1635.4 825.4,1647.2 821.1,1651.5 809.3,1651.5 805.0,1647.2 805.0,1635.4"/>
</g>
<rect x="109.2" y="1151.6" width="795.8" height="31.3" fill="none" stroke="#fff" stroke-width="4.8"/>
<rect x="109.2" y="1332.7" width="795.8" height="30.9" fill="none" stroke="#fff" stroke-width="4.8"/>
<rect x="109.2" y="1626.5" width="795.8" height="31.3" fill="none" stroke="#fff" stroke-width="4.8"/>
<circle cx="69.0" cy="1170.3" r="23.9" fill="none" stroke="#a9e6b0" stroke-width="1.1"/>
<text x="69.0" y="1187.9" font-family="'Noto Sans CJK KR','Noto Sans CJK SC','Liberation Sans',sans-serif" font-size="48" font-weight="300" text-anchor="middle" fill="#1fc63a">1</text>
<circle cx="69.0" cy="1350.9" r="23.9" fill="none" stroke="#f0a9ab" stroke-width="1.1"/>
<text x="69.0" y="1368.5" font-family="'Noto Sans CJK KR','Noto Sans CJK SC','Liberation Sans',sans-serif" font-size="48" font-weight="300" text-anchor="middle" fill="#e21f26">2</text>
<circle cx="68.8" cy="1646.4" r="23.9" fill="none" stroke="#b4b4dc" stroke-width="1.1"/>
<text x="68.8" y="1664.0" font-family="'Noto Sans CJK KR','Noto Sans CJK SC','Liberation Sans',sans-serif" font-size="48" font-weight="300" text-anchor="middle" fill="#1c1cc0">3</text>
<linearGradient id="gc" gradientUnits="userSpaceOnUse" x1="0" y1="916.0" x2="0" y2="1668.0"><stop offset="0.0000" stop-color="#000080"/><stop offset="0.0312" stop-color="#00009f"/><stop offset="0.0625" stop-color="#0000bf"/><stop offset="0.0938" stop-color="#0000df"/><stop offset="0.1250" stop-color="#0000ff"/><stop offset="0.1562" stop-color="#0020ff"/><stop offset="0.1875" stop-color="#0040ff"/><stop offset="0.2188" stop-color="#0060ff"/><stop offset="0.2500" stop-color="#0080ff"/><stop offset="0.2812" stop-color="#009fff"/><stop offset="0.3125" stop-color="#00bfff"/><stop offset="0.3438" stop-color="#00dfff"/><stop offset="0.3750" stop-color="#00ffff"/><stop offset="0.4062" stop-color="#20ffdf"/><stop offset="0.4375" stop-color="#40ffbf"/><stop offset="0.4688" stop-color="#60ff9f"/><stop offset="0.5000" stop-color="#80ff80"/><stop offset="0.5312" stop-color="#9fff60"/><stop offset="0.5625" stop-color="#bfff40"/><stop offset="0.5938" stop-color="#dfff20"/><stop offset="0.6250" stop-color="#ffff00"/><stop offset="0.6562" stop-color="#ffdf00"/><stop offset="0.6875" stop-color="#ffbf00"/><stop offset="0.7188" stop-color="#ff9f00"/><stop offset="0.7500" stop-color="#ff8000"/><stop offset="0.7812" stop-color="#ff6000"/><stop offset="0.8125" stop-color="#ff4000"/><stop offset="0.8438" stop-color="#ff2000"/><stop offset="0.8750" stop-color="#ff0000"/><stop offset="0.9062" stop-color="#df0000"/><stop offset="0.9375" stop-color="#bf0000"/><stop offset="0.9688" stop-color="#9f0000"/><stop offset="1.0000" stop-color="#800000"/></linearGradient>
<rect x="922.4" y="920.0" width="70.0" height="746.6" fill="url(#gc)"/>
<line x1="985" y1="1013.5" x2="991.4" y2="1013.5" stroke="#000" stroke-opacity="0.7" stroke-width="2"/>
<line x1="985" y1="1109.0" x2="991.4" y2="1109.0" stroke="#000" stroke-opacity="0.7" stroke-width="2"/>
<line x1="985" y1="1204.5" x2="991.4" y2="1204.5" stroke="#000" stroke-opacity="0.7" stroke-width="2"/>
<line x1="985" y1="1300.0" x2="991.4" y2="1300.0" stroke="#000" stroke-opacity="0.7" stroke-width="2"/>
<line x1="985" y1="1395.5" x2="991.4" y2="1395.5" stroke="#000" stroke-opacity="0.7" stroke-width="2"/>
<line x1="985" y1="1491.0" x2="991.4" y2="1491.0" stroke="#000" stroke-opacity="0.7" stroke-width="2"/>
<line x1="985" y1="1586.5" x2="991.4" y2="1586.5" stroke="#000" stroke-opacity="0.7" stroke-width="2"/>
<rect x="923.4" y="921.0" width="68" height="744.6" fill="none" stroke="#000" stroke-opacity="0.72" stroke-width="2"/>
<text x="958.2" y="952.4" font-family="'Liberation Sans',sans-serif" font-size="49.5" text-anchor="middle" fill="#fff" stroke="url(#gc)" stroke-width="0.3">0</text>
<text x="954.2" y="1309.0" font-family="'Liberation Sans',sans-serif" font-size="50" text-anchor="middle" fill="#000">-4</text>
<text x="957.2" y="1646.0" font-family="'Liberation Sans',sans-serif" font-size="49.5" text-anchor="middle" fill="#fff" stroke="url(#gc)" stroke-width="0.3">-10</text>
<path d="M1251.0 757.7V745.3M1402.5 757.7V745.3M1553.9 757.7V745.3M1705.3 757.7V745.3M1856.8 757.7V745.3M2008.2 757.7V745.3M1326.7 757.7V750.8M1478.2 757.7V750.8M1629.6 757.7V750.8M1781.1 757.7V750.8M1932.5 757.7V750.8M1221.0 74.6H1233.4M1221.0 245.5H1233.4M1221.0 416.4H1233.4M1221.0 587.3H1233.4M1221.0 758.2H1233.4M1221.0 160.1H1227.9M1221.0 331.0H1227.9M1221.0 501.9H1227.9M1221.0 672.8H1227.9" stroke="#000" stroke-width="4.4" fill="none"/>
<rect x="1221.0" y="74.4" width="848.6" height="683.3" fill="none" stroke="#000" stroke-width="4.8"/>
<text x="1251.0" y="813.3" font-family="'Liberation Sans',sans-serif" font-size="53" text-anchor="middle" fill="#000">0</text>
<text x="1402.5" y="813.3" font-family="'Liberation Sans',sans-serif" font-size="53" text-anchor="middle" fill="#000">1</text>
<text x="1553.9" y="813.3" font-family="'Liberation Sans',sans-serif" font-size="53" text-anchor="middle" fill="#000">2</text>
<text x="1705.3" y="813.3" font-family="'Liberation Sans',sans-serif" font-size="53" text-anchor="middle" fill="#000">3</text>
<text x="1856.8" y="813.3" font-family="'Liberation Sans',sans-serif" font-size="53" text-anchor="middle" fill="#000">4</text>
<text x="2008.2" y="813.3" font-family="'Liberation Sans',sans-serif" font-size="53" text-anchor="middle" fill="#000">5</text>
<text x="1205.5" y="90.2" font-family="'Liberation Sans',sans-serif" font-size="53" text-anchor="end" fill="#000">16</text>
<text x="1205.5" y="261.1" font-family="'Liberation Sans',sans-serif" font-size="53" text-anchor="end" fill="#000">14</text>
<text x="1205.5" y="432.0" font-family="'Liberation Sans',sans-serif" font-size="53" text-anchor="end" fill="#000">12</text>
<text x="1205.5" y="602.9" font-family="'Liberation Sans',sans-serif" font-size="53" text-anchor="end" fill="#000">10</text>
<text x="1205.5" y="773.8" font-family="'Liberation Sans',sans-serif" font-size="53" text-anchor="end" fill="#000">8</text>
<text x="1645.3" y="872.7" font-family="'Liberation Sans',sans-serif" font-size="52" text-anchor="middle" fill="#000">Distance (nm)</text>
<text transform="translate(1105.0,384.8) rotate(-90)" font-family="'Liberation Sans',sans-serif" font-size="52" letter-spacing="-0.27" text-anchor="middle" fill="#000">Mixing entropy (J/(mol·K))</text>
<path d="M1264.1 356.0L1278.0 356.8M1303.7 354.6L1314.8 352.0M1339.6 353.7L1354.3 359.3M1378.2 358.6L1390.5 352.9M1413.2 354.6L1430.3 365.9M1453.0 367.6L1465.6 361.7M1490.4 355.6L1504.7 354.7M1530.7 355.0L1542.4 356.0M1568.3 355.6L1579.8 354.4M1604.4 358.6L1620.3 366.1M1644.8 369.7L1656.9 367.8M1681.9 361.4L1696.2 356.3M1721.4 352.6L1734.3 353.3M1758.0 361.4L1775.7 373.6M1799.4 380.1L1810.9 379.3M1836.8 380.2L1850.1 382.1M1874.3 377.5L1889.1 369.3M1911.4 369.8L1928.5 380.3M1952.5 386.4L1962.8 385.8M1988.6 382.5L2002.9 379.8M2028.6 375.9L2043.7 374.2" fill="none" stroke="#00ff00" stroke-width="3" stroke-dasharray="4.4 15" stroke-dashoffset="-4"/>
<g fill="#00ff00"><circle cx="1251.1" cy="355.2" r="9.5"/><circle cx="1291.0" cy="357.6" r="9.5"/><circle cx="1327.5" cy="349.0" r="9.5"/><circle cx="1366.4" cy="364.0" r="9.5"/><circle cx="1402.3" cy="347.5" r="9.5"/><circle cx="1441.2" cy="373.0" r="9.5"/><circle cx="1477.4" cy="356.3" r="9.5"/><circle cx="1517.7" cy="354.0" r="9.5"/><circle cx="1555.4" cy="357.0" r="9.5"/><circle cx="1592.7" cy="353.0" r="9.5"/><circle cx="1632.0" cy="371.7" r="9.5"/><circle cx="1669.7" cy="365.8" r="9.5"/><circle cx="1708.4" cy="351.9" r="9.5"/><circle cx="1747.3" cy="354.0" r="9.5"/><circle cx="1786.4" cy="381.0" r="9.5"/><circle cx="1823.9" cy="378.4" r="9.5"/><circle cx="1863.0" cy="383.9" r="9.5"/><circle cx="1900.4" cy="362.9" r="9.5"/><circle cx="1939.5" cy="387.2" r="9.5"/><circle cx="1975.8" cy="385.0" r="9.5"/><circle cx="2015.7" cy="377.3" r="9.5"/><circle cx="2056.6" cy="372.8" r="9.5"/></g>
<path d="M1264.1 354.8L1278.0 354.9M1301.3 362.9L1317.2 374.9M1340.2 380.2L1353.7 377.6M1377.6 368.4L1391.1 360.6M1413.7 360.2L1429.8 368.8M1452.9 380.7L1465.7 387.0M1489.1 398.5L1506.0 406.8M1528.0 404.7L1545.1 391.8M1567.3 378.6L1580.8 372.6M1605.0 371.6L1619.7 376.9M1642.0 372.9L1659.7 358.3M1680.2 357.7L1697.9 370.7M1721.2 380.9L1734.5 383.6M1760.3 385.7L1773.4 385.4M1795.3 375.5L1815.0 354.8M1834.1 353.3L1852.8 368.0M1872.7 367.3L1890.7 351.1M1912.3 347.7L1927.6 354.7M1952.0 363.6L1963.3 367.0M1988.8 370.2L2002.7 369.9M2028.1 365.7L2044.2 360.8" fill="none" stroke="#ff0000" stroke-width="3" stroke-dasharray="4.4 15" stroke-dashoffset="-4"/>
<g fill="#ff0000"><circle cx="1251.1" cy="354.7" r="9.5"/><circle cx="1291.0" cy="355.0" r="9.5"/><circle cx="1327.5" cy="382.8" r="9.5"/><circle cx="1366.4" cy="375.0" r="9.5"/><circle cx="1402.3" cy="354.0" r="9.5"/><circle cx="1441.2" cy="375.0" r="9.5"/><circle cx="1477.4" cy="392.7" r="9.5"/><circle cx="1517.7" cy="412.6" r="9.5"/><circle cx="1555.4" cy="383.9" r="9.5"/><circle cx="1592.7" cy="367.3" r="9.5"/><circle cx="1632.0" cy="381.2" r="9.5"/><circle cx="1669.7" cy="350.0" r="9.5"/><circle cx="1708.4" cy="378.4" r="9.5"/><circle cx="1747.3" cy="386.1" r="9.5"/><circle cx="1786.4" cy="385.0" r="9.5"/><circle cx="1823.9" cy="345.3" r="9.5"/><circle cx="1863.0" cy="376.0" r="9.5"/><circle cx="1900.4" cy="342.4" r="9.5"/><circle cx="1939.5" cy="360.0" r="9.5"/><circle cx="1975.8" cy="370.6" r="9.5"/><circle cx="2015.7" cy="369.5" r="9.5"/><circle cx="2056.6" cy="357.0" r="9.5"/></g>
<path d="M1263.1 367.4L1279.0 360.6M1302.6 361.5L1315.9 368.1M1339.5 378.9L1354.4 385.1M1378.3 384.7L1390.4 379.3M1415.3 373.2L1428.2 372.5M1453.5 367.6L1465.1 363.7M1487.9 367.2L1507.2 381.1M1530.0 384.4L1543.1 379.8M1564.8 366.5L1583.3 348.7M1605.7 339.7L1619.0 339.7M1644.8 342.0L1656.9 344.1M1680.9 353.1L1697.2 362.8M1721.0 366.2L1734.7 362.5M1759.9 356.1L1773.8 352.8M1797.8 356.0L1812.5 364.3M1836.9 370.7L1850.0 370.9M1874.8 376.6L1888.6 383.1M1910.5 396.9L1929.4 412.1M1945.4 408.7L1969.9 361.3M1987.0 356.3L2004.5 366.7M2028.4 370.7L2043.9 367.7" fill="none" stroke="#0000ff" stroke-width="3" stroke-dasharray="4.4 15" stroke-dashoffset="-4"/>
<g fill="#0000ff"><circle cx="1251.1" cy="372.4" r="9.5"/><circle cx="1291.0" cy="355.6" r="9.5"/><circle cx="1327.5" cy="374.0" r="9.5"/><circle cx="1366.4" cy="390.0" r="9.5"/><circle cx="1402.3" cy="374.0" r="9.5"/><circle cx="1441.2" cy="371.7" r="9.5"/><circle cx="1477.4" cy="359.6" r="9.5"/><circle cx="1517.7" cy="388.7" r="9.5"/><circle cx="1555.4" cy="375.5" r="9.5"/><circle cx="1592.7" cy="339.7" r="9.5"/><circle cx="1632.0" cy="339.7" r="9.5"/><circle cx="1669.7" cy="346.4" r="9.5"/><circle cx="1708.4" cy="369.5" r="9.5"/><circle cx="1747.3" cy="359.2" r="9.5"/><circle cx="1786.4" cy="349.7" r="9.5"/><circle cx="1823.9" cy="370.6" r="9.5"/><circle cx="1863.0" cy="371.0" r="9.5"/><circle cx="1900.4" cy="388.7" r="9.5"/><circle cx="1939.5" cy="420.3" r="9.5"/><circle cx="1975.8" cy="349.7" r="9.5"/><circle cx="2015.7" cy="373.3" r="9.5"/><circle cx="2056.6" cy="365.1" r="9.5"/></g>
<path d="M1242.1 597.9H1345.6" stroke="#00ff00" stroke-width="3.2" stroke-dasharray="5 14.6" fill="none"/>
<circle cx="1293.6" cy="597.9" r="9.8" fill="#00ff00"/>
<text x="1343.5" y="612.4" font-family="'Liberation Sans',sans-serif" font-size="44.5" fill="#000">Line 1</text>
<path d="M1242.1 653.0H1345.6" stroke="#ff0000" stroke-width="3.2" stroke-dasharray="5 14.6" fill="none"/>
<circle cx="1293.6" cy="653.0" r="9.8" fill="#ff0000"/>
<text x="1343.5" y="667.5" font-family="'Liberation Sans',sans-serif" font-size="44.5" fill="#000">Line 2</text>
<path d="M1242.1 708.2H1345.6" stroke="#0000ff" stroke-width="3.2" stroke-dasharray="5 14.6" fill="none"/>
<circle cx="1293.6" cy="708.2" r="9.8" fill="#0000ff"/>
<text x="1343.5" y="722.6" font-family="'Liberation Sans',sans-serif" font-size="44.5" fill="#000">Line 3</text>
<path d="M1257.5 1585.2V1572.8M1409.0 1585.2V1572.8M1560.5 1585.2V1572.8M1712.0 1585.2V1572.8M1863.5 1585.2V1572.8M2015.0 1585.2V1572.8M1333.2 1585.2V1578.3M1484.8 1585.2V1578.3M1636.2 1585.2V1578.3M1787.8 1585.2V1578.3M1939.2 1585.2V1578.3M1227.0 902.6H1239.4M1227.0 1073.2H1239.4M1227.0 1243.9H1239.4M1227.0 1414.6H1239.4M1227.0 1585.2H1239.4M1227.0 987.9H1233.9M1227.0 1158.6H1233.9M1227.0 1329.2H1233.9M1227.0 1499.9H1233.9" stroke="#000" stroke-width="4.4" fill="none"/>
<rect x="1227.0" y="902.6" width="848.0" height="682.6" fill="none" stroke="#000" stroke-width="4.8"/>
<text x="1257.5" y="1640.0" font-family="'Liberation Sans',sans-serif" font-size="53" text-anchor="middle" fill="#000">0</text>
<text x="1409.0" y="1640.0" font-family="'Liberation Sans',sans-serif" font-size="53" text-anchor="middle" fill="#000">1</text>
<text x="1560.5" y="1640.0" font-family="'Liberation Sans',sans-serif" font-size="53" text-anchor="middle" fill="#000">2</text>
<text x="1712.0" y="1640.0" font-family="'Liberation Sans',sans-serif" font-size="53" text-anchor="middle" fill="#000">3</text>
<text x="1863.5" y="1640.0" font-family="'Liberation Sans',sans-serif" font-size="53" text-anchor="middle" fill="#000">4</text>
<text x="2015.0" y="1640.0" font-family="'Liberation Sans',sans-serif" font-size="53" text-anchor="middle" fill="#000">5</text>
<text x="1211.5" y="918.2" font-family="'Liberation Sans',sans-serif" font-size="53" text-anchor="end" fill="#000">-2</text>
<text x="1211.5" y="1088.8" font-family="'Liberation Sans',sans-serif" font-size="53" text-anchor="end" fill="#000">-4</text>
<text x="1211.5" y="1259.5" font-family="'Liberation Sans',sans-serif" font-size="53" text-anchor="end" fill="#000">-6</text>
<text x="1211.5" y="1430.2" font-family="'Liberation Sans',sans-serif" font-size="53" text-anchor="end" fill="#000">-8</text>
<text x="1211.5" y="1600.8" font-family="'Liberation Sans',sans-serif" font-size="53" text-anchor="end" fill="#000">-10</text>
<text x="1651.0" y="1700.0" font-family="'Liberation Sans',sans-serif" font-size="52" text-anchor="middle" fill="#000">Distance (nm)</text>
<text transform="translate(1093.0,1216.0) rotate(-90)" font-family="'Liberation Sans',sans-serif" font-size="52" letter-spacing="-0.15" text-anchor="middle" fill="#000">Mixing enthalpy (kJ/mol)</text>
<path d="M1270.0 1433.3L1284.3 1436.0M1299.2 1425.7L1331.5 1224.8M1339.2 1223.7L1366.9 1281.7M1375.5 1306.0L1405.4 1431.3M1411.3 1431.2L1444.4 1284.9M1451.7 1260.0L1479.1 1183.3M1487.6 1158.8L1519.7 1061.4M1527.1 1061.7L1558.2 1181.2M1565.3 1206.2L1595.0 1302.1M1605.6 1303.4L1631.3 1262.1M1640.0 1263.9L1673.9 1492.1M1678.1 1492.2L1712.2 1303.1M1719.0 1278.1L1748.9 1196.8M1763.9 1192.2L1782.0 1205.4M1794.2 1225.9L1828.3 1486.6M1832.1 1486.7L1867.0 1278.0M1870.8 1278.1L1904.8 1544.1M1909.4 1544.3L1942.7 1400.4M1954.3 1378.1L1973.2 1357.4M1994.5 1344.7L2009.2 1341.1M2026.8 1350.0L2057.7 1423.4" fill="none" stroke="#00ff00" stroke-width="3" stroke-dasharray="4.4 15" stroke-dashoffset="-4"/>
<g fill="#00ff00"><circle cx="1257.2" cy="1430.8" r="9.5"/><circle cx="1297.1" cy="1438.5" r="9.5"/><circle cx="1333.6" cy="1212.0" r="9.5"/><circle cx="1372.5" cy="1293.4" r="9.5"/><circle cx="1408.4" cy="1443.9" r="9.5"/><circle cx="1447.3" cy="1272.2" r="9.5"/><circle cx="1483.5" cy="1171.1" r="9.5"/><circle cx="1523.8" cy="1049.1" r="9.5"/><circle cx="1561.5" cy="1193.8" r="9.5"/><circle cx="1598.8" cy="1314.5" r="9.5"/><circle cx="1638.1" cy="1251.0" r="9.5"/><circle cx="1675.8" cy="1505.0" r="9.5"/><circle cx="1714.5" cy="1290.3" r="9.5"/><circle cx="1753.4" cy="1184.6" r="9.5"/><circle cx="1792.5" cy="1213.0" r="9.5"/><circle cx="1830.0" cy="1499.5" r="9.5"/><circle cx="1869.1" cy="1265.2" r="9.5"/><circle cx="1906.5" cy="1557.0" r="9.5"/><circle cx="1945.6" cy="1387.7" r="9.5"/><circle cx="1981.9" cy="1347.8" r="9.5"/><circle cx="2021.8" cy="1338.0" r="9.5"/><circle cx="2062.7" cy="1435.4" r="9.5"/></g>
<path d="M1265.9 1349.3L1288.4 1374.1M1302.2 1395.6L1328.5 1456.8M1337.4 1456.3L1368.7 1353.1M1375.0 1353.5L1405.9 1512.9M1410.6 1512.9L1445.1 1311.8M1451.6 1311.3L1479.2 1391.3M1489.2 1415.3L1518.1 1473.7M1533.9 1477.2L1551.4 1462.8M1567.3 1466.2L1593.0 1517.6M1601.0 1516.4L1635.9 1308.2M1645.4 1306.2L1668.5 1340.6M1681.1 1363.3L1709.2 1425.6M1727.5 1438.0L1740.4 1438.6M1755.7 1426.3L1790.2 1233.6M1805.2 1223.4L1817.3 1225.9M1843.0 1227.4L1856.1 1226.2M1871.7 1237.8L1903.9 1397.6M1908.7 1397.5L1943.4 1192.9M1955.9 1188.0L1971.6 1200.0M1985.6 1220.4L2018.1 1328.8M2034.5 1338.6L2050.0 1335.4" fill="none" stroke="#ff0000" stroke-width="3" stroke-dasharray="4.4 15" stroke-dashoffset="-4"/>
<g fill="#ff0000"><circle cx="1257.2" cy="1339.7" r="9.5"/><circle cx="1297.1" cy="1383.7" r="9.5"/><circle cx="1333.6" cy="1468.7" r="9.5"/><circle cx="1372.5" cy="1340.7" r="9.5"/><circle cx="1408.4" cy="1525.7" r="9.5"/><circle cx="1447.3" cy="1299.0" r="9.5"/><circle cx="1483.5" cy="1403.6" r="9.5"/><circle cx="1523.8" cy="1485.4" r="9.5"/><circle cx="1561.5" cy="1454.6" r="9.5"/><circle cx="1598.8" cy="1529.2" r="9.5"/><circle cx="1638.1" cy="1295.4" r="9.5"/><circle cx="1675.8" cy="1351.4" r="9.5"/><circle cx="1714.5" cy="1437.5" r="9.5"/><circle cx="1753.4" cy="1439.1" r="9.5"/><circle cx="1792.5" cy="1220.8" r="9.5"/><circle cx="1830.0" cy="1228.5" r="9.5"/><circle cx="1869.1" cy="1225.1" r="9.5"/><circle cx="1906.5" cy="1410.3" r="9.5"/><circle cx="1945.6" cy="1180.1" r="9.5"/><circle cx="1981.9" cy="1207.9" r="9.5"/><circle cx="2021.8" cy="1341.3" r="9.5"/><circle cx="2062.7" cy="1332.7" r="9.5"/></g>
<path d="M1261.2 1305.2L1293.1 1405.3M1300.9 1405.3L1329.8 1311.2M1338.0 1286.6L1368.1 1202.4M1376.2 1202.7L1404.7 1297.4M1418.6 1301.9L1437.1 1287.3M1452.0 1291.4L1478.8 1359.9M1485.9 1359.2L1521.4 1174.2M1528.3 1173.6L1557.0 1252.3M1563.1 1277.4L1597.2 1557.0M1611.8 1570.4L1625.1 1571.0M1643.9 1559.9L1670.0 1507.1M1678.4 1482.8L1711.9 1317.2M1719.8 1316.4L1748.1 1380.2M1758.1 1404.2L1787.8 1481.4M1794.8 1480.7L1827.7 1301.1M1842.8 1290.6L1856.3 1293.1M1873.5 1283.2L1902.1 1204.4M1909.2 1179.5L1942.9 1018.5M1946.6 1018.8L1980.9 1455.3M1985.4 1455.8L2018.3 1336.1M2032.7 1330.7L2051.8 1343.3" fill="none" stroke="#0000ff" stroke-width="3" stroke-dasharray="4.4 15" stroke-dashoffset="-4"/>
<g fill="#0000ff"><circle cx="1257.2" cy="1292.8" r="9.5"/><circle cx="1297.1" cy="1417.7" r="9.5"/><circle cx="1333.6" cy="1298.8" r="9.5"/><circle cx="1372.5" cy="1190.2" r="9.5"/><circle cx="1408.4" cy="1309.9" r="9.5"/><circle cx="1447.3" cy="1279.3" r="9.5"/><circle cx="1483.5" cy="1372.0" r="9.5"/><circle cx="1523.8" cy="1161.4" r="9.5"/><circle cx="1561.5" cy="1264.5" r="9.5"/><circle cx="1598.8" cy="1569.9" r="9.5"/><circle cx="1638.1" cy="1571.5" r="9.5"/><circle cx="1675.8" cy="1495.5" r="9.5"/><circle cx="1714.5" cy="1304.5" r="9.5"/><circle cx="1753.4" cy="1392.1" r="9.5"/><circle cx="1792.5" cy="1493.5" r="9.5"/><circle cx="1830.0" cy="1288.3" r="9.5"/><circle cx="1869.1" cy="1295.4" r="9.5"/><circle cx="1906.5" cy="1192.2" r="9.5"/><circle cx="1945.6" cy="1005.8" r="9.5"/><circle cx="1981.9" cy="1468.3" r="9.5"/><circle cx="2021.8" cy="1323.6" r="9.5"/><circle cx="2062.7" cy="1350.4" r="9.5"/></g>
<path d="M1242.6 949.0H1346.1" stroke="#00ff00" stroke-width="3.2" stroke-dasharray="5 14.6" fill="none"/>
<circle cx="1294.1" cy="949.0" r="9.8" fill="#00ff00"/>
<text x="1343.5" y="963.5" font-family="'Liberation Sans',sans-serif" font-size="44.5" fill="#000">Line 1</text>
<path d="M1242.6 1004.4H1346.1" stroke="#ff0000" stroke-width="3.2" stroke-dasharray="5 14.6" fill="none"/>
<circle cx="1294.1" cy="1004.4" r="9.8" fill="#ff0000"/>
<text x="1343.5" y="1019.3" font-family="'Liberation Sans',sans-serif" font-size="44.5" fill="#000">Line 2</text>
<path d="M1242.6 1059.3H1346.1" stroke="#0000ff" stroke-width="3.2" stroke-dasharray="5 14.6" fill="none"/>
<circle cx="1294.1" cy="1059.3" r="9.8" fill="#0000ff"/>
<text x="1343.5" y="1073.6" font-family="'Liberation Sans',sans-serif" font-size="44.5" fill="#000">Line 3</text>
</svg></body></html>
